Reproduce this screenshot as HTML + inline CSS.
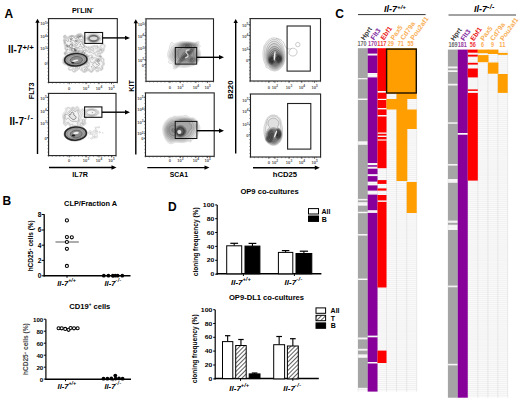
<!DOCTYPE html>
<html><head><meta charset="utf-8"><style>
html,body{margin:0;padding:0;background:#fff;}
svg{display:block;}
text{font-family:"Liberation Sans",sans-serif;}
</style></head><body>
<svg xmlns="http://www.w3.org/2000/svg" width="520" height="402" viewBox="0 0 520 402">
<defs>
<pattern id="hatch" patternUnits="userSpaceOnUse" width="3" height="3" patternTransform="rotate(45)">
<rect width="3" height="3" fill="#fff"/><line x1="0" y1="0" x2="0" y2="3" stroke="#000" stroke-width="1.25"/>
</pattern>
</defs>
<rect width="520" height="402" fill="#fff"/>
<text x="4.6" y="17.7" font-size="12" font-weight="bold" fill="#000" text-anchor="start"  >A</text>
<text x="72" y="13" font-size="7.2" font-weight="bold">PI<tspan font-size="4.5" dy="-2.8">-</tspan><tspan dy="2.8">LIN</tspan><tspan font-size="4.5" dy="-2.8">-</tspan></text>
<text x="8" y="53" font-size="10" font-weight="bold">Il-7<tspan font-size="7.8" dy="-3">+/+</tspan></text>
<text x="9.5" y="124.7" font-size="10" font-weight="bold">Il-7<tspan font-size="7.8" dy="-4.3" letter-spacing="0.9">-/-</tspan></text>
<text x="0" y="0" font-size="6.9" font-weight="bold" fill="#000" text-anchor="middle"  transform="translate(34.4,90.9) rotate(-90)" textLength="16.8" lengthAdjust="spacingAndGlyphs">FLT3</text>
<text x="0" y="0" font-size="6.6" font-weight="bold" fill="#000" text-anchor="middle"  transform="translate(133.7,86) rotate(-90)" textLength="11.7" lengthAdjust="spacingAndGlyphs">KIT</text>
<text x="0" y="0" font-size="7.2" font-weight="bold" fill="#000" text-anchor="middle"  transform="translate(233.1,89.8) rotate(-90)" textLength="18.5" lengthAdjust="spacingAndGlyphs">B220</text>
<line x1="37.5" y1="154" x2="37.5" y2="21.7" stroke="#000" stroke-width="1.4" />
<path d="M35.3,22.7 L37.5,18.7 L39.7,22.7 Z" fill="#000"/>
<line x1="135.8" y1="154.5" x2="135.8" y2="22.2" stroke="#000" stroke-width="1.4" />
<path d="M133.60000000000002,23.2 L135.8,19.2 L138.0,23.2 Z" fill="#000"/>
<line x1="235.7" y1="153.6" x2="235.7" y2="22" stroke="#000" stroke-width="1.4" />
<path d="M233.5,23 L235.7,19 L237.89999999999998,23 Z" fill="#000"/>
<line x1="49" y1="167.5" x2="113.5" y2="167.5" stroke="#000" stroke-width="1.4" />
<path d="M111.5,165.3 L116.5,167.5 L111.5,169.7 Z" fill="#000"/>
<line x1="147.3" y1="167.6" x2="206.5" y2="167.6" stroke="#000" stroke-width="1.4" />
<path d="M204.5,165.4 L209.5,167.6 L204.5,169.79999999999998 Z" fill="#000"/>
<line x1="253" y1="167.7" x2="316.8" y2="167.7" stroke="#000" stroke-width="1.4" />
<path d="M314.8,165.5 L319.8,167.7 L314.8,169.89999999999998 Z" fill="#000"/>
<text x="80.1" y="176.8" font-size="8.1" font-weight="bold" fill="#000" text-anchor="middle"  textLength="15.6" lengthAdjust="spacingAndGlyphs">IL7R</text>
<text x="178.9" y="176.8" font-size="8.1" font-weight="bold" fill="#000" text-anchor="middle"  textLength="18.2" lengthAdjust="spacingAndGlyphs">SCA1</text>
<text x="285" y="176.8" font-size="8.1" font-weight="bold" fill="#000" text-anchor="middle"  textLength="24.3" lengthAdjust="spacingAndGlyphs">hCD25</text>
<rect x="48.6" y="18.6" width="68.69999999999999" height="63.800000000000004" fill="#fff" stroke="#222" stroke-width="1.1" />
<line x1="47.4" y1="18.6" x2="48.6" y2="18.6" stroke="#333" stroke-width="0.5" />
<line x1="48.6" y1="82.4" x2="48.6" y2="83.60000000000001" stroke="#333" stroke-width="0.5" />
<line x1="47.4" y1="22.144444444444446" x2="48.6" y2="22.144444444444446" stroke="#333" stroke-width="0.5" />
<line x1="52.416666666666664" y1="82.4" x2="52.416666666666664" y2="83.60000000000001" stroke="#333" stroke-width="0.5" />
<line x1="47.4" y1="25.68888888888889" x2="48.6" y2="25.68888888888889" stroke="#333" stroke-width="0.5" />
<line x1="56.233333333333334" y1="82.4" x2="56.233333333333334" y2="83.60000000000001" stroke="#333" stroke-width="0.5" />
<line x1="47.4" y1="29.233333333333334" x2="48.6" y2="29.233333333333334" stroke="#333" stroke-width="0.5" />
<line x1="60.05" y1="82.4" x2="60.05" y2="83.60000000000001" stroke="#333" stroke-width="0.5" />
<line x1="47.4" y1="32.77777777777778" x2="48.6" y2="32.77777777777778" stroke="#333" stroke-width="0.5" />
<line x1="63.86666666666667" y1="82.4" x2="63.86666666666667" y2="83.60000000000001" stroke="#333" stroke-width="0.5" />
<line x1="47.4" y1="36.32222222222222" x2="48.6" y2="36.32222222222222" stroke="#333" stroke-width="0.5" />
<line x1="67.68333333333334" y1="82.4" x2="67.68333333333334" y2="83.60000000000001" stroke="#333" stroke-width="0.5" />
<line x1="47.4" y1="39.86666666666667" x2="48.6" y2="39.86666666666667" stroke="#333" stroke-width="0.5" />
<line x1="71.5" y1="82.4" x2="71.5" y2="83.60000000000001" stroke="#333" stroke-width="0.5" />
<line x1="47.4" y1="43.41111111111111" x2="48.6" y2="43.41111111111111" stroke="#333" stroke-width="0.5" />
<line x1="75.31666666666666" y1="82.4" x2="75.31666666666666" y2="83.60000000000001" stroke="#333" stroke-width="0.5" />
<line x1="47.4" y1="46.95555555555556" x2="48.6" y2="46.95555555555556" stroke="#333" stroke-width="0.5" />
<line x1="79.13333333333333" y1="82.4" x2="79.13333333333333" y2="83.60000000000001" stroke="#333" stroke-width="0.5" />
<line x1="47.4" y1="50.5" x2="48.6" y2="50.5" stroke="#333" stroke-width="0.5" />
<line x1="82.94999999999999" y1="82.4" x2="82.94999999999999" y2="83.60000000000001" stroke="#333" stroke-width="0.5" />
<line x1="47.4" y1="54.044444444444444" x2="48.6" y2="54.044444444444444" stroke="#333" stroke-width="0.5" />
<line x1="86.76666666666665" y1="82.4" x2="86.76666666666665" y2="83.60000000000001" stroke="#333" stroke-width="0.5" />
<line x1="47.4" y1="57.588888888888896" x2="48.6" y2="57.588888888888896" stroke="#333" stroke-width="0.5" />
<line x1="90.58333333333331" y1="82.4" x2="90.58333333333331" y2="83.60000000000001" stroke="#333" stroke-width="0.5" />
<line x1="47.4" y1="61.13333333333333" x2="48.6" y2="61.13333333333333" stroke="#333" stroke-width="0.5" />
<line x1="94.39999999999999" y1="82.4" x2="94.39999999999999" y2="83.60000000000001" stroke="#333" stroke-width="0.5" />
<line x1="47.4" y1="64.67777777777778" x2="48.6" y2="64.67777777777778" stroke="#333" stroke-width="0.5" />
<line x1="98.21666666666667" y1="82.4" x2="98.21666666666667" y2="83.60000000000001" stroke="#333" stroke-width="0.5" />
<line x1="47.4" y1="68.22222222222223" x2="48.6" y2="68.22222222222223" stroke="#333" stroke-width="0.5" />
<line x1="102.03333333333333" y1="82.4" x2="102.03333333333333" y2="83.60000000000001" stroke="#333" stroke-width="0.5" />
<line x1="47.4" y1="71.76666666666668" x2="48.6" y2="71.76666666666668" stroke="#333" stroke-width="0.5" />
<line x1="105.85" y1="82.4" x2="105.85" y2="83.60000000000001" stroke="#333" stroke-width="0.5" />
<line x1="47.4" y1="75.31111111111112" x2="48.6" y2="75.31111111111112" stroke="#333" stroke-width="0.5" />
<line x1="109.66666666666666" y1="82.4" x2="109.66666666666666" y2="83.60000000000001" stroke="#333" stroke-width="0.5" />
<line x1="47.4" y1="78.85555555555555" x2="48.6" y2="78.85555555555555" stroke="#333" stroke-width="0.5" />
<line x1="113.48333333333332" y1="82.4" x2="113.48333333333332" y2="83.60000000000001" stroke="#333" stroke-width="0.5" />
<line x1="47.4" y1="82.4" x2="48.6" y2="82.4" stroke="#333" stroke-width="0.5" />
<line x1="117.29999999999998" y1="82.4" x2="117.29999999999998" y2="83.60000000000001" stroke="#333" stroke-width="0.5" />
<line x1="46.800000000000004" y1="23" x2="48.6" y2="23" stroke="#222" stroke-width="0.7" />
<text x="46.7" y="25.1" font-size="4.1" font-weight="bold" text-anchor="end" fill="#555">10<tspan font-size="3.2" dy="-1.6">5</tspan></text>
<line x1="46.800000000000004" y1="36" x2="48.6" y2="36" stroke="#222" stroke-width="0.7" />
<text x="46.7" y="38.1" font-size="4.1" font-weight="bold" text-anchor="end" fill="#555">10<tspan font-size="3.2" dy="-1.6">4</tspan></text>
<line x1="46.800000000000004" y1="48.3" x2="48.6" y2="48.3" stroke="#222" stroke-width="0.7" />
<text x="46.7" y="50.4" font-size="4.1" font-weight="bold" text-anchor="end" fill="#555">10<tspan font-size="3.2" dy="-1.6">3</tspan></text>
<line x1="46.800000000000004" y1="63" x2="48.6" y2="63" stroke="#222" stroke-width="0.7" />
<text x="46.7" y="65.1" font-size="4.1" font-weight="bold" text-anchor="end" fill="#555">0</text>
<line x1="69.2" y1="82.4" x2="69.2" y2="84.2" stroke="#222" stroke-width="0.7" />
<text x="69.2" y="89.5" font-size="4.1" font-weight="bold" text-anchor="middle" fill="#555">0</text>
<line x1="86" y1="82.4" x2="86" y2="84.2" stroke="#222" stroke-width="0.7" />
<text x="86" y="89.5" font-size="4.1" font-weight="bold" text-anchor="middle" fill="#555">10<tspan font-size="3.2" dy="-1.6">3</tspan></text>
<line x1="99" y1="82.4" x2="99" y2="84.2" stroke="#222" stroke-width="0.7" />
<text x="99" y="89.5" font-size="4.1" font-weight="bold" text-anchor="middle" fill="#555">10<tspan font-size="3.2" dy="-1.6">4</tspan></text>
<line x1="111.5" y1="82.4" x2="111.5" y2="84.2" stroke="#222" stroke-width="0.7" />
<text x="111.5" y="89.5" font-size="4.1" font-weight="bold" text-anchor="middle" fill="#555">10<tspan font-size="3.2" dy="-1.6">5</tspan></text>
<rect x="48.6" y="93.4" width="67.4" height="62.19999999999999" fill="#fff" stroke="#222" stroke-width="1.1" />
<line x1="47.4" y1="93.4" x2="48.6" y2="93.4" stroke="#333" stroke-width="0.5" />
<line x1="48.6" y1="155.6" x2="48.6" y2="156.79999999999998" stroke="#333" stroke-width="0.5" />
<line x1="47.4" y1="96.85555555555555" x2="48.6" y2="96.85555555555555" stroke="#333" stroke-width="0.5" />
<line x1="52.34444444444445" y1="155.6" x2="52.34444444444445" y2="156.79999999999998" stroke="#333" stroke-width="0.5" />
<line x1="47.4" y1="100.31111111111112" x2="48.6" y2="100.31111111111112" stroke="#333" stroke-width="0.5" />
<line x1="56.08888888888889" y1="155.6" x2="56.08888888888889" y2="156.79999999999998" stroke="#333" stroke-width="0.5" />
<line x1="47.4" y1="103.76666666666667" x2="48.6" y2="103.76666666666667" stroke="#333" stroke-width="0.5" />
<line x1="59.833333333333336" y1="155.6" x2="59.833333333333336" y2="156.79999999999998" stroke="#333" stroke-width="0.5" />
<line x1="47.4" y1="107.22222222222223" x2="48.6" y2="107.22222222222223" stroke="#333" stroke-width="0.5" />
<line x1="63.57777777777778" y1="155.6" x2="63.57777777777778" y2="156.79999999999998" stroke="#333" stroke-width="0.5" />
<line x1="47.4" y1="110.67777777777778" x2="48.6" y2="110.67777777777778" stroke="#333" stroke-width="0.5" />
<line x1="67.32222222222222" y1="155.6" x2="67.32222222222222" y2="156.79999999999998" stroke="#333" stroke-width="0.5" />
<line x1="47.4" y1="114.13333333333334" x2="48.6" y2="114.13333333333334" stroke="#333" stroke-width="0.5" />
<line x1="71.06666666666666" y1="155.6" x2="71.06666666666666" y2="156.79999999999998" stroke="#333" stroke-width="0.5" />
<line x1="47.4" y1="117.58888888888889" x2="48.6" y2="117.58888888888889" stroke="#333" stroke-width="0.5" />
<line x1="74.81111111111112" y1="155.6" x2="74.81111111111112" y2="156.79999999999998" stroke="#333" stroke-width="0.5" />
<line x1="47.4" y1="121.04444444444445" x2="48.6" y2="121.04444444444445" stroke="#333" stroke-width="0.5" />
<line x1="78.55555555555556" y1="155.6" x2="78.55555555555556" y2="156.79999999999998" stroke="#333" stroke-width="0.5" />
<line x1="47.4" y1="124.5" x2="48.6" y2="124.5" stroke="#333" stroke-width="0.5" />
<line x1="82.30000000000001" y1="155.6" x2="82.30000000000001" y2="156.79999999999998" stroke="#333" stroke-width="0.5" />
<line x1="47.4" y1="127.95555555555555" x2="48.6" y2="127.95555555555555" stroke="#333" stroke-width="0.5" />
<line x1="86.04444444444445" y1="155.6" x2="86.04444444444445" y2="156.79999999999998" stroke="#333" stroke-width="0.5" />
<line x1="47.4" y1="131.4111111111111" x2="48.6" y2="131.4111111111111" stroke="#333" stroke-width="0.5" />
<line x1="89.78888888888889" y1="155.6" x2="89.78888888888889" y2="156.79999999999998" stroke="#333" stroke-width="0.5" />
<line x1="47.4" y1="134.86666666666667" x2="48.6" y2="134.86666666666667" stroke="#333" stroke-width="0.5" />
<line x1="93.53333333333333" y1="155.6" x2="93.53333333333333" y2="156.79999999999998" stroke="#333" stroke-width="0.5" />
<line x1="47.4" y1="138.32222222222222" x2="48.6" y2="138.32222222222222" stroke="#333" stroke-width="0.5" />
<line x1="97.27777777777777" y1="155.6" x2="97.27777777777777" y2="156.79999999999998" stroke="#333" stroke-width="0.5" />
<line x1="47.4" y1="141.77777777777777" x2="48.6" y2="141.77777777777777" stroke="#333" stroke-width="0.5" />
<line x1="101.02222222222224" y1="155.6" x2="101.02222222222224" y2="156.79999999999998" stroke="#333" stroke-width="0.5" />
<line x1="47.4" y1="145.23333333333332" x2="48.6" y2="145.23333333333332" stroke="#333" stroke-width="0.5" />
<line x1="104.76666666666668" y1="155.6" x2="104.76666666666668" y2="156.79999999999998" stroke="#333" stroke-width="0.5" />
<line x1="47.4" y1="148.68888888888887" x2="48.6" y2="148.68888888888887" stroke="#333" stroke-width="0.5" />
<line x1="108.51111111111112" y1="155.6" x2="108.51111111111112" y2="156.79999999999998" stroke="#333" stroke-width="0.5" />
<line x1="47.4" y1="152.14444444444445" x2="48.6" y2="152.14444444444445" stroke="#333" stroke-width="0.5" />
<line x1="112.25555555555556" y1="155.6" x2="112.25555555555556" y2="156.79999999999998" stroke="#333" stroke-width="0.5" />
<line x1="47.4" y1="155.6" x2="48.6" y2="155.6" stroke="#333" stroke-width="0.5" />
<line x1="116.0" y1="155.6" x2="116.0" y2="156.79999999999998" stroke="#333" stroke-width="0.5" />
<line x1="46.800000000000004" y1="97.5" x2="48.6" y2="97.5" stroke="#222" stroke-width="0.7" />
<text x="46.7" y="99.6" font-size="4.1" font-weight="bold" text-anchor="end" fill="#555">10<tspan font-size="3.2" dy="-1.6">5</tspan></text>
<line x1="46.800000000000004" y1="110.5" x2="48.6" y2="110.5" stroke="#222" stroke-width="0.7" />
<text x="46.7" y="112.6" font-size="4.1" font-weight="bold" text-anchor="end" fill="#555">10<tspan font-size="3.2" dy="-1.6">4</tspan></text>
<line x1="46.800000000000004" y1="122.8" x2="48.6" y2="122.8" stroke="#222" stroke-width="0.7" />
<text x="46.7" y="124.89999999999999" font-size="4.1" font-weight="bold" text-anchor="end" fill="#555">10<tspan font-size="3.2" dy="-1.6">3</tspan></text>
<line x1="46.800000000000004" y1="137.5" x2="48.6" y2="137.5" stroke="#222" stroke-width="0.7" />
<text x="46.7" y="139.6" font-size="4.1" font-weight="bold" text-anchor="end" fill="#555">0</text>
<line x1="69.2" y1="155.6" x2="69.2" y2="157.4" stroke="#222" stroke-width="0.7" />
<text x="69.2" y="162" font-size="4.1" font-weight="bold" text-anchor="middle" fill="#555">0</text>
<line x1="86" y1="155.6" x2="86" y2="157.4" stroke="#222" stroke-width="0.7" />
<text x="86" y="162" font-size="4.1" font-weight="bold" text-anchor="middle" fill="#555">10<tspan font-size="3.2" dy="-1.6">3</tspan></text>
<line x1="99" y1="155.6" x2="99" y2="157.4" stroke="#222" stroke-width="0.7" />
<text x="99" y="162" font-size="4.1" font-weight="bold" text-anchor="middle" fill="#555">10<tspan font-size="3.2" dy="-1.6">4</tspan></text>
<line x1="111.5" y1="155.6" x2="111.5" y2="157.4" stroke="#222" stroke-width="0.7" />
<text x="111.5" y="162" font-size="4.1" font-weight="bold" text-anchor="middle" fill="#555">10<tspan font-size="3.2" dy="-1.6">5</tspan></text>
<rect x="146" y="18.8" width="67.5" height="62.5" fill="#fff" stroke="#222" stroke-width="1.1" />
<line x1="144.8" y1="18.8" x2="146" y2="18.8" stroke="#333" stroke-width="0.5" />
<line x1="146.0" y1="81.3" x2="146.0" y2="82.5" stroke="#333" stroke-width="0.5" />
<line x1="144.8" y1="22.272222222222222" x2="146" y2="22.272222222222222" stroke="#333" stroke-width="0.5" />
<line x1="149.75" y1="81.3" x2="149.75" y2="82.5" stroke="#333" stroke-width="0.5" />
<line x1="144.8" y1="25.744444444444447" x2="146" y2="25.744444444444447" stroke="#333" stroke-width="0.5" />
<line x1="153.5" y1="81.3" x2="153.5" y2="82.5" stroke="#333" stroke-width="0.5" />
<line x1="144.8" y1="29.21666666666667" x2="146" y2="29.21666666666667" stroke="#333" stroke-width="0.5" />
<line x1="157.25" y1="81.3" x2="157.25" y2="82.5" stroke="#333" stroke-width="0.5" />
<line x1="144.8" y1="32.68888888888889" x2="146" y2="32.68888888888889" stroke="#333" stroke-width="0.5" />
<line x1="161.0" y1="81.3" x2="161.0" y2="82.5" stroke="#333" stroke-width="0.5" />
<line x1="144.8" y1="36.16111111111111" x2="146" y2="36.16111111111111" stroke="#333" stroke-width="0.5" />
<line x1="164.75" y1="81.3" x2="164.75" y2="82.5" stroke="#333" stroke-width="0.5" />
<line x1="144.8" y1="39.63333333333333" x2="146" y2="39.63333333333333" stroke="#333" stroke-width="0.5" />
<line x1="168.5" y1="81.3" x2="168.5" y2="82.5" stroke="#333" stroke-width="0.5" />
<line x1="144.8" y1="43.105555555555554" x2="146" y2="43.105555555555554" stroke="#333" stroke-width="0.5" />
<line x1="172.25" y1="81.3" x2="172.25" y2="82.5" stroke="#333" stroke-width="0.5" />
<line x1="144.8" y1="46.57777777777778" x2="146" y2="46.57777777777778" stroke="#333" stroke-width="0.5" />
<line x1="176.0" y1="81.3" x2="176.0" y2="82.5" stroke="#333" stroke-width="0.5" />
<line x1="144.8" y1="50.05" x2="146" y2="50.05" stroke="#333" stroke-width="0.5" />
<line x1="179.75" y1="81.3" x2="179.75" y2="82.5" stroke="#333" stroke-width="0.5" />
<line x1="144.8" y1="53.522222222222226" x2="146" y2="53.522222222222226" stroke="#333" stroke-width="0.5" />
<line x1="183.5" y1="81.3" x2="183.5" y2="82.5" stroke="#333" stroke-width="0.5" />
<line x1="144.8" y1="56.99444444444444" x2="146" y2="56.99444444444444" stroke="#333" stroke-width="0.5" />
<line x1="187.25" y1="81.3" x2="187.25" y2="82.5" stroke="#333" stroke-width="0.5" />
<line x1="144.8" y1="60.46666666666667" x2="146" y2="60.46666666666667" stroke="#333" stroke-width="0.5" />
<line x1="191.0" y1="81.3" x2="191.0" y2="82.5" stroke="#333" stroke-width="0.5" />
<line x1="144.8" y1="63.93888888888888" x2="146" y2="63.93888888888888" stroke="#333" stroke-width="0.5" />
<line x1="194.75" y1="81.3" x2="194.75" y2="82.5" stroke="#333" stroke-width="0.5" />
<line x1="144.8" y1="67.41111111111111" x2="146" y2="67.41111111111111" stroke="#333" stroke-width="0.5" />
<line x1="198.5" y1="81.3" x2="198.5" y2="82.5" stroke="#333" stroke-width="0.5" />
<line x1="144.8" y1="70.88333333333334" x2="146" y2="70.88333333333334" stroke="#333" stroke-width="0.5" />
<line x1="202.25" y1="81.3" x2="202.25" y2="82.5" stroke="#333" stroke-width="0.5" />
<line x1="144.8" y1="74.35555555555555" x2="146" y2="74.35555555555555" stroke="#333" stroke-width="0.5" />
<line x1="206.0" y1="81.3" x2="206.0" y2="82.5" stroke="#333" stroke-width="0.5" />
<line x1="144.8" y1="77.82777777777778" x2="146" y2="77.82777777777778" stroke="#333" stroke-width="0.5" />
<line x1="209.75" y1="81.3" x2="209.75" y2="82.5" stroke="#333" stroke-width="0.5" />
<line x1="144.8" y1="81.3" x2="146" y2="81.3" stroke="#333" stroke-width="0.5" />
<line x1="213.5" y1="81.3" x2="213.5" y2="82.5" stroke="#333" stroke-width="0.5" />
<line x1="144.2" y1="24" x2="146" y2="24" stroke="#222" stroke-width="0.7" />
<text x="144.1" y="26.1" font-size="4.1" font-weight="bold" text-anchor="end" fill="#555">10<tspan font-size="3.2" dy="-1.6">5</tspan></text>
<line x1="144.2" y1="35.4" x2="146" y2="35.4" stroke="#222" stroke-width="0.7" />
<text x="144.1" y="37.5" font-size="4.1" font-weight="bold" text-anchor="end" fill="#555">10<tspan font-size="3.2" dy="-1.6">4</tspan></text>
<line x1="144.2" y1="48" x2="146" y2="48" stroke="#222" stroke-width="0.7" />
<text x="144.1" y="50.1" font-size="4.1" font-weight="bold" text-anchor="end" fill="#555">10<tspan font-size="3.2" dy="-1.6">3</tspan></text>
<line x1="144.2" y1="59.7" x2="146" y2="59.7" stroke="#222" stroke-width="0.7" />
<text x="144.1" y="61.800000000000004" font-size="4.1" font-weight="bold" text-anchor="end" fill="#555">10<tspan font-size="3.2" dy="-1.6">2</tspan></text>
<line x1="144.2" y1="64.6" x2="146" y2="64.6" stroke="#222" stroke-width="0.7" />
<text x="144.1" y="66.69999999999999" font-size="4.1" font-weight="bold" text-anchor="end" fill="#555">0</text>
<line x1="169.9" y1="81.3" x2="169.9" y2="83.1" stroke="#222" stroke-width="0.7" />
<text x="169.9" y="89" font-size="4.1" font-weight="bold" text-anchor="middle" fill="#555">0</text>
<line x1="180.3" y1="81.3" x2="180.3" y2="83.1" stroke="#222" stroke-width="0.7" />
<text x="180.3" y="89" font-size="4.1" font-weight="bold" text-anchor="middle" fill="#555">10<tspan font-size="3.2" dy="-1.6">3</tspan></text>
<line x1="195.9" y1="81.3" x2="195.9" y2="83.1" stroke="#222" stroke-width="0.7" />
<text x="195.9" y="89" font-size="4.1" font-weight="bold" text-anchor="middle" fill="#555">10<tspan font-size="3.2" dy="-1.6">4</tspan></text>
<line x1="207.6" y1="81.3" x2="207.6" y2="83.1" stroke="#222" stroke-width="0.7" />
<text x="207.6" y="89" font-size="4.1" font-weight="bold" text-anchor="middle" fill="#555">10<tspan font-size="3.2" dy="-1.6">5</tspan></text>
<rect x="145.5" y="92.9" width="68.69999999999999" height="63.400000000000006" fill="#fff" stroke="#222" stroke-width="1.1" />
<line x1="144.3" y1="92.9" x2="145.5" y2="92.9" stroke="#333" stroke-width="0.5" />
<line x1="145.5" y1="156.3" x2="145.5" y2="157.5" stroke="#333" stroke-width="0.5" />
<line x1="144.3" y1="96.42222222222223" x2="145.5" y2="96.42222222222223" stroke="#333" stroke-width="0.5" />
<line x1="149.31666666666666" y1="156.3" x2="149.31666666666666" y2="157.5" stroke="#333" stroke-width="0.5" />
<line x1="144.3" y1="99.94444444444446" x2="145.5" y2="99.94444444444446" stroke="#333" stroke-width="0.5" />
<line x1="153.13333333333333" y1="156.3" x2="153.13333333333333" y2="157.5" stroke="#333" stroke-width="0.5" />
<line x1="144.3" y1="103.46666666666667" x2="145.5" y2="103.46666666666667" stroke="#333" stroke-width="0.5" />
<line x1="156.95" y1="156.3" x2="156.95" y2="157.5" stroke="#333" stroke-width="0.5" />
<line x1="144.3" y1="106.9888888888889" x2="145.5" y2="106.9888888888889" stroke="#333" stroke-width="0.5" />
<line x1="160.76666666666665" y1="156.3" x2="160.76666666666665" y2="157.5" stroke="#333" stroke-width="0.5" />
<line x1="144.3" y1="110.51111111111112" x2="145.5" y2="110.51111111111112" stroke="#333" stroke-width="0.5" />
<line x1="164.58333333333331" y1="156.3" x2="164.58333333333331" y2="157.5" stroke="#333" stroke-width="0.5" />
<line x1="144.3" y1="114.03333333333335" x2="145.5" y2="114.03333333333335" stroke="#333" stroke-width="0.5" />
<line x1="168.4" y1="156.3" x2="168.4" y2="157.5" stroke="#333" stroke-width="0.5" />
<line x1="144.3" y1="117.55555555555557" x2="145.5" y2="117.55555555555557" stroke="#333" stroke-width="0.5" />
<line x1="172.21666666666667" y1="156.3" x2="172.21666666666667" y2="157.5" stroke="#333" stroke-width="0.5" />
<line x1="144.3" y1="121.07777777777778" x2="145.5" y2="121.07777777777778" stroke="#333" stroke-width="0.5" />
<line x1="176.03333333333333" y1="156.3" x2="176.03333333333333" y2="157.5" stroke="#333" stroke-width="0.5" />
<line x1="144.3" y1="124.60000000000001" x2="145.5" y2="124.60000000000001" stroke="#333" stroke-width="0.5" />
<line x1="179.85" y1="156.3" x2="179.85" y2="157.5" stroke="#333" stroke-width="0.5" />
<line x1="144.3" y1="128.12222222222223" x2="145.5" y2="128.12222222222223" stroke="#333" stroke-width="0.5" />
<line x1="183.66666666666666" y1="156.3" x2="183.66666666666666" y2="157.5" stroke="#333" stroke-width="0.5" />
<line x1="144.3" y1="131.64444444444445" x2="145.5" y2="131.64444444444445" stroke="#333" stroke-width="0.5" />
<line x1="187.48333333333332" y1="156.3" x2="187.48333333333332" y2="157.5" stroke="#333" stroke-width="0.5" />
<line x1="144.3" y1="135.16666666666669" x2="145.5" y2="135.16666666666669" stroke="#333" stroke-width="0.5" />
<line x1="191.29999999999998" y1="156.3" x2="191.29999999999998" y2="157.5" stroke="#333" stroke-width="0.5" />
<line x1="144.3" y1="138.6888888888889" x2="145.5" y2="138.6888888888889" stroke="#333" stroke-width="0.5" />
<line x1="195.11666666666667" y1="156.3" x2="195.11666666666667" y2="157.5" stroke="#333" stroke-width="0.5" />
<line x1="144.3" y1="142.2111111111111" x2="145.5" y2="142.2111111111111" stroke="#333" stroke-width="0.5" />
<line x1="198.93333333333334" y1="156.3" x2="198.93333333333334" y2="157.5" stroke="#333" stroke-width="0.5" />
<line x1="144.3" y1="145.73333333333335" x2="145.5" y2="145.73333333333335" stroke="#333" stroke-width="0.5" />
<line x1="202.75" y1="156.3" x2="202.75" y2="157.5" stroke="#333" stroke-width="0.5" />
<line x1="144.3" y1="149.25555555555556" x2="145.5" y2="149.25555555555556" stroke="#333" stroke-width="0.5" />
<line x1="206.56666666666666" y1="156.3" x2="206.56666666666666" y2="157.5" stroke="#333" stroke-width="0.5" />
<line x1="144.3" y1="152.7777777777778" x2="145.5" y2="152.7777777777778" stroke="#333" stroke-width="0.5" />
<line x1="210.38333333333333" y1="156.3" x2="210.38333333333333" y2="157.5" stroke="#333" stroke-width="0.5" />
<line x1="144.3" y1="156.3" x2="145.5" y2="156.3" stroke="#333" stroke-width="0.5" />
<line x1="214.2" y1="156.3" x2="214.2" y2="157.5" stroke="#333" stroke-width="0.5" />
<line x1="143.7" y1="97.6" x2="145.5" y2="97.6" stroke="#222" stroke-width="0.7" />
<text x="143.6" y="99.69999999999999" font-size="4.1" font-weight="bold" text-anchor="end" fill="#555">10<tspan font-size="3.2" dy="-1.6">5</tspan></text>
<line x1="143.7" y1="109.0" x2="145.5" y2="109.0" stroke="#222" stroke-width="0.7" />
<text x="143.6" y="111.1" font-size="4.1" font-weight="bold" text-anchor="end" fill="#555">10<tspan font-size="3.2" dy="-1.6">4</tspan></text>
<line x1="143.7" y1="121.6" x2="145.5" y2="121.6" stroke="#222" stroke-width="0.7" />
<text x="143.6" y="123.69999999999999" font-size="4.1" font-weight="bold" text-anchor="end" fill="#555">10<tspan font-size="3.2" dy="-1.6">3</tspan></text>
<line x1="143.7" y1="133.3" x2="145.5" y2="133.3" stroke="#222" stroke-width="0.7" />
<text x="143.6" y="135.4" font-size="4.1" font-weight="bold" text-anchor="end" fill="#555">10<tspan font-size="3.2" dy="-1.6">2</tspan></text>
<line x1="143.7" y1="138.2" x2="145.5" y2="138.2" stroke="#222" stroke-width="0.7" />
<text x="143.6" y="140.29999999999998" font-size="4.1" font-weight="bold" text-anchor="end" fill="#555">0</text>
<line x1="169.9" y1="156.3" x2="169.9" y2="158.10000000000002" stroke="#222" stroke-width="0.7" />
<text x="169.9" y="162" font-size="4.1" font-weight="bold" text-anchor="middle" fill="#555">0</text>
<line x1="180.3" y1="156.3" x2="180.3" y2="158.10000000000002" stroke="#222" stroke-width="0.7" />
<text x="180.3" y="162" font-size="4.1" font-weight="bold" text-anchor="middle" fill="#555">10<tspan font-size="3.2" dy="-1.6">3</tspan></text>
<line x1="195.9" y1="156.3" x2="195.9" y2="158.10000000000002" stroke="#222" stroke-width="0.7" />
<text x="195.9" y="162" font-size="4.1" font-weight="bold" text-anchor="middle" fill="#555">10<tspan font-size="3.2" dy="-1.6">4</tspan></text>
<line x1="207.6" y1="156.3" x2="207.6" y2="158.10000000000002" stroke="#222" stroke-width="0.7" />
<text x="207.6" y="162" font-size="4.1" font-weight="bold" text-anchor="middle" fill="#555">10<tspan font-size="3.2" dy="-1.6">5</tspan></text>
<rect x="250.2" y="18.6" width="70.30000000000001" height="62.4" fill="#fff" stroke="#222" stroke-width="1.1" />
<line x1="249.0" y1="18.6" x2="250.2" y2="18.6" stroke="#333" stroke-width="0.5" />
<line x1="250.2" y1="81" x2="250.2" y2="82.2" stroke="#333" stroke-width="0.5" />
<line x1="249.0" y1="22.06666666666667" x2="250.2" y2="22.06666666666667" stroke="#333" stroke-width="0.5" />
<line x1="254.10555555555555" y1="81" x2="254.10555555555555" y2="82.2" stroke="#333" stroke-width="0.5" />
<line x1="249.0" y1="25.533333333333335" x2="250.2" y2="25.533333333333335" stroke="#333" stroke-width="0.5" />
<line x1="258.0111111111111" y1="81" x2="258.0111111111111" y2="82.2" stroke="#333" stroke-width="0.5" />
<line x1="249.0" y1="29.0" x2="250.2" y2="29.0" stroke="#333" stroke-width="0.5" />
<line x1="261.91666666666663" y1="81" x2="261.91666666666663" y2="82.2" stroke="#333" stroke-width="0.5" />
<line x1="249.0" y1="32.46666666666667" x2="250.2" y2="32.46666666666667" stroke="#333" stroke-width="0.5" />
<line x1="265.8222222222222" y1="81" x2="265.8222222222222" y2="82.2" stroke="#333" stroke-width="0.5" />
<line x1="249.0" y1="35.93333333333334" x2="250.2" y2="35.93333333333334" stroke="#333" stroke-width="0.5" />
<line x1="269.72777777777776" y1="81" x2="269.72777777777776" y2="82.2" stroke="#333" stroke-width="0.5" />
<line x1="249.0" y1="39.4" x2="250.2" y2="39.4" stroke="#333" stroke-width="0.5" />
<line x1="273.6333333333333" y1="81" x2="273.6333333333333" y2="82.2" stroke="#333" stroke-width="0.5" />
<line x1="249.0" y1="42.86666666666667" x2="250.2" y2="42.86666666666667" stroke="#333" stroke-width="0.5" />
<line x1="277.5388888888889" y1="81" x2="277.5388888888889" y2="82.2" stroke="#333" stroke-width="0.5" />
<line x1="249.0" y1="46.333333333333336" x2="250.2" y2="46.333333333333336" stroke="#333" stroke-width="0.5" />
<line x1="281.44444444444446" y1="81" x2="281.44444444444446" y2="82.2" stroke="#333" stroke-width="0.5" />
<line x1="249.0" y1="49.800000000000004" x2="250.2" y2="49.800000000000004" stroke="#333" stroke-width="0.5" />
<line x1="285.35" y1="81" x2="285.35" y2="82.2" stroke="#333" stroke-width="0.5" />
<line x1="249.0" y1="53.266666666666666" x2="250.2" y2="53.266666666666666" stroke="#333" stroke-width="0.5" />
<line x1="289.25555555555553" y1="81" x2="289.25555555555553" y2="82.2" stroke="#333" stroke-width="0.5" />
<line x1="249.0" y1="56.733333333333334" x2="250.2" y2="56.733333333333334" stroke="#333" stroke-width="0.5" />
<line x1="293.1611111111111" y1="81" x2="293.1611111111111" y2="82.2" stroke="#333" stroke-width="0.5" />
<line x1="249.0" y1="60.199999999999996" x2="250.2" y2="60.199999999999996" stroke="#333" stroke-width="0.5" />
<line x1="297.06666666666666" y1="81" x2="297.06666666666666" y2="82.2" stroke="#333" stroke-width="0.5" />
<line x1="249.0" y1="63.666666666666664" x2="250.2" y2="63.666666666666664" stroke="#333" stroke-width="0.5" />
<line x1="300.97222222222223" y1="81" x2="300.97222222222223" y2="82.2" stroke="#333" stroke-width="0.5" />
<line x1="249.0" y1="67.13333333333333" x2="250.2" y2="67.13333333333333" stroke="#333" stroke-width="0.5" />
<line x1="304.8777777777778" y1="81" x2="304.8777777777778" y2="82.2" stroke="#333" stroke-width="0.5" />
<line x1="249.0" y1="70.6" x2="250.2" y2="70.6" stroke="#333" stroke-width="0.5" />
<line x1="308.7833333333333" y1="81" x2="308.7833333333333" y2="82.2" stroke="#333" stroke-width="0.5" />
<line x1="249.0" y1="74.06666666666666" x2="250.2" y2="74.06666666666666" stroke="#333" stroke-width="0.5" />
<line x1="312.68888888888887" y1="81" x2="312.68888888888887" y2="82.2" stroke="#333" stroke-width="0.5" />
<line x1="249.0" y1="77.53333333333333" x2="250.2" y2="77.53333333333333" stroke="#333" stroke-width="0.5" />
<line x1="316.59444444444443" y1="81" x2="316.59444444444443" y2="82.2" stroke="#333" stroke-width="0.5" />
<line x1="249.0" y1="81.0" x2="250.2" y2="81.0" stroke="#333" stroke-width="0.5" />
<line x1="320.5" y1="81" x2="320.5" y2="82.2" stroke="#333" stroke-width="0.5" />
<line x1="248.39999999999998" y1="24.6" x2="250.2" y2="24.6" stroke="#222" stroke-width="0.7" />
<text x="248.29999999999998" y="26.700000000000003" font-size="4.1" font-weight="bold" text-anchor="end" fill="#555">10<tspan font-size="3.2" dy="-1.6">5</tspan></text>
<line x1="248.39999999999998" y1="35.4" x2="250.2" y2="35.4" stroke="#222" stroke-width="0.7" />
<text x="248.29999999999998" y="37.5" font-size="4.1" font-weight="bold" text-anchor="end" fill="#555">10<tspan font-size="3.2" dy="-1.6">4</tspan></text>
<line x1="248.39999999999998" y1="49.3" x2="250.2" y2="49.3" stroke="#222" stroke-width="0.7" />
<text x="248.29999999999998" y="51.4" font-size="4.1" font-weight="bold" text-anchor="end" fill="#555">10<tspan font-size="3.2" dy="-1.6">3</tspan></text>
<line x1="248.39999999999998" y1="59.7" x2="250.2" y2="59.7" stroke="#222" stroke-width="0.7" />
<text x="248.29999999999998" y="61.800000000000004" font-size="4.1" font-weight="bold" text-anchor="end" fill="#555">0</text>
<line x1="268.8" y1="81" x2="268.8" y2="82.8" stroke="#222" stroke-width="0.7" />
<text x="268.8" y="88.7" font-size="4.1" font-weight="bold" text-anchor="middle" fill="#555">0</text>
<line x1="274.9" y1="81" x2="274.9" y2="82.8" stroke="#222" stroke-width="0.7" />
<text x="274.9" y="88.7" font-size="4.1" font-weight="bold" text-anchor="middle" fill="#555">10<tspan font-size="3.2" dy="-1.6">2</tspan></text>
<line x1="289" y1="81" x2="289" y2="82.8" stroke="#222" stroke-width="0.7" />
<text x="289" y="88.7" font-size="4.1" font-weight="bold" text-anchor="middle" fill="#555">10<tspan font-size="3.2" dy="-1.6">3</tspan></text>
<line x1="301.8" y1="81" x2="301.8" y2="82.8" stroke="#222" stroke-width="0.7" />
<text x="301.8" y="88.7" font-size="4.1" font-weight="bold" text-anchor="middle" fill="#555">10<tspan font-size="3.2" dy="-1.6">4</tspan></text>
<line x1="314.6" y1="81" x2="314.6" y2="82.8" stroke="#222" stroke-width="0.7" />
<text x="314.6" y="88.7" font-size="4.1" font-weight="bold" text-anchor="middle" fill="#555">10<tspan font-size="3.2" dy="-1.6">5</tspan></text>
<rect x="250.5" y="94" width="70.10000000000002" height="63" fill="#fff" stroke="#222" stroke-width="1.1" />
<line x1="249.3" y1="94.0" x2="250.5" y2="94.0" stroke="#333" stroke-width="0.5" />
<line x1="250.5" y1="157" x2="250.5" y2="158.2" stroke="#333" stroke-width="0.5" />
<line x1="249.3" y1="97.5" x2="250.5" y2="97.5" stroke="#333" stroke-width="0.5" />
<line x1="254.39444444444445" y1="157" x2="254.39444444444445" y2="158.2" stroke="#333" stroke-width="0.5" />
<line x1="249.3" y1="101.0" x2="250.5" y2="101.0" stroke="#333" stroke-width="0.5" />
<line x1="258.2888888888889" y1="157" x2="258.2888888888889" y2="158.2" stroke="#333" stroke-width="0.5" />
<line x1="249.3" y1="104.5" x2="250.5" y2="104.5" stroke="#333" stroke-width="0.5" />
<line x1="262.18333333333334" y1="157" x2="262.18333333333334" y2="158.2" stroke="#333" stroke-width="0.5" />
<line x1="249.3" y1="108.0" x2="250.5" y2="108.0" stroke="#333" stroke-width="0.5" />
<line x1="266.0777777777778" y1="157" x2="266.0777777777778" y2="158.2" stroke="#333" stroke-width="0.5" />
<line x1="249.3" y1="111.5" x2="250.5" y2="111.5" stroke="#333" stroke-width="0.5" />
<line x1="269.97222222222223" y1="157" x2="269.97222222222223" y2="158.2" stroke="#333" stroke-width="0.5" />
<line x1="249.3" y1="115.0" x2="250.5" y2="115.0" stroke="#333" stroke-width="0.5" />
<line x1="273.8666666666667" y1="157" x2="273.8666666666667" y2="158.2" stroke="#333" stroke-width="0.5" />
<line x1="249.3" y1="118.5" x2="250.5" y2="118.5" stroke="#333" stroke-width="0.5" />
<line x1="277.7611111111111" y1="157" x2="277.7611111111111" y2="158.2" stroke="#333" stroke-width="0.5" />
<line x1="249.3" y1="122.0" x2="250.5" y2="122.0" stroke="#333" stroke-width="0.5" />
<line x1="281.65555555555557" y1="157" x2="281.65555555555557" y2="158.2" stroke="#333" stroke-width="0.5" />
<line x1="249.3" y1="125.5" x2="250.5" y2="125.5" stroke="#333" stroke-width="0.5" />
<line x1="285.55" y1="157" x2="285.55" y2="158.2" stroke="#333" stroke-width="0.5" />
<line x1="249.3" y1="129.0" x2="250.5" y2="129.0" stroke="#333" stroke-width="0.5" />
<line x1="289.44444444444446" y1="157" x2="289.44444444444446" y2="158.2" stroke="#333" stroke-width="0.5" />
<line x1="249.3" y1="132.5" x2="250.5" y2="132.5" stroke="#333" stroke-width="0.5" />
<line x1="293.3388888888889" y1="157" x2="293.3388888888889" y2="158.2" stroke="#333" stroke-width="0.5" />
<line x1="249.3" y1="136.0" x2="250.5" y2="136.0" stroke="#333" stroke-width="0.5" />
<line x1="297.23333333333335" y1="157" x2="297.23333333333335" y2="158.2" stroke="#333" stroke-width="0.5" />
<line x1="249.3" y1="139.5" x2="250.5" y2="139.5" stroke="#333" stroke-width="0.5" />
<line x1="301.1277777777778" y1="157" x2="301.1277777777778" y2="158.2" stroke="#333" stroke-width="0.5" />
<line x1="249.3" y1="143.0" x2="250.5" y2="143.0" stroke="#333" stroke-width="0.5" />
<line x1="305.02222222222224" y1="157" x2="305.02222222222224" y2="158.2" stroke="#333" stroke-width="0.5" />
<line x1="249.3" y1="146.5" x2="250.5" y2="146.5" stroke="#333" stroke-width="0.5" />
<line x1="308.9166666666667" y1="157" x2="308.9166666666667" y2="158.2" stroke="#333" stroke-width="0.5" />
<line x1="249.3" y1="150.0" x2="250.5" y2="150.0" stroke="#333" stroke-width="0.5" />
<line x1="312.81111111111113" y1="157" x2="312.81111111111113" y2="158.2" stroke="#333" stroke-width="0.5" />
<line x1="249.3" y1="153.5" x2="250.5" y2="153.5" stroke="#333" stroke-width="0.5" />
<line x1="316.7055555555556" y1="157" x2="316.7055555555556" y2="158.2" stroke="#333" stroke-width="0.5" />
<line x1="249.3" y1="157.0" x2="250.5" y2="157.0" stroke="#333" stroke-width="0.5" />
<line x1="320.6" y1="157" x2="320.6" y2="158.2" stroke="#333" stroke-width="0.5" />
<line x1="248.7" y1="99.6" x2="250.5" y2="99.6" stroke="#222" stroke-width="0.7" />
<text x="248.6" y="101.69999999999999" font-size="4.1" font-weight="bold" text-anchor="end" fill="#555">10<tspan font-size="3.2" dy="-1.6">5</tspan></text>
<line x1="248.7" y1="110.4" x2="250.5" y2="110.4" stroke="#222" stroke-width="0.7" />
<text x="248.6" y="112.5" font-size="4.1" font-weight="bold" text-anchor="end" fill="#555">10<tspan font-size="3.2" dy="-1.6">4</tspan></text>
<line x1="248.7" y1="124.3" x2="250.5" y2="124.3" stroke="#222" stroke-width="0.7" />
<text x="248.6" y="126.39999999999999" font-size="4.1" font-weight="bold" text-anchor="end" fill="#555">10<tspan font-size="3.2" dy="-1.6">3</tspan></text>
<line x1="248.7" y1="134.7" x2="250.5" y2="134.7" stroke="#222" stroke-width="0.7" />
<text x="248.6" y="136.79999999999998" font-size="4.1" font-weight="bold" text-anchor="end" fill="#555">0</text>
<line x1="268.8" y1="157" x2="268.8" y2="158.8" stroke="#222" stroke-width="0.7" />
<text x="268.8" y="164" font-size="4.1" font-weight="bold" text-anchor="middle" fill="#555">0</text>
<line x1="274.9" y1="157" x2="274.9" y2="158.8" stroke="#222" stroke-width="0.7" />
<text x="274.9" y="164" font-size="4.1" font-weight="bold" text-anchor="middle" fill="#555">10<tspan font-size="3.2" dy="-1.6">2</tspan></text>
<line x1="289" y1="157" x2="289" y2="158.8" stroke="#222" stroke-width="0.7" />
<text x="289" y="164" font-size="4.1" font-weight="bold" text-anchor="middle" fill="#555">10<tspan font-size="3.2" dy="-1.6">3</tspan></text>
<line x1="301.8" y1="157" x2="301.8" y2="158.8" stroke="#222" stroke-width="0.7" />
<text x="301.8" y="164" font-size="4.1" font-weight="bold" text-anchor="middle" fill="#555">10<tspan font-size="3.2" dy="-1.6">4</tspan></text>
<line x1="314.6" y1="157" x2="314.6" y2="158.8" stroke="#222" stroke-width="0.7" />
<text x="314.6" y="164" font-size="4.1" font-weight="bold" text-anchor="middle" fill="#555">10<tspan font-size="3.2" dy="-1.6">5</tspan></text>
<path d="M91.6,72.4L91.1,72.4L90.8,72.3L90.3,72.2L90.1,72.1L89.8,71.8L89.5,71.6L89.2,71.3L89.0,71.1L88.6,70.8L88.3,70.8L87.9,70.8L87.6,71.0L87.3,71.1L87.0,71.3L86.6,71.6L86.3,71.8L86.1,71.9L85.8,72.1L85.3,72.3L85.1,72.4L84.6,72.5L84.1,72.5L83.6,72.4L83.3,72.3L83.0,72.1L82.6,71.9L82.3,71.7L82.1,71.6L81.7,71.3L81.3,71.1L81.1,70.9L80.8,70.6L80.7,70.3L80.5,70.1L80.4,69.6L80.3,69.3L80.1,68.8L80.1,68.8L79.6,69.0L79.3,69.1L78.8,69.3L78.6,69.5L78.3,69.8L78.1,70.1L77.8,70.2L77.6,70.4L77.1,70.6L76.8,70.8L76.6,71.0L76.3,71.3L76.1,71.5L75.8,71.7L75.5,71.8L75.1,72.0L74.8,72.1L74.3,72.2L73.8,72.2L73.4,72.1L73.1,72.0L72.8,71.8L72.5,71.6L72.3,71.3L72.1,71.1L71.8,70.8L71.6,70.5L71.3,70.3L70.8,70.3L70.3,70.3L70.1,70.4L69.7,70.3L69.3,70.3L68.9,70.1L68.6,69.8L68.4,69.6L68.3,69.3L68.2,68.8L68.3,68.3L68.4,68.1L68.6,67.8L68.8,67.3L68.9,67.1L68.7,66.8L68.4,66.6L68.1,66.4L67.8,66.3L67.5,66.1L67.1,65.8L66.8,65.7L66.6,65.5L66.3,65.3L65.9,65.1L65.6,65.0L65.3,64.8L64.8,64.7L64.4,64.6L64.1,64.5L63.9,64.3L63.6,64.1L63.3,63.9L63.1,63.5L62.9,63.1L62.8,62.9L62.7,62.4L62.7,61.9L62.7,61.4L62.7,60.9L62.7,60.4L62.7,59.9L62.8,59.4L62.9,59.0L63.0,58.6L63.1,58.3L63.3,57.9L63.4,57.6L63.6,57.4L63.9,57.0L64.1,56.7L64.3,56.4L64.6,56.1L64.8,55.9L64.9,55.6L64.8,55.4L64.6,54.9L64.4,54.6L64.3,54.4L64.1,53.9L64.1,53.6L64.0,53.1L64.1,52.6L64.2,52.4L64.4,52.1L64.8,51.9L65.1,51.7L65.5,51.6L65.8,51.4L65.9,51.1L65.8,50.9L65.6,50.4L65.5,50.1L65.3,49.9L65.1,49.5L64.9,49.1L64.8,48.9L64.7,48.4L64.7,47.9L64.7,47.4L64.6,46.9L64.5,46.6L64.4,46.1L64.4,45.6L64.3,45.4L64.3,44.9L64.1,44.4L64.1,44.1L63.9,43.6L63.9,43.1L63.8,42.9L63.8,42.4L63.7,41.9L63.6,41.4L63.5,41.1L63.4,40.6L63.4,40.1L63.4,39.6L63.6,39.2L63.8,38.9L63.9,38.6L63.9,38.1L63.7,37.9L63.6,37.5L63.5,37.1L63.5,36.6L63.6,36.1L63.7,35.9L63.9,35.5L64.1,35.3L64.3,35.1L64.8,34.9L65.3,35.0L65.7,35.1L66.0,35.4L66.2,35.6L66.4,35.9L66.6,36.3L66.7,36.6L66.8,37.0L67.1,37.2L67.4,37.1L67.7,36.9L68.0,36.6L68.3,36.4L68.6,36.1L68.8,36.0L69.3,35.9L69.6,35.8L70.1,35.7L70.4,35.6L70.8,35.5L71.2,35.4L71.6,35.2L72.1,35.3L72.6,35.3L73.1,35.3L73.3,35.4L73.8,35.5L74.1,35.6L74.6,35.7L75.1,35.7L75.3,35.6L75.7,35.4L76.0,35.1L76.2,34.9L76.6,34.6L76.8,34.4L77.1,34.2L77.4,34.1L77.8,33.9L78.1,33.8L78.6,33.7L79.1,33.6L79.3,33.5L79.8,33.4L80.3,33.4L80.8,33.4L81.3,33.5L81.6,33.6L81.9,33.9L82.2,34.1L82.4,34.4L82.6,34.7L82.8,35.1L82.9,35.4L83.1,35.7L83.3,36.0L83.6,36.2L83.9,36.4L84.3,36.5L84.8,36.5L85.3,36.4L85.6,36.1L85.8,35.9L86.1,35.7L86.3,35.5L86.6,35.3L86.8,35.1L87.2,34.9L87.6,34.6L87.8,34.5L88.1,34.3L88.6,34.1L88.8,34.0L89.3,33.9L89.6,33.8L90.1,33.7L90.3,33.6L90.8,33.5L91.3,33.4L91.8,33.4L92.1,33.3L92.6,33.3L93.1,33.3L93.6,33.2L94.1,33.3L94.6,33.3L95.1,33.3L95.3,33.4L95.8,33.4L96.3,33.5L96.7,33.6L97.1,33.7L97.6,33.8L97.8,33.9L98.3,34.1L98.6,34.2L98.9,34.4L99.3,34.6L99.6,34.7L99.8,34.9L100.2,35.1L100.5,35.4L100.8,35.6L101.0,35.9L101.2,36.1L101.4,36.4L101.6,36.7L101.8,37.1L101.9,37.4L101.9,37.9L101.9,38.4L101.8,38.7L101.7,39.1L101.6,39.4L101.3,39.8L101.1,40.1L100.9,40.4L100.6,40.6L100.3,40.8L100.1,41.0L99.8,41.2L99.5,41.4L99.1,41.6L98.8,41.7L98.5,41.9L98.1,42.0L97.8,42.1L97.3,42.3L97.0,42.4L96.6,42.5L96.1,42.6L95.8,42.6L95.3,42.7L94.8,42.7L94.3,42.8L93.8,42.8L93.3,42.8L92.8,42.8L92.3,42.7L91.8,42.7L91.3,42.6L91.1,42.6L90.6,42.5L90.1,42.4L89.8,42.3L89.3,42.2L89.1,42.1L88.6,41.9L88.3,41.8L88.0,41.6L87.6,41.4L87.3,41.3L87.1,41.1L86.7,40.9L86.4,40.6L86.1,40.4L85.8,40.3L85.3,40.2L84.8,40.3L84.6,40.4L84.3,40.6L84.1,40.9L83.8,41.3L83.8,41.6L83.8,42.1L83.7,42.6L83.8,43.1L83.8,43.5L84.0,43.9L84.2,44.1L84.3,44.4L84.6,44.7L84.8,45.1L85.1,45.4L85.3,45.6L85.5,45.9L85.7,46.1L86.1,46.4L86.3,46.4L86.8,46.5L87.2,46.6L87.6,46.8L88.1,46.8L88.6,46.7L89.1,46.7L89.6,46.7L90.0,46.6L90.3,46.4L90.6,46.2L91.0,46.1L91.3,46.0L91.8,46.1L92.3,46.0L92.6,45.8L92.9,45.6L93.3,45.6L93.6,45.6L93.9,45.6L94.3,45.5L94.8,45.4L95.3,45.6L95.6,45.7L96.1,45.7L96.3,45.6L96.8,45.4L97.3,45.5L97.7,45.6L98.1,45.9L98.3,46.1L98.5,46.4L98.7,46.6L98.8,47.1L98.9,47.4L98.8,47.6L98.7,48.1L98.6,48.4L98.3,48.6L98.0,48.9L97.6,49.1L97.4,49.4L97.6,49.7L97.8,49.9L98.3,50.0L98.6,49.9L98.9,49.6L99.1,49.2L99.3,48.9L99.4,48.6L99.6,48.4L99.8,47.9L99.9,47.6L99.9,47.1L99.9,46.6L99.9,46.1L100.1,45.6L100.2,45.4L100.4,45.1L100.6,44.9L100.9,44.6L101.3,44.4L101.6,44.2L101.9,44.1L102.3,44.0L102.8,43.9L103.3,43.9L103.8,44.0L104.2,44.1L104.6,44.3L104.8,44.5L105.1,44.8L105.2,45.1L105.3,45.4L105.4,45.9L105.3,46.2L105.3,46.6L105.1,47.0L105.0,47.4L104.8,47.6L104.6,48.1L104.6,48.4L104.5,48.9L104.4,49.4L104.4,49.9L104.3,50.1L104.2,50.6L104.1,50.9L103.9,51.4L103.8,51.6L103.6,51.9L103.3,52.1L103.1,52.4L102.8,52.6L102.4,52.9L102.1,53.1L101.8,53.3L101.6,53.6L101.3,53.8L101.1,54.0L100.8,54.1L100.5,54.4L100.6,54.9L100.8,55.1L101.1,55.4L101.3,55.6L101.4,55.9L101.6,56.3L101.7,56.6L101.7,57.1L101.8,57.6L102.1,57.7L102.5,57.9L102.8,57.9L103.3,58.1L103.6,58.3L103.8,58.5L104.1,58.9L104.2,59.1L104.2,59.6L104.2,60.1L104.1,60.5L104.0,60.9L104.0,61.4L104.0,61.9L104.1,62.1L104.3,62.6L104.4,62.9L104.5,63.4L104.5,63.9L104.4,64.3L104.3,64.6L104.2,65.1L104.0,65.3L103.8,65.6L103.6,65.9L103.3,66.2L103.1,66.5L102.9,66.8L102.9,67.3L103.0,67.8L103.1,68.3L103.0,68.8L102.9,69.3L102.7,69.6L102.5,69.8L102.2,70.1L101.8,70.3L101.6,70.4L101.1,70.5L100.6,70.5L100.1,70.4L99.6,70.5L99.3,70.8L99.1,71.1L98.8,71.3L98.6,71.4L98.1,71.6L97.8,71.7L97.6,71.9L97.1,72.0L96.6,71.9L96.3,71.8L96.1,71.6L95.8,71.1L95.8,70.8L95.8,70.3L95.8,69.8L95.6,69.6L95.3,69.6L94.8,69.8L94.6,69.9L94.1,70.1L93.8,70.1L93.5,70.3L93.3,70.6L93.2,71.1L93.1,71.4L92.8,71.7L92.6,72.0L92.3,72.2L91.8,72.3L91.6,72.4Z" fill="rgba(0,0,0,0.04)" fill-rule="evenodd" stroke="#bbb" stroke-width="0.45"/>
<path d="M91.8,71.9L91.3,72.0L90.8,71.9L90.6,71.8L90.3,71.6L90.0,71.3L89.7,71.1L89.6,70.8L89.3,70.5L89.1,70.2L88.8,70.0L88.3,70.0L88.0,70.1L87.6,70.3L87.3,70.5L87.1,70.6L86.8,70.8L86.5,71.1L86.1,71.3L85.8,71.5L85.6,71.7L85.1,71.8L84.8,71.9L84.3,72.0L83.8,71.9L83.6,71.8L83.3,71.6L82.9,71.3L82.6,71.2L82.3,71.0L82.1,70.8L81.8,70.6L81.5,70.3L81.3,70.1L81.2,69.6L81.2,69.1L81.3,68.6L81.5,68.3L81.6,68.1L81.8,67.6L81.6,67.1L81.4,66.8L81.2,66.6L80.8,66.4L80.6,66.3L80.3,66.4L80.1,66.7L80.0,67.1L79.9,67.6L79.8,67.8L79.6,68.3L79.3,68.5L79.1,68.7L78.6,68.8L78.3,69.1L78.2,69.3L78.0,69.6L77.7,69.8L77.3,70.0L76.9,70.1L76.6,70.3L76.3,70.5L76.1,70.8L75.8,71.1L75.6,71.2L75.3,71.4L74.8,71.5L74.6,71.6L74.1,71.6L73.8,71.6L73.3,71.4L73.1,71.3L72.8,71.1L72.6,70.7L72.4,70.3L72.3,70.1L72.2,69.6L71.8,69.4L71.3,69.5L70.9,69.6L70.6,69.7L70.1,69.8L69.6,69.8L69.1,69.6L68.9,69.3L68.8,69.1L68.8,68.6L68.9,68.3L69.1,68.1L69.3,67.8L69.8,67.6L70.1,67.5L70.5,67.3L70.8,67.1L70.6,66.7L70.3,66.6L69.8,66.5L69.5,66.3L69.1,66.2L68.8,66.1L68.3,65.9L68.1,65.7L67.8,65.6L67.5,65.3L67.1,65.1L66.8,64.9L66.6,64.7L66.3,64.5L66.1,64.3L65.6,64.2L65.1,64.2L64.7,64.1L64.3,64.0L64.1,63.9L63.8,63.6L63.6,63.4L63.4,62.9L63.3,62.6L63.3,62.1L63.4,61.8L63.4,61.4L63.6,60.9L63.7,60.6L63.8,60.1L63.9,59.8L63.9,59.4L64.1,58.9L64.2,58.6L64.3,58.2L64.5,57.9L64.7,57.6L64.9,57.4L65.1,57.0L65.3,56.7L65.6,56.5L65.8,56.1L66.0,55.9L65.8,55.5L65.6,55.3L65.3,55.1L65.1,54.9L64.8,54.6L64.6,54.2L64.4,53.9L64.4,53.4L64.4,52.9L64.6,52.5L64.8,52.3L65.3,52.1L65.6,52.1L66.1,51.9L66.3,51.6L66.4,51.4L66.3,50.9L66.3,50.6L66.1,50.3L65.9,49.9L65.7,49.6L65.6,49.4L65.4,48.9L65.3,48.6L65.3,48.1L65.3,47.6L65.4,47.4L65.5,46.9L65.4,46.4L65.3,46.1L65.2,45.6L65.1,45.1L65.0,44.9L64.8,44.5L64.6,44.1L64.5,43.9L64.4,43.4L64.3,43.1L64.3,42.6L64.2,42.1L64.1,41.6L64.0,41.4L63.9,40.9L63.9,40.5L63.8,40.1L63.9,39.9L64.1,39.4L64.3,39.1L64.5,38.9L64.6,38.6L64.6,38.3L64.3,38.0L64.1,37.7L63.9,37.4L63.9,36.9L63.9,36.4L64.1,36.0L64.3,35.7L64.6,35.6L65.1,35.5L65.5,35.6L65.8,35.9L66.0,36.1L66.1,36.4L66.3,36.9L66.3,37.4L66.3,37.8L66.6,38.0L67.1,38.0L67.5,37.9L67.8,37.6L68.1,37.4L68.3,37.1L68.5,36.9L68.8,36.6L69.1,36.4L69.3,36.3L69.8,36.2L70.3,36.1L70.6,36.0L70.9,35.9L71.3,35.6L71.6,35.6L72.0,35.6L72.3,35.7L72.8,35.7L73.3,35.8L73.6,35.9L74.0,36.1L74.3,36.3L74.8,36.3L75.3,36.2L75.6,36.0L75.9,35.9L76.1,35.6L76.4,35.4L76.7,35.1L77.0,34.9L77.3,34.7L77.6,34.5L78.1,34.4L78.3,34.3L78.8,34.2L79.3,34.2L79.8,34.1L80.3,34.1L80.8,34.2L81.2,34.4L81.6,34.5L81.8,34.7L82.1,35.0L82.3,35.3L82.5,35.6L82.7,35.9L82.8,36.2L83.1,36.5L83.3,36.7L83.7,36.9L84.1,37.1L84.3,37.3L84.6,37.4L84.8,37.7L85.1,38.1L85.2,38.4L85.1,38.8L84.9,39.1L84.8,39.4L84.5,39.6L84.2,39.9L83.9,40.1L83.6,40.4L83.4,40.6L83.3,40.9L83.2,41.4L83.2,41.9L83.2,42.4L83.2,42.9L83.3,43.4L83.4,43.6L83.6,44.0L83.8,44.4L84.0,44.6L84.2,44.9L84.4,45.1L84.6,45.4L84.8,45.7L85.1,46.1L85.2,46.4L85.3,46.8L85.6,47.0L86.1,46.9L86.3,46.8L86.7,46.9L87.1,47.0L87.3,47.3L87.6,47.5L88.1,47.4L88.3,47.3L88.8,47.2L89.3,47.3L89.6,47.4L90.1,47.5L90.3,47.3L90.6,47.1L91.1,46.9L91.3,46.8L91.7,46.9L92.1,47.0L92.4,47.1L92.8,47.4L93.1,47.6L93.3,47.9L93.4,48.1L93.6,48.6L93.6,48.9L93.8,49.4L93.9,49.6L94.0,50.1L93.9,50.6L93.8,50.9L93.6,51.1L93.3,51.5L93.3,51.9L93.4,52.1L93.7,52.4L94.1,52.5L94.5,52.6L94.8,52.6L95.3,52.7L95.7,52.6L96.0,52.4L96.1,52.1L96.3,51.6L96.4,51.4L96.6,51.0L96.8,50.8L97.3,50.6L97.8,50.7L98.3,50.8L98.8,50.8L99.1,50.6L99.3,50.1L99.4,49.9L99.6,49.4L99.7,49.1L99.9,48.9L100.1,48.5L100.3,48.2L100.6,47.9L100.8,47.6L100.8,47.1L100.8,47.1L100.8,46.6L100.8,46.2L100.9,45.9L101.1,45.6L101.3,45.3L101.6,45.1L102.0,44.9L102.3,44.7L102.8,44.7L103.3,44.7L103.8,44.9L104.1,45.1L104.3,45.4L104.4,45.6L104.5,46.1L104.3,46.6L104.2,46.9L104.1,47.1L103.8,47.6L103.7,47.9L103.6,48.2L103.6,48.6L103.6,49.1L103.6,49.4L103.6,49.9L103.6,50.2L103.5,50.6L103.3,51.1L103.2,51.4L103.0,51.6L102.7,51.9L102.4,52.1L102.1,52.3L101.8,52.5L101.6,52.7L101.3,53.0L101.1,53.2L100.8,53.4L100.3,53.6L100.1,53.7L99.6,53.8L99.2,53.9L98.8,54.0L98.4,54.1L98.1,54.2L97.6,54.3L97.3,54.4L97.1,54.6L97.1,54.9L97.3,55.3L97.6,55.5L97.8,55.6L98.3,55.6L98.6,55.6L99.1,55.4L99.3,55.3L99.8,55.3L100.1,55.4L100.6,55.5L100.8,55.7L101.1,56.0L101.2,56.4L101.3,56.9L101.2,57.4L101.1,57.9L101.3,58.2L101.6,58.4L102.1,58.6L102.3,58.6L102.8,58.7L103.1,58.9L103.4,59.1L103.5,59.6L103.5,60.1L103.4,60.6L103.3,60.9L103.2,61.4L103.3,61.9L103.4,62.1L103.6,62.6L103.7,62.9L103.8,63.4L103.8,63.9L103.7,64.3L103.6,64.7L103.4,65.1L103.2,65.3L103.0,65.6L102.7,65.8L102.5,66.1L102.3,66.3L102.3,66.8L102.3,67.3L102.4,67.6L102.5,68.1L102.5,68.6L102.4,69.1L102.2,69.3L102.0,69.6L101.6,69.8L101.3,69.9L100.8,69.9L100.6,69.8L100.2,69.6L99.9,69.3L99.7,69.1L99.3,68.9L99.0,68.8L98.6,68.8L98.2,68.6L97.8,68.5L97.3,68.4L96.8,68.4L96.3,68.6L96.1,68.6L95.6,68.7L95.1,68.8L94.8,69.0L94.6,69.2L94.3,69.4L93.8,69.6L93.3,69.6L93.1,69.6L92.9,70.1L92.8,70.3L92.8,70.8L92.6,71.3L92.3,71.6L92.1,71.8L91.8,71.9ZM95.3,42.1L94.8,42.2L94.3,42.2L93.8,42.3L93.3,42.3L92.8,42.2L92.3,42.2L91.8,42.1L91.6,42.1L91.1,42.0L90.6,41.9L90.3,41.8L89.8,41.6L89.6,41.5L89.2,41.4L88.8,41.2L88.6,41.1L88.3,40.9L87.9,40.6L87.6,40.4L87.4,40.1L87.2,39.9L87.0,39.6L86.8,39.3L86.6,38.9L86.6,38.6L86.6,38.1L86.6,37.9L86.8,37.4L86.9,37.1L87.1,36.9L87.3,36.6L87.6,36.3L87.8,36.1L88.2,35.9L88.6,35.6L88.8,35.4L89.1,35.3L89.6,35.1L89.8,35.0L90.3,34.9L90.6,34.7L91.1,34.6L91.3,34.6L91.8,34.5L92.3,34.4L92.8,34.4L93.3,34.4L93.8,34.4L94.3,34.4L94.8,34.4L95.3,34.5L95.8,34.6L96.1,34.6L96.6,34.8L96.8,34.9L97.3,35.0L97.6,35.1L98.1,35.3L98.3,35.4L98.6,35.6L99.0,35.9L99.3,36.1L99.6,36.4L99.8,36.6L100.0,36.9L100.2,37.1L100.3,37.4L100.5,37.9L100.5,38.4L100.5,38.9L100.3,39.2L100.1,39.6L100.0,39.9L99.8,40.1L99.5,40.4L99.2,40.6L98.9,40.9L98.6,41.0L98.3,41.2L98.0,41.4L97.6,41.5L97.3,41.6L96.8,41.8L96.6,41.9L96.1,42.0L95.6,42.1L95.3,42.1ZM94.6,46.9L94.1,46.9L93.6,46.9L93.3,46.7L93.2,46.4L93.4,46.1L93.8,46.0L94.3,45.9L94.6,45.8L94.9,45.9L95.3,46.1L95.3,46.6L94.8,46.8L94.6,46.9ZM96.1,48.9L95.6,48.9L95.5,48.6L95.6,48.1L95.7,47.9L95.8,47.4L95.9,47.1L96.1,46.6L96.3,46.4L96.5,46.1L96.8,45.9L97.3,45.9L97.7,46.1L98.0,46.4L98.1,46.6L98.3,47.1L98.3,47.6L98.1,47.9L97.8,48.1L97.3,48.3L97.1,48.4L96.6,48.5L96.3,48.7L96.1,48.9ZM77.9,49.9L77.9,49.4L77.8,49.4L77.5,49.6L77.6,49.9L77.9,49.9ZM90.4,51.4L90.8,51.2L91.0,50.9L90.9,50.4L90.8,50.0L90.7,49.6L90.5,49.4L90.1,49.2L89.8,49.4L89.6,49.7L89.3,50.0L89.1,50.2L88.8,50.5L88.8,50.9L89.0,51.1L89.3,51.3L89.6,51.4L90.1,51.4L90.4,51.4ZM90.4,60.4L90.3,60.0L90.2,59.6L90.1,59.2L90.0,58.9L89.9,58.4L89.9,57.9L89.8,57.6L89.6,57.7L89.4,58.1L89.3,58.4L89.3,58.9L89.4,59.1L89.4,59.6L89.5,60.1L89.6,60.4L90.1,60.5L90.4,60.4ZM84.9,66.6L85.3,66.5L85.8,66.4L86.1,66.3L86.6,66.2L87.1,66.1L87.3,66.1L87.8,66.0L88.1,65.8L88.3,65.5L88.3,65.2L88.1,64.9L87.8,64.8L87.6,64.9L87.1,64.9L86.8,64.8L86.3,64.8L85.8,64.7L85.3,64.8L85.0,64.8L84.6,65.0L84.3,65.2L84.1,65.5L84.0,65.8L84.0,66.3L84.3,66.6L84.6,66.6L84.9,66.6ZM73.9,69.1L74.1,68.8L74.1,68.3L73.8,68.2L73.3,68.3L73.0,68.3L72.6,68.5L72.4,68.8L72.6,69.2L73.1,69.3L73.6,69.2L73.9,69.1ZM97.6,71.1L97.1,71.3L96.6,71.1L96.5,70.8L96.6,70.5L96.8,70.2L97.3,70.1L97.6,70.1L98.1,69.9L98.3,69.8L98.6,69.9L98.8,70.1L98.8,70.4L98.6,70.8L98.3,70.9L97.8,71.0L97.6,71.1Z" fill="none" fill-rule="evenodd" stroke="#aaa" stroke-width="0.45"/>
<path d="M91.6,71.4L91.1,71.4L90.8,71.3L90.5,71.1L90.3,70.8L90.1,70.6L89.9,70.1L89.8,69.8L89.6,69.3L89.3,69.1L89.1,69.0L88.6,69.1L88.3,69.2L88.0,69.3L87.7,69.6L87.3,69.8L87.1,70.0L86.8,70.2L86.6,70.4L86.3,70.6L85.9,70.8L85.6,71.1L85.3,71.2L84.9,71.3L84.6,71.4L84.2,71.3L83.8,71.2L83.6,71.1L83.3,70.8L83.0,70.6L82.6,70.3L82.3,70.1L82.1,69.8L82.0,69.6L82.0,69.1L82.1,68.8L82.3,68.4L82.6,68.1L82.8,67.9L83.1,67.8L83.6,67.7L84.1,67.6L84.3,67.6L84.8,67.4L85.1,67.3L85.6,67.1L85.8,67.0L86.3,66.9L86.6,66.8L87.1,66.8L87.6,66.8L88.1,66.8L88.6,66.7L88.8,66.5L89.0,66.1L89.1,65.6L89.2,65.3L89.3,64.8L89.3,64.3L89.2,63.9L89.3,63.4L89.6,63.1L89.8,62.9L89.9,62.6L89.9,62.1L90.1,61.6L90.3,61.5L90.8,61.5L91.1,61.7L91.3,62.0L91.6,62.4L91.7,62.6L91.8,62.9L92.2,62.9L92.5,62.6L92.8,62.4L93.1,62.1L93.3,62.0L93.6,61.9L94.1,61.8L94.6,61.7L95.1,61.6L95.2,61.4L95.1,60.9L95.0,60.6L95.1,60.1L95.2,59.9L95.3,59.6L95.6,59.4L96.1,59.1L96.3,58.9L96.6,58.6L96.6,58.4L96.6,58.0L96.3,57.8L95.8,57.8L95.6,57.9L95.1,57.9L94.8,57.9L94.5,57.9L94.1,58.0L93.8,58.2L93.6,58.5L93.3,58.8L93.1,59.1L92.8,59.3L92.6,59.4L92.1,59.4L91.8,59.3L91.6,59.1L91.3,58.8L91.1,58.4L91.1,58.1L91.0,57.6L91.1,57.3L91.2,56.9L91.4,56.6L91.6,56.4L91.9,56.1L92.1,55.7L92.2,55.4L92.0,55.1L91.6,55.0L91.1,55.1L90.8,55.2L90.5,55.4L90.1,55.5L89.6,55.6L89.3,55.7L89.1,56.1L89.0,56.4L88.8,56.8L88.7,57.1L88.6,57.4L88.3,57.7L88.1,58.0L87.9,58.4L87.8,58.6L87.8,59.1L87.9,59.4L88.1,59.9L88.1,60.1L88.2,60.6L88.2,61.1L88.2,61.6L88.3,62.1L88.4,62.4L88.5,62.9L88.5,63.4L88.3,63.6L88.0,63.9L87.6,64.1L87.3,64.1L86.8,64.2L86.3,64.1L86.1,64.1L85.6,64.1L85.3,64.1L84.8,64.2L84.4,64.3L84.1,64.5L83.7,64.6L83.4,64.8L83.2,65.1L83.0,65.3L82.8,65.7L82.6,66.1L82.3,66.1L82.1,66.0L81.8,65.8L81.6,65.6L81.3,65.3L80.8,65.1L80.6,65.0L80.1,65.0L79.8,65.1L79.4,65.3L79.3,65.6L79.3,66.1L79.3,66.4L79.5,66.8L79.5,67.3L79.3,67.7L79.1,68.0L78.8,68.2L78.3,68.3L78.0,68.3L77.6,68.5L77.3,68.6L77.1,68.6L76.6,68.4L76.3,68.3L76.0,68.1L75.8,67.8L75.7,67.3L75.6,67.1L75.4,66.6L75.2,66.3L75.1,66.1L74.8,65.8L74.3,65.7L73.8,65.6L73.3,65.6L73.1,65.6L72.6,65.5L72.1,65.4L71.7,65.3L71.3,65.3L70.8,65.3L70.3,65.3L69.8,65.3L69.3,65.3L68.8,65.2L68.6,65.1L68.1,64.9L67.8,64.8L67.5,64.6L67.2,64.3L67.0,64.1L66.8,63.9L66.6,63.6L66.3,63.3L65.8,63.2L65.5,63.4L65.1,63.5L64.6,63.4L64.3,63.3L64.1,63.0L63.9,62.6L64.0,62.1L64.1,61.8L64.3,61.5L64.6,61.3L64.8,61.1L65.2,60.9L65.4,60.6L65.5,60.1L65.6,59.7L65.7,59.4L65.8,58.9L65.9,58.6L66.1,58.2L66.3,57.9L66.5,57.6L66.7,57.4L66.9,57.1L67.2,56.9L67.4,56.6L67.6,56.3L67.8,55.9L68.1,55.6L68.3,55.5L68.6,55.3L69.0,55.1L69.2,54.9L69.4,54.6L69.6,54.1L69.7,53.9L69.8,53.4L69.8,52.9L69.6,52.4L69.3,52.2L69.0,52.4L68.6,52.6L68.3,52.7L67.9,52.9L67.6,52.9L67.3,53.1L67.3,53.5L67.5,53.9L67.6,54.4L67.6,54.6L67.6,55.0L67.3,55.2L66.9,55.1L66.6,55.0L66.1,54.9L65.8,54.8L65.5,54.6L65.1,54.4L64.9,54.1L64.8,53.9L64.7,53.4L64.8,52.9L65.1,52.6L65.3,52.5L65.8,52.5L66.3,52.6L66.6,52.6L66.8,52.6L66.9,52.1L67.0,51.6L67.0,51.1L66.8,50.8L66.6,50.4L66.5,50.1L66.3,49.8L66.1,49.4L66.0,49.1L65.9,48.6L66.0,48.1L66.1,47.9L66.3,47.5L66.4,47.1L66.3,46.9L66.1,46.4L66.0,46.1L65.9,45.6L65.8,45.4L65.8,44.9L65.6,44.5L65.3,44.2L65.1,43.9L64.9,43.6L64.8,43.4L64.7,42.9L64.7,42.4L64.6,41.9L64.6,41.6L64.4,41.1L64.3,40.6L64.3,40.4L64.4,40.1L64.6,39.6L64.8,39.4L65.1,39.2L65.3,39.0L65.8,38.9L66.1,38.8L66.6,38.8L67.1,38.8L67.6,38.7L67.8,38.6L68.1,38.3L68.3,38.0L68.6,37.6L68.8,37.4L69.1,37.1L69.3,36.9L69.6,36.8L70.1,36.7L70.3,36.6L70.7,36.4L71.1,36.1L71.3,36.0L71.8,35.9L72.3,36.0L72.8,36.1L73.1,36.1L73.6,36.4L73.8,36.6L74.1,36.8L74.4,36.9L74.8,36.9L75.3,36.9L75.6,36.7L75.8,36.5L76.1,36.3L76.3,36.0L76.6,35.8L76.8,35.5L77.1,35.4L77.5,35.1L77.8,34.9L78.1,34.9L78.6,34.8L79.1,34.8L79.6,34.8L80.1,34.8L80.6,34.8L80.8,34.9L81.3,35.0L81.6,35.2L81.8,35.4L82.1,35.7L82.3,36.1L82.4,36.4L82.6,36.6L82.8,36.9L83.2,37.1L83.5,37.4L83.8,37.6L84.0,37.9L84.1,38.1L84.2,38.6L84.1,38.9L83.8,39.2L83.6,39.5L83.3,39.7L83.1,39.9L82.8,40.1L82.6,40.4L82.5,40.9L82.6,41.3L82.6,41.6L82.7,42.1L82.7,42.6L82.8,43.1L82.9,43.4L83.1,43.9L83.2,44.1L83.3,44.5L83.6,44.8L83.8,45.0L84.1,45.3L84.3,45.6L84.5,45.9L84.6,46.1L84.8,46.6L84.7,47.1L84.6,47.6L84.7,48.1L84.8,48.5L85.1,48.9L85.3,49.1L85.6,49.3L85.8,49.4L86.3,49.5L86.6,49.6L86.9,49.9L87.1,50.2L87.2,50.6L87.3,51.1L87.4,51.4L87.7,51.6L88.0,51.9L88.3,52.1L88.6,52.2L88.9,52.4L89.3,52.4L89.7,52.4L90.1,52.3L90.6,52.3L91.0,52.4L91.3,52.4L91.8,52.6L92.1,52.8L92.3,53.0L92.6,53.2L92.8,53.4L93.3,53.6L93.6,53.7L94.1,53.7L94.6,53.7L95.0,53.9L95.3,54.1L95.4,54.4L95.4,54.9L95.6,55.3L95.8,55.5L96.1,55.6L96.5,55.9L96.8,56.1L97.1,56.3L97.3,56.5L97.8,56.5L98.3,56.4L98.6,56.2L98.8,56.1L99.3,55.9L99.6,55.8L100.1,55.7L100.4,55.9L100.7,56.1L100.9,56.4L100.9,56.9L100.8,57.1L100.6,57.5L100.3,57.8L100.3,58.1L100.6,58.4L100.8,58.6L100.9,58.9L101.1,59.3L101.3,59.6L101.3,59.9L101.4,60.4L101.3,60.6L101.2,61.1L101.3,61.6L101.6,61.7L101.9,61.9L102.3,62.1L102.5,62.4L102.7,62.6L102.9,62.9L103.0,63.4L103.1,63.9L102.9,64.3L102.8,64.6L102.6,64.9L102.3,65.2L102.1,65.4L101.8,65.7L101.6,66.1L101.5,66.3L101.6,66.6L101.8,67.1L101.9,67.3L102.0,67.8L102.0,68.3L101.8,68.8L101.6,69.1L101.3,69.2L100.9,69.1L100.6,68.8L100.5,68.6L100.3,68.3L100.1,67.8L99.8,67.7L99.4,67.8L99.1,67.9L98.7,67.8L98.3,67.7L98.1,67.6L97.6,67.5L97.1,67.6L96.8,67.7L96.5,67.8L96.1,68.0L95.7,68.1L95.3,68.2L94.8,68.2L94.4,68.1L94.1,68.0L93.7,67.8L93.4,67.8L93.5,68.3L93.3,68.3L92.8,68.2L92.3,68.3L92.2,68.6L92.1,68.8L92.1,69.3L92.2,69.6L92.2,70.1L92.3,70.6L92.1,71.0L91.8,71.3L91.6,71.4ZM94.8,41.9L94.3,41.9L93.8,42.0L93.3,42.0L92.8,41.9L92.3,41.9L92.1,41.8L91.6,41.8L91.1,41.7L90.8,41.6L90.3,41.4L90.1,41.3L89.6,41.1L89.3,41.0L89.0,40.9L88.6,40.6L88.3,40.4L88.1,40.1L87.8,39.9L87.7,39.6L87.5,39.4L87.3,38.9L87.3,38.6L87.3,38.1L87.3,37.8L87.5,37.4L87.7,37.1L87.9,36.9L88.1,36.6L88.4,36.4L88.7,36.1L89.1,35.9L89.3,35.7L89.6,35.6L90.1,35.4L90.3,35.3L90.8,35.2L91.1,35.1L91.6,35.0L92.1,34.9L92.6,34.9L92.8,34.8L93.3,34.8L93.8,34.8L94.3,34.8L94.6,34.9L95.1,34.9L95.6,35.0L96.1,35.1L96.3,35.2L96.8,35.3L97.1,35.4L97.6,35.6L97.8,35.7L98.1,35.9L98.5,36.1L98.8,36.4L99.1,36.6L99.3,36.9L99.5,37.1L99.7,37.4L99.8,37.9L99.9,38.1L99.9,38.6L99.8,38.9L99.7,39.4L99.5,39.6L99.3,39.9L99.1,40.1L98.8,40.4L98.5,40.6L98.1,40.9L97.8,41.0L97.6,41.1L97.1,41.3L96.8,41.4L96.3,41.6L96.1,41.7L95.6,41.8L95.1,41.8L94.8,41.9ZM65.3,37.8L64.8,37.8L64.6,37.6L64.3,37.2L64.3,36.9L64.3,36.6L64.6,36.2L65.0,36.1L65.1,36.1L65.5,36.4L65.7,36.6L65.8,37.1L65.6,37.6L65.3,37.8ZM79.1,41.4L79.4,41.1L79.6,40.6L79.2,40.4L79.0,40.4L78.8,40.6L78.7,41.1L78.8,41.4L79.1,41.4ZM75.5,45.1L75.8,45.0L76.0,44.6L75.6,44.4L75.3,44.2L74.8,44.1L74.3,44.3L74.3,44.6L74.4,44.9L74.8,45.1L75.1,45.1L75.5,45.1ZM97.6,47.4L97.1,47.5L96.8,47.2L96.8,46.9L97.1,46.6L97.6,46.9L97.6,47.1L97.6,47.4ZM86.6,47.7L86.2,47.6L86.6,47.5L86.6,47.7ZM92.8,50.7L92.3,50.8L92.0,50.6L91.8,50.4L91.6,50.0L91.5,49.6L91.3,49.3L91.1,49.0L90.8,48.8L90.6,48.4L90.8,47.9L91.1,47.6L91.3,47.5L91.8,47.6L92.1,47.6L92.5,47.9L92.7,48.1L92.8,48.5L92.9,48.9L93.0,49.4L93.1,49.6L93.2,50.1L93.1,50.4L92.8,50.7ZM88.8,49.4L88.3,49.4L88.1,49.3L87.9,48.9L88.0,48.4L88.2,48.1L88.5,47.9L88.8,47.7L89.2,47.9L89.4,48.1L89.5,48.6L89.3,49.0L89.1,49.3L88.8,49.4ZM81.6,50.6L81.9,50.4L82.1,50.1L82.3,49.8L82.6,49.4L82.5,48.9L82.3,48.4L82.1,48.2L81.8,48.0L81.3,47.9L81.1,48.3L80.9,48.6L80.6,48.9L80.3,49.0L80.0,48.9L79.7,48.6L79.6,48.4L79.1,48.2L78.6,48.3L78.1,48.3L77.8,48.4L77.3,48.4L77.1,48.3L76.7,48.4L76.4,48.6L76.4,49.1L76.6,49.6L76.7,49.9L76.8,50.2L77.0,50.6L77.3,50.8L77.8,50.7L78.2,50.6L78.6,50.4L78.8,50.3L79.3,50.1L79.6,50.1L79.8,50.1L80.3,50.4L80.6,50.6L80.8,50.7L81.3,50.8L81.6,50.6ZM98.1,53.4L97.7,53.4L97.3,53.2L97.1,53.0L96.9,52.6L96.9,52.1L97.1,51.6L97.3,51.4L97.8,51.4L98.3,51.5L98.6,51.6L99.1,51.7L99.5,51.6L99.8,51.4L99.8,50.9L99.8,50.4L99.8,49.9L99.9,49.6L100.1,49.3L100.3,48.9L100.6,48.7L100.8,48.5L101.1,48.3L101.6,48.1L101.8,48.1L102.1,48.2L102.3,48.5L102.5,48.9L102.6,49.1L102.8,49.6L102.8,50.1L102.8,50.2L102.8,50.6L102.6,51.0L102.3,51.3L102.1,51.5L101.8,51.6L101.4,51.9L101.1,52.1L100.9,52.4L100.8,52.6L100.5,52.9L100.1,53.0L99.6,53.0L99.1,53.1L98.8,53.1L98.3,53.3L98.1,53.4ZM69.6,50.4L69.7,50.1L69.7,49.6L69.5,49.4L69.2,49.4L69.1,49.6L69.0,50.1L69.1,50.4L69.6,50.4ZM73.1,67.2L72.8,67.1L73.1,67.0L73.1,67.2ZM75.1,70.6L74.6,70.6L74.4,70.3L74.6,70.0L74.8,69.6L74.9,69.3L75.1,68.9L75.3,68.6L75.6,68.5L75.9,68.6L76.0,69.1L76.0,69.6L75.8,70.0L75.6,70.3L75.3,70.5L75.1,70.6Z" fill="none" fill-rule="evenodd" stroke="#999" stroke-width="0.45"/>
<path d="M94.6,41.6L94.1,41.7L93.6,41.7L93.1,41.7L92.6,41.6L92.3,41.6L91.8,41.5L91.3,41.4L91.1,41.3L90.6,41.2L90.3,41.1L89.8,40.9L89.6,40.8L89.3,40.6L89.0,40.4L88.7,40.1L88.4,39.9L88.2,39.6L88.1,39.4L87.9,38.9L87.8,38.6L87.8,38.1L87.9,37.9L88.1,37.4L88.3,37.1L88.5,36.9L88.8,36.6L89.1,36.4L89.3,36.2L89.6,36.0L90.0,35.9L90.3,35.7L90.6,35.6L91.1,35.4L91.5,35.4L91.8,35.3L92.3,35.2L92.8,35.1L93.3,35.1L93.8,35.1L94.3,35.1L94.8,35.2L95.3,35.3L95.7,35.4L96.1,35.4L96.6,35.6L96.8,35.7L97.2,35.9L97.6,36.0L97.8,36.2L98.1,36.4L98.4,36.6L98.7,36.9L98.9,37.1L99.1,37.4L99.3,37.9L99.4,38.1L99.4,38.6L99.3,38.9L99.1,39.4L99.0,39.6L98.8,39.9L98.5,40.1L98.2,40.4L97.9,40.6L97.6,40.8L97.3,40.9L96.8,41.1L96.6,41.2L96.1,41.3L95.8,41.4L95.3,41.5L94.8,41.6L94.6,41.6ZM73.8,56.4L73.3,56.4L72.8,56.4L72.3,56.4L72.0,56.4L71.6,56.2L71.3,56.1L71.1,55.9L70.8,55.6L70.6,55.1L70.6,54.9L70.5,54.4L70.6,53.9L70.7,53.6L70.8,53.1L70.9,52.9L71.0,52.4L71.1,52.0L71.2,51.6L71.2,51.1L71.1,50.7L71.0,50.4L70.9,49.9L70.8,49.6L70.6,49.1L70.5,48.9L70.3,48.6L70.1,48.3L69.8,48.1L69.5,47.9L69.1,47.7L68.8,47.5L68.4,47.4L68.1,47.3L67.6,47.2L67.3,47.1L67.0,46.9L66.8,46.6L66.6,46.4L66.4,45.9L66.3,45.6L66.3,45.3L66.6,44.9L66.7,44.6L66.6,44.2L66.3,44.1L66.0,43.9L65.7,43.6L65.5,43.4L65.3,43.0L65.3,42.6L65.2,42.1L65.2,41.6L65.2,41.1L65.1,40.6L65.3,40.1L65.6,39.9L66.1,39.9L66.4,40.1L66.6,40.4L66.8,40.9L67.0,41.1L67.3,41.4L67.6,41.5L68.1,41.4L68.3,41.3L68.6,41.1L68.6,40.6L68.4,40.4L68.3,40.1L68.3,39.6L68.5,39.4L68.7,39.1L68.9,38.9L69.1,38.5L69.3,38.1L69.5,37.9L69.8,37.6L70.1,37.4L70.3,37.3L70.6,37.1L70.8,36.8L71.1,36.5L71.4,36.4L71.8,36.4L72.1,36.5L72.6,36.6L72.8,36.6L73.2,36.9L73.4,37.1L73.7,37.4L74.1,37.5L74.3,37.7L74.6,37.9L74.9,38.1L75.1,38.4L75.6,38.6L76.1,38.5L76.5,38.4L76.5,37.9L76.4,37.4L76.5,36.9L76.6,36.6L76.8,36.3L77.1,36.0L77.3,35.8L77.8,35.6L78.1,35.5L78.6,35.4L79.1,35.4L79.6,35.4L80.1,35.4L80.6,35.4L81.1,35.5L81.3,35.6L81.6,35.9L81.8,36.4L81.9,36.6L82.1,37.1L82.3,37.3L82.6,37.5L82.8,37.7L83.1,38.0L83.2,38.4L83.1,38.7L82.8,39.0L82.6,39.1L82.2,39.4L81.8,39.5L81.6,39.6L81.1,39.8L80.8,39.9L80.3,39.9L80.1,39.8L79.7,39.6L79.5,39.4L79.3,38.9L79.1,38.6L78.8,38.5L78.3,38.6L78.1,38.6L77.7,38.9L77.8,39.4L77.9,39.6L77.9,40.1L77.9,40.6L77.8,40.9L77.8,41.4L77.8,41.9L77.9,42.1L77.9,42.6L78.1,43.1L78.3,43.2L78.8,43.1L79.1,43.0L79.3,42.8L79.6,42.4L79.7,42.1L79.9,41.9L80.1,41.6L80.5,41.4L80.8,41.2L81.3,41.3L81.6,41.5L81.7,41.9L81.8,42.4L81.8,42.7L82.0,43.1L82.1,43.4L82.3,43.7L82.6,44.1L82.7,44.4L82.8,44.7L83.1,45.1L83.3,45.3L83.6,45.5L83.8,45.7L84.1,46.1L84.1,46.4L84.1,46.9L84.0,47.1L83.8,47.4L83.4,47.6L83.1,47.6L82.8,47.5L82.6,47.3L82.3,47.1L82.1,46.7L81.8,46.5L81.6,46.3L81.1,46.2L80.6,46.1L80.3,46.1L80.0,46.1L79.6,46.2L79.3,46.4L79.1,46.7L78.8,47.1L78.6,47.3L78.3,47.5L78.1,47.6L77.6,47.7L77.2,47.6L76.8,47.5L76.4,47.4L76.1,47.3L75.6,47.3L75.3,47.5L75.3,47.9L75.3,48.1L75.5,48.6L75.7,48.9L75.8,49.1L76.1,49.6L76.3,49.9L76.4,50.1L76.5,50.6L76.6,50.9L76.7,51.4L76.8,51.6L77.3,51.6L77.6,51.5L77.8,51.3L78.3,51.1L78.6,51.0L79.1,50.9L79.6,50.9L79.9,51.1L80.2,51.4L80.3,51.9L80.2,52.4L80.0,52.6L79.8,52.9L79.6,53.3L79.6,53.4L79.7,53.9L79.8,54.4L79.7,54.9L79.5,55.1L79.1,55.4L78.8,55.5L78.6,55.6L78.1,55.8L77.8,55.9L77.3,55.9L76.8,56.0L76.3,56.0L75.8,56.0L75.4,56.1L75.1,56.2L74.6,56.3L74.1,56.3L73.8,56.4ZM75.2,46.1L75.6,46.0L76.1,45.9L76.3,45.8L76.8,45.6L77.1,45.5L77.3,45.3L77.5,44.9L77.5,44.4L77.4,43.9L77.1,43.6L76.8,43.5L76.3,43.4L76.1,43.2L75.8,43.1L75.5,42.9L75.1,42.6L74.9,42.4L74.7,42.1L74.6,41.9L74.4,41.4L74.3,41.1L74.1,40.8L73.8,40.5L73.6,40.3L73.1,40.2L72.6,40.2L72.1,40.3L71.8,40.5L71.6,40.6L71.1,40.8L70.8,40.9L70.3,41.0L70.0,41.1L70.1,41.6L70.3,41.9L70.6,42.0L71.1,42.0L71.6,42.0L71.9,42.1L72.3,42.4L72.6,42.6L72.7,42.9L72.8,43.4L72.8,43.9L72.7,44.4L72.7,44.9L72.8,45.4L72.8,45.6L73.1,45.9L73.6,46.0L74.1,46.1L74.3,46.1L74.8,46.2L75.2,46.1ZM67.3,50.1L67.1,49.9L67.0,49.6L67.0,49.1L67.3,48.9L67.7,49.1L67.8,49.6L67.6,50.0L67.3,50.1ZM101.3,50.6L101.1,50.6L100.7,50.4L100.6,50.1L100.6,49.8L100.8,49.4L101.1,49.3L101.4,49.4L101.7,49.6L101.8,50.1L101.6,50.5L101.3,50.6ZM82.3,63.9L81.8,64.0L81.4,63.9L81.2,63.6L81.0,63.4L80.9,62.9L81.0,62.4L81.2,62.1L81.3,61.8L81.6,61.4L81.7,61.1L81.8,60.6L81.9,60.4L82.0,59.9L82.1,59.4L82.1,58.9L82.1,58.4L82.1,58.1L82.3,57.6L82.5,57.4L82.6,57.1L82.8,56.6L82.8,56.3L82.8,56.0L82.6,55.7L82.3,55.6L82.1,55.4L81.8,55.1L81.6,54.7L81.5,54.4L81.5,53.9L81.5,53.4L81.5,52.9L81.5,52.4L81.6,52.0L81.8,51.6L82.0,51.4L82.2,51.1L82.5,50.9L82.8,50.6L83.1,50.5L83.6,50.4L83.8,50.3L84.3,50.3L84.8,50.2L85.3,50.1L85.8,50.3L86.0,50.6L86.0,51.1L85.9,51.6L85.8,51.9L85.6,52.1L85.3,52.4L85.1,52.6L85.0,53.1L85.0,53.6L85.2,53.9L85.4,54.1L85.8,54.4L86.1,54.4L86.6,54.5L87.1,54.5L87.3,54.6L87.7,54.9L87.9,55.1L88.1,55.4L88.2,55.9L88.3,56.4L88.1,56.9L88.0,57.1L87.7,57.4L87.3,57.6L87.1,57.7L86.8,57.9L86.6,58.1L86.3,58.5L86.2,58.9L86.3,59.3L86.6,59.6L86.8,59.9L87.0,60.1L87.1,60.4L87.3,60.9L87.4,61.1L87.5,61.6L87.6,62.1L87.5,62.6L87.3,63.1L87.1,63.3L86.8,63.4L86.3,63.5L85.8,63.5L85.3,63.5L85.0,63.6L84.6,63.7L84.1,63.7L83.7,63.6L83.3,63.5L82.8,63.5L82.6,63.7L82.3,63.9ZM66.1,54.0L65.6,53.9L65.3,53.6L65.3,53.5L65.6,53.2L66.1,53.4L66.3,53.6L66.1,54.0ZM100.3,56.9L99.8,57.1L99.5,56.9L99.5,56.4L99.8,56.2L100.3,56.3L100.5,56.6L100.3,56.9ZM92.6,57.9L92.1,58.0L91.8,57.7L91.8,57.4L91.8,57.1L92.1,56.9L92.6,56.8L92.8,56.9L93.0,57.4L92.8,57.7L92.6,57.9ZM98.6,62.4L98.3,62.3L97.8,62.3L97.3,62.1L97.1,62.0L96.8,61.8L96.6,61.6L96.3,61.3L96.1,61.0L95.9,60.6L96.0,60.1L96.2,59.9L96.6,59.6L96.8,59.4L97.1,59.1L97.3,58.9L97.5,58.6L97.7,58.4L98.1,58.1L98.2,58.1L98.6,58.2L98.8,58.4L99.2,58.6L99.6,58.8L99.8,59.0L100.1,59.4L100.0,59.9L100.0,60.4L99.8,60.8L99.7,61.1L99.6,61.4L99.3,61.7L99.1,62.1L98.8,62.3L98.6,62.4ZM73.8,63.4L73.6,63.4L73.1,63.1L72.9,62.9L72.8,62.6L72.7,62.1L72.8,61.7L73.1,61.4L73.3,61.2L73.8,61.2L74.2,61.4L74.5,61.6L74.7,61.9L74.8,62.4L74.7,62.9L74.5,63.1L74.1,63.3L73.8,63.4ZM79.3,62.9L79.3,62.6L79.4,62.6L79.3,62.9ZM95.8,67.4L95.3,67.5L94.9,67.3L94.7,67.1L94.5,66.8L94.3,66.4L94.1,66.1L93.8,66.0L93.6,65.8L93.3,65.6L93.0,65.3L92.8,65.0L92.7,64.6L92.8,64.1L92.9,63.9L93.1,63.6L93.3,63.3L93.6,63.1L94.1,62.9L94.3,62.8L94.8,62.6L95.1,62.6L95.4,62.6L95.8,62.8L96.0,63.1L96.1,63.6L96.1,63.9L96.3,64.3L96.6,64.6L96.8,64.7L97.3,64.6L97.6,64.5L97.8,64.3L98.1,64.1L98.4,63.9L98.6,63.5L98.8,63.1L99.1,63.0L99.3,63.3L99.4,63.6L99.5,64.1L99.4,64.6L99.3,64.8L99.1,65.2L98.8,65.5L98.6,65.6L98.1,65.8L97.8,66.0L97.6,66.2L97.3,66.4L97.1,66.6L96.8,66.8L96.4,67.1L96.1,67.3L95.8,67.4ZM68.3,63.7L67.8,63.6L67.7,63.4L67.8,62.9L68.1,62.8L68.3,62.9L68.5,63.4L68.3,63.7ZM77.8,67.2L77.3,67.3L76.8,67.3L76.6,67.1L76.3,66.8L76.1,66.3L76.1,66.1L76.1,65.8L76.3,65.3L76.5,65.1L76.8,64.9L77.3,65.0L77.6,65.1L77.8,65.4L78.0,65.8L78.1,66.1L78.2,66.6L78.1,66.9L77.8,67.2ZM91.8,67.1L91.3,67.1L91.3,66.8L91.4,66.6L91.8,66.4L92.0,66.8L91.8,67.1ZM85.1,70.2L84.6,70.2L84.3,70.1L84.2,69.6L84.5,69.3L84.8,69.2L85.1,69.1L85.4,68.8L85.6,68.5L85.8,68.2L86.1,68.0L86.3,67.8L86.8,67.7L87.3,67.8L87.5,68.1L87.4,68.6L87.2,68.8L86.9,69.1L86.6,69.3L86.3,69.5L86.1,69.6L85.7,69.8L85.3,70.0L85.1,70.2Z" fill="none" fill-rule="evenodd" stroke="#777" stroke-width="0.5"/>
<path d="M95.3,41.2L94.8,41.2L94.3,41.3L93.8,41.3L93.3,41.3L92.8,41.3L92.3,41.2L91.8,41.2L91.6,41.1L91.1,41.0L90.8,40.9L90.3,40.7L90.1,40.6L89.7,40.4L89.4,40.1L89.1,39.9L88.9,39.6L88.7,39.4L88.6,39.1L88.4,38.6L88.4,38.1L88.6,37.6L88.8,37.4L89.0,37.1L89.2,36.9L89.5,36.6L89.8,36.4L90.1,36.2L90.4,36.1L90.8,35.9L91.1,35.8L91.6,35.7L92.1,35.6L92.3,35.6L92.8,35.5L93.3,35.5L93.8,35.5L94.3,35.5L94.8,35.6L95.1,35.6L95.6,35.7L96.1,35.8L96.3,35.9L96.8,36.1L97.1,36.2L97.3,36.4L97.7,36.6L98.0,36.9L98.2,37.1L98.4,37.4L98.6,37.6L98.8,38.1L98.8,38.6L98.6,39.1L98.5,39.4L98.3,39.6L98.1,39.9L97.8,40.1L97.5,40.4L97.1,40.6L96.8,40.7L96.4,40.9L96.1,41.0L95.6,41.1L95.3,41.2ZM78.1,37.6L77.8,37.6L77.5,37.4L77.5,36.9L77.6,36.6L78.1,36.4L78.3,36.3L78.6,36.4L79.1,36.5L79.6,36.4L79.8,36.2L80.3,36.1L80.5,36.1L80.8,36.3L81.0,36.6L80.8,36.9L80.3,37.1L80.1,37.1L79.6,37.1L79.1,37.2L78.8,37.4L78.3,37.6L78.1,37.6ZM71.3,39.6L70.8,39.7L70.5,39.6L70.4,39.1L70.6,38.7L70.8,38.4L71.1,38.1L71.3,37.9L71.6,37.8L71.8,37.9L72.1,38.2L72.2,38.6L72.1,39.0L71.8,39.3L71.6,39.5L71.3,39.6ZM76.6,41.6L76.1,41.7L75.8,41.6L75.6,41.3L75.4,40.9L75.4,40.4L75.6,40.1L76.1,39.9L76.6,40.0L76.8,40.4L76.9,40.6L76.9,41.1L76.8,41.4L76.6,41.6ZM71.6,48.3L71.1,48.1L70.8,48.0L70.6,47.8L70.3,47.6L70.0,47.4L69.8,47.1L69.6,46.8L69.3,46.4L69.3,46.1L69.3,45.8L69.6,45.4L69.7,45.1L69.9,44.9L70.1,44.6L70.4,44.4L70.6,44.1L71.0,43.9L71.3,43.8L71.6,43.9L71.8,44.2L72.0,44.6L72.1,45.1L72.1,45.6L72.1,46.1L72.1,46.6L72.1,47.1L72.0,47.6L71.8,48.0L71.6,48.3ZM80.3,44.4L80.0,44.4L80.1,44.1L80.4,44.1L80.3,44.4ZM68.1,46.4L67.6,46.5L67.2,46.4L67.0,46.1L66.8,45.9L66.8,45.6L67.1,45.3L67.6,45.2L68.0,45.4L68.3,45.6L68.5,45.9L68.3,46.3L68.1,46.4ZM75.6,51.9L75.1,51.9L74.8,51.8L74.3,51.6L74.1,51.5L73.6,51.4L73.3,51.3L72.8,51.3L72.4,51.1L72.2,50.9L72.0,50.6L71.9,50.1L71.8,49.9L71.7,49.4L71.8,48.9L72.1,48.6L72.6,48.7L73.1,48.8L73.5,48.6L73.8,48.4L74.1,48.3L74.4,48.4L74.8,48.6L75.1,48.9L75.3,49.1L75.5,49.4L75.7,49.6L75.8,49.9L76.0,50.4L76.1,50.6L76.1,51.1L76.1,51.4L75.8,51.8L75.6,51.9ZM72.8,54.9L72.3,54.9L72.1,54.8L71.8,54.6L71.6,54.1L71.7,53.6L71.9,53.4L72.1,53.1L72.5,52.9L72.8,52.8L73.3,52.8L73.7,52.9L74.1,53.0L74.6,53.1L74.8,53.1L75.3,53.1L75.6,53.1L75.8,53.1L76.3,53.2L76.8,53.2L77.1,53.0L77.3,52.8L77.7,52.6L78.0,52.4L78.2,52.1L78.4,51.9L78.8,51.7L79.2,51.9L79.1,52.2L78.8,52.4L78.4,52.6L78.3,52.9L78.2,53.4L78.1,53.8L77.8,54.1L77.6,54.2L77.1,54.3L76.8,54.4L76.3,54.6L76.1,54.7L75.6,54.8L75.1,54.8L74.6,54.8L74.1,54.7L73.6,54.7L73.1,54.8L72.8,54.9ZM83.8,54.7L83.3,54.8L82.8,54.7L82.6,54.5L82.3,54.2L82.3,53.9L82.2,53.4L82.2,52.9L82.3,52.4L82.4,52.1L82.7,51.9L83.1,51.6L83.6,51.7L83.8,51.9L84.1,52.3L84.2,52.6L84.2,53.1L84.2,53.6L84.3,54.1L84.1,54.6L83.8,54.7ZM87.1,56.7L86.6,56.7L86.3,56.6L86.1,56.1L86.3,55.7L86.6,55.6L86.9,55.6L87.3,55.9L87.4,56.1L87.3,56.6L87.1,56.7ZM98.3,61.4L97.8,61.4L97.6,61.3L97.3,61.1L97.1,60.6L97.3,60.1L97.4,59.9L97.7,59.6L98.1,59.4L98.3,59.3L98.6,59.4L98.8,59.7L99.0,60.1L99.0,60.6L98.8,60.9L98.6,61.2L98.3,61.4ZM86.1,62.6L85.6,62.6L85.1,62.6L84.6,62.6L84.3,62.5L84.1,62.3L83.8,62.1L83.6,61.9L83.3,61.6L83.2,61.1L83.3,60.7L83.6,60.4L83.8,60.2L84.3,60.1L84.8,60.2L85.3,60.4L85.6,60.5L85.8,60.6L86.2,60.9L86.5,61.1L86.7,61.4L86.8,61.9L86.7,62.4L86.3,62.6L86.1,62.6Z" fill="rgba(0,0,0,0.06)" fill-rule="evenodd" stroke="#444" stroke-width="0.6"/>
<path d="M95.3,40.6L94.8,40.7L94.3,40.8L93.8,40.8L93.3,40.8L92.8,40.8L92.3,40.7L91.8,40.6L91.6,40.5L91.1,40.4L90.8,40.3L90.5,40.1L90.2,39.9L89.9,39.6L89.7,39.4L89.5,39.1L89.3,38.7L89.3,38.4L89.3,38.1L89.5,37.6L89.7,37.4L90.0,37.1L90.3,36.9L90.6,36.7L90.8,36.5L91.3,36.4L91.6,36.3L92.1,36.1L92.3,36.1L92.8,36.0L93.3,36.0L93.8,36.0L94.3,36.0L94.8,36.1L95.1,36.1L95.6,36.3L95.9,36.4L96.3,36.5L96.6,36.7L96.9,36.9L97.2,37.1L97.5,37.4L97.7,37.6L97.8,38.1L97.9,38.4L97.8,38.7L97.7,39.1L97.5,39.4L97.3,39.6L97.0,39.9L96.7,40.1L96.3,40.3L96.1,40.4L95.6,40.5L95.3,40.6ZM75.3,50.9L74.9,50.9L74.6,50.6L74.4,50.4L74.3,50.1L74.3,49.6L74.6,49.4L75.0,49.6L75.3,49.9L75.4,50.1L75.5,50.6L75.3,50.9Z" fill="rgba(0,0,0,0.06)" fill-rule="evenodd" stroke="#222" stroke-width="0.7"/>
<ellipse cx="75.8" cy="59.7" rx="12.1" ry="7.1000000000000005" fill="#d8d8d8" stroke="#999" stroke-width="0.5" transform="rotate(-3 75.8 59.7)"/>
<ellipse cx="75.8" cy="59.7" rx="11.2" ry="6.2" fill="#a6a6a6" stroke="#262626" stroke-width="1.5" transform="rotate(-3 75.8 59.7)"/>
<ellipse cx="75.8" cy="59.7" rx="9.2" ry="4.7" fill="none" stroke="#777" stroke-width="0.6" transform="rotate(-3 75.8 59.7)"/>
<ellipse cx="76.39999999999999" cy="60.1" rx="6.16" ry="3.5959999999999996" fill="#8a8a8a" stroke="#555" stroke-width="0.7" transform="rotate(-3 75.8 59.7)"/>
<ellipse cx="75.4" cy="60.6" rx="3.2" ry="0.9" fill="#f2f2f2" transform="rotate(-12 75.4 60.6)"/>
<ellipse cx="72.8" cy="62.8" rx="1.6" ry="0.8" fill="#1a1a1a"/>
<ellipse cx="93.9" cy="38.6" rx="2.4" ry="0.8" fill="#ddd"/>
<rect x="84.8" y="32.5" width="17.8" height="10.9" fill="none" stroke="#111" stroke-width="1.1" />
<line x1="102.6" y1="37.9" x2="127" y2="37.9" stroke="#000" stroke-width="1.4" />
<path d="M125,35.699999999999996 L130,37.9 L125,40.1 Z" fill="#000"/>
<path d="M75.6,140.7L75.1,140.7L74.6,140.7L74.1,140.7L73.6,140.7L73.3,140.7L72.8,140.6L72.3,140.6L71.8,140.5L71.4,140.4L71.1,140.3L70.6,140.2L70.3,140.2L69.8,140.0L69.5,139.9L69.1,139.8L68.8,139.7L68.3,139.4L68.1,139.3L67.8,139.2L67.3,138.9L67.1,138.8L66.8,138.6L66.6,138.4L66.3,138.2L66.0,137.9L65.7,137.7L65.5,137.4L65.3,137.2L65.1,136.9L64.8,136.4L64.7,136.2L64.6,135.9L64.4,135.4L64.3,135.1L64.3,134.7L64.2,134.2L64.3,133.7L64.3,133.2L64.4,132.9L64.6,132.4L64.7,132.2L64.8,131.9L65.1,131.4L65.3,131.2L65.5,130.9L65.7,130.7L65.9,130.4L66.1,130.2L66.4,129.9L66.7,129.7L67.0,129.4L67.3,129.2L67.6,129.0L67.8,128.8L68.1,128.6L68.5,128.4L68.8,128.2L69.1,128.0L69.3,127.8L69.6,127.6L69.8,127.2L69.8,126.7L69.6,126.2L69.5,125.9L69.3,125.6L69.1,125.3L68.8,125.0L68.6,124.7L68.3,124.5L68.1,124.3L67.6,124.3L67.3,124.6L67.1,124.9L66.9,125.2L66.7,125.4L66.3,125.6L66.1,125.7L65.6,125.8L65.1,125.7L64.8,125.5L64.6,125.3L64.3,125.1L64.1,124.8L63.9,124.5L63.7,124.2L63.5,123.9L63.4,123.4L63.3,123.2L63.3,122.7L63.4,122.3L63.4,121.9L63.5,121.4L63.4,120.9L63.4,120.5L63.3,120.2L63.2,119.7L63.1,119.3L63.0,118.9L62.9,118.4L62.8,118.2L62.7,117.7L62.7,117.2L62.6,116.7L62.6,116.4L62.6,115.9L62.6,115.4L62.6,115.2L62.7,114.7L62.8,114.2L62.9,113.9L63.1,113.6L63.3,113.2L63.5,112.9L63.7,112.7L63.9,112.4L64.1,112.1L64.3,111.9L64.6,111.6L64.8,111.4L65.1,111.1L65.3,110.7L65.5,110.4L65.6,109.9L65.4,109.4L65.3,109.2L65.1,108.7L65.3,108.2L65.5,107.9L65.8,107.8L66.3,107.9L66.8,107.8L67.2,107.7L67.6,107.4L67.8,107.4L68.3,107.3L68.8,107.3L69.3,107.4L69.6,107.5L69.8,107.7L70.3,107.9L70.8,107.8L71.2,107.7L71.6,107.4L71.8,107.3L72.1,107.2L72.6,107.0L73.1,107.0L73.6,107.1L73.9,107.2L74.3,107.4L74.6,107.4L75.1,107.5L75.3,107.3L75.6,107.1L75.9,106.9L76.3,106.7L76.6,106.5L76.8,106.4L77.3,106.3L77.6,106.4L78.1,106.6L78.3,106.9L78.6,107.2L78.7,107.4L78.8,107.7L79.0,108.2L79.1,108.4L79.3,108.9L79.4,109.2L79.6,109.4L79.8,109.7L80.3,109.9L80.8,109.7L81.1,109.5L81.3,109.3L81.6,109.1L81.9,108.9L82.3,108.8L82.8,108.8L83.2,108.9L83.6,109.1L83.8,109.4L84.1,109.7L84.3,109.9L84.6,110.1L85.1,110.1L85.6,109.9L85.8,109.8L86.2,109.7L86.6,109.5L86.9,109.4L87.3,109.2L87.6,109.2L88.1,109.0L88.6,108.9L88.8,108.9L89.3,108.8L89.8,108.7L90.3,108.7L90.8,108.7L91.1,108.6L91.6,108.6L92.1,108.6L92.3,108.7L92.8,108.7L93.3,108.7L93.8,108.8L94.3,108.9L94.6,109.0L95.1,109.1L95.4,109.2L95.8,109.3L96.1,109.4L96.6,109.6L96.8,109.7L97.2,109.9L97.6,110.1L97.8,110.3L98.1,110.5L98.3,110.7L98.6,111.0L98.8,111.3L99.0,111.7L99.1,111.9L99.2,112.4L99.2,112.9L99.1,113.2L98.9,113.7L98.7,113.9L98.5,114.2L98.2,114.4L97.9,114.7L97.6,114.9L97.3,115.0L97.1,115.2L96.6,115.4L96.3,115.5L96.0,115.7L95.6,115.8L95.2,115.9L94.8,116.0L94.3,116.1L94.1,116.2L93.6,116.2L93.1,116.3L92.6,116.3L92.1,116.4L91.6,116.4L91.1,116.4L90.6,116.4L90.1,116.3L89.6,116.3L89.1,116.2L88.8,116.2L88.3,116.1L87.8,116.0L87.3,115.9L87.1,115.9L86.6,115.9L86.3,115.9L86.1,116.2L86.1,116.4L86.3,116.9L86.4,117.2L86.5,117.7L86.5,118.2L86.3,118.6L86.3,118.9L86.1,119.2L85.8,119.6L85.7,119.9L85.6,120.2L85.4,120.7L85.4,121.2L85.6,121.7L85.7,121.9L85.8,122.3L86.0,122.7L86.1,123.2L86.0,123.7L85.8,124.1L85.7,124.4L85.4,124.7L85.1,124.9L84.8,125.1L84.6,125.2L84.1,125.3L83.8,125.4L83.3,125.5L83.0,125.7L82.7,125.9L82.7,126.4L82.8,126.9L82.9,127.2L83.1,127.6L83.3,127.9L83.5,128.2L83.8,128.4L84.1,128.7L84.3,128.9L84.6,129.1L84.8,129.3L85.1,129.6L85.3,129.9L85.6,130.2L85.7,130.4L85.9,130.7L86.1,131.0L86.3,131.4L86.4,131.7L86.5,132.2L86.6,132.7L86.6,133.2L86.5,133.7L86.4,134.2L86.3,134.4L86.2,134.9L86.0,135.2L85.8,135.5L85.6,135.9L85.4,136.2L85.3,136.4L85.0,136.7L84.8,136.9L84.6,137.2L84.3,137.4L84.0,137.7L83.7,137.9L83.3,138.1L83.1,138.3L82.8,138.5L82.5,138.7L82.1,138.9L81.8,139.0L81.6,139.2L81.1,139.4L80.8,139.5L80.4,139.7L80.1,139.8L79.7,139.9L79.3,140.0L78.8,140.1L78.6,140.2L78.1,140.3L77.7,140.4L77.3,140.5L76.8,140.5L76.3,140.6L75.8,140.6L75.6,140.7ZM80.2,123.7L80.5,123.4L80.6,122.9L80.6,122.4L80.2,122.4L80.0,122.7L79.8,123.0L79.8,123.4L80.1,123.7L80.2,123.7ZM95.8,128.5L95.3,128.4L95.1,128.2L94.9,127.9L94.8,127.7L94.9,127.4L95.1,127.2L95.6,127.0L96.1,127.0L96.6,127.2L96.8,127.3L97.3,127.2L97.6,127.0L97.8,126.9L98.3,126.7L98.8,126.7L99.3,126.7L99.8,126.9L99.9,127.2L99.7,127.4L99.3,127.6L99.1,127.7L98.6,127.8L98.1,127.8L97.6,127.7L97.1,127.7L96.7,127.9L96.3,128.1L96.1,128.3L95.8,128.5ZM91.8,139.0L91.3,139.1L90.9,138.9L90.6,138.7L90.5,138.4L90.6,138.0L90.8,137.8L91.2,137.7L91.6,137.6L92.1,137.5L92.6,137.4L92.7,137.2L92.7,136.7L92.6,136.2L92.6,135.9L92.5,135.4L92.4,134.9L92.3,134.5L91.8,134.5L91.3,134.5L90.8,134.4L90.6,134.4L90.1,134.2L89.8,134.2L89.3,134.1L88.9,133.9L88.6,133.7L88.4,133.4L88.3,133.2L88.2,132.7L88.3,132.2L88.5,131.9L88.7,131.7L88.9,131.4L89.1,131.2L89.5,130.9L89.8,130.7L90.1,130.6L90.6,130.5L90.9,130.7L91.1,130.9L91.3,131.3L91.5,131.7L91.7,131.9L91.9,132.2L92.1,132.5L92.2,132.9L92.3,133.4L92.4,133.7L92.6,134.1L93.1,134.0L93.6,133.9L94.1,133.9L94.6,134.0L95.1,134.1L95.6,134.0L95.8,133.9L96.1,133.7L96.2,133.2L95.9,132.9L95.6,132.7L95.3,132.6L94.8,132.5L94.6,132.4L94.1,132.2L93.6,132.2L93.2,132.2L92.8,132.0L92.7,131.7L92.8,131.3L93.1,131.1L93.4,130.9L93.8,130.7L94.0,130.4L94.2,130.2L94.4,129.9L94.6,129.7L94.9,129.4L95.2,129.2L95.6,128.9L96.1,129.1L96.3,129.3L96.6,129.5L96.8,129.8L97.1,130.2L97.2,130.4L97.4,130.7L97.6,131.1L97.7,131.4L97.8,131.8L97.9,132.2L97.8,132.5L97.7,132.9L97.5,133.2L97.3,133.4L97.1,133.9L97.1,134.4L97.2,134.9L97.3,135.4L97.4,135.7L97.5,136.2L97.6,136.7L97.5,137.2L97.3,137.4L97.1,137.7L96.8,138.0L96.3,138.1L95.8,138.0L95.5,137.9L95.1,137.9L94.8,137.9L94.3,138.0L93.8,138.0L93.3,138.1L93.1,138.2L92.7,138.4L92.4,138.7L92.1,138.8L91.8,139.0ZM100.1,133.0L99.6,132.9L99.3,132.7L99.2,132.4L99.2,131.9L99.3,131.6L99.8,131.5L100.2,131.7L100.4,131.9L100.6,132.4L100.3,132.8L100.1,133.0ZM103.1,133.2L102.6,133.2L102.5,132.9L102.6,132.5L103.0,132.7L103.1,132.9L103.1,133.2ZM88.8,137.8L88.5,137.7L88.8,137.5L88.8,137.8Z" fill="rgba(0,0,0,0.04)" fill-rule="evenodd" stroke="#bbb" stroke-width="0.45"/>
<path d="M76.6,139.9L76.1,140.0L75.6,140.0L75.1,140.0L74.6,140.1L74.1,140.0L73.6,140.0L73.1,140.0L72.6,139.9L72.3,139.9L71.8,139.8L71.3,139.7L71.1,139.7L70.6,139.5L70.2,139.4L69.8,139.3L69.5,139.2L69.1,139.0L68.8,138.9L68.4,138.7L68.1,138.5L67.8,138.3L67.6,138.1L67.3,137.9L67.0,137.7L66.7,137.4L66.5,137.2L66.3,136.9L66.1,136.7L65.8,136.3L65.6,135.9L65.5,135.7L65.4,135.2L65.3,134.9L65.3,134.4L65.3,133.9L65.3,133.4L65.4,133.2L65.5,132.7L65.6,132.4L65.8,131.9L66.0,131.7L66.2,131.4L66.4,131.2L66.6,130.9L66.8,130.6L67.1,130.3L67.3,130.1L67.6,129.9L67.9,129.7L68.3,129.4L68.6,129.2L68.8,129.0L69.1,128.9L69.5,128.7L69.8,128.4L70.1,128.2L70.3,128.0L70.5,127.7L70.6,127.2L70.5,126.7L70.3,126.2L70.3,125.9L70.1,125.4L69.9,125.2L69.7,124.9L69.5,124.7L69.3,124.4L69.1,124.2L68.8,123.9L68.6,123.6L68.3,123.4L67.8,123.3L67.3,123.4L67.1,123.5L66.8,123.8L66.6,124.2L66.5,124.4L66.3,124.7L66.1,124.9L65.6,125.0L65.2,124.9L64.9,124.7L64.6,124.4L64.5,124.2L64.3,123.9L64.1,123.6L64.0,123.2L63.9,122.7L64.0,122.2L64.1,121.7L64.1,121.4L64.1,120.9L64.1,120.7L64.0,120.2L63.9,119.7L63.8,119.4L63.8,118.9L63.7,118.4L63.6,117.9L63.6,117.7L63.6,117.2L63.6,116.7L63.6,116.4L63.7,115.9L63.8,115.4L63.9,115.0L64.0,114.7L64.1,114.3L64.3,113.9L64.4,113.7L64.6,113.4L64.8,113.1L65.1,112.8L65.3,112.5L65.6,112.3L65.8,112.0L66.1,111.8L66.3,111.5L66.6,111.2L66.7,110.9L66.8,110.4L66.8,109.9L66.8,109.4L66.8,108.9L67.0,108.7L67.2,108.4L67.4,108.2L67.8,107.9L68.1,107.8L68.6,107.8L69.0,107.9L69.3,108.1L69.6,108.4L69.8,108.7L70.0,108.9L70.3,109.0L70.6,108.9L71.0,108.7L71.3,108.4L71.6,108.2L71.8,108.0L72.1,107.8L72.6,107.7L72.8,107.6L73.1,107.7L73.6,107.8L73.8,108.0L74.1,108.2L74.4,108.4L74.8,108.6L75.3,108.5L75.6,108.3L75.8,108.1L76.1,107.8L76.3,107.6L76.7,107.4L77.1,107.3L77.5,107.4L77.8,107.6L78.1,107.9L78.2,108.2L78.3,108.4L78.5,108.9L78.6,109.2L78.8,109.7L79.0,109.9L79.1,110.2L79.3,110.4L79.6,110.7L79.8,110.9L80.1,111.2L80.5,111.4L80.8,111.6L81.1,111.8L81.3,112.0L81.6,112.3L81.8,112.6L82.1,112.9L82.3,113.2L82.5,113.4L82.6,113.7L82.8,114.2L82.8,114.5L82.9,114.9L83.0,115.4L83.0,115.9L83.1,116.2L83.3,116.6L83.6,116.7L84.1,116.8L84.6,116.9L84.8,116.9L85.2,117.2L85.4,117.4L85.6,117.9L85.5,118.4L85.3,118.8L85.2,119.2L85.1,119.4L84.9,119.9L84.8,120.2L84.8,120.7L84.8,121.2L84.8,121.7L84.9,121.9L85.1,122.4L85.2,122.7L85.3,123.2L85.2,123.7L85.1,123.9L84.8,124.2L84.6,124.4L84.1,124.6L83.8,124.7L83.3,124.8L82.8,124.9L82.3,124.8L81.8,124.8L81.6,125.1L81.5,125.4L81.4,125.9L81.5,126.4L81.7,126.7L81.8,127.0L82.0,127.4L82.1,127.7L82.3,128.0L82.6,128.4L82.8,128.6L83.1,128.9L83.3,129.1L83.6,129.3L83.8,129.6L84.1,129.8L84.3,130.1L84.6,130.4L84.8,130.7L84.9,130.9L85.1,131.2L85.3,131.7L85.4,131.9L85.5,132.4L85.6,132.9L85.5,133.4L85.5,133.9L85.3,134.4L85.2,134.7L85.1,135.0L84.9,135.4L84.7,135.7L84.6,135.9L84.3,136.2L84.1,136.5L83.8,136.7L83.6,137.0L83.3,137.2L83.1,137.4L82.8,137.7L82.4,137.9L82.1,138.1L81.8,138.2L81.5,138.4L81.1,138.6L80.8,138.7L80.5,138.9L80.1,139.1L79.8,139.2L79.3,139.3L79.1,139.4L78.6,139.5L78.1,139.7L77.8,139.7L77.3,139.8L76.8,139.9L76.6,139.9ZM92.6,115.9L92.1,116.0L91.6,116.0L91.1,116.0L90.6,115.9L90.2,115.9L89.8,115.9L89.3,115.8L88.8,115.7L88.5,115.7L88.1,115.6L87.6,115.4L87.3,115.4L86.8,115.2L86.6,115.1L86.1,114.9L85.8,114.8L85.6,114.7L85.2,114.4L84.8,114.2L84.6,114.0L84.3,113.7L84.1,113.4L84.0,113.2L84.0,112.7L84.1,112.2L84.2,111.9L84.4,111.7L84.6,111.4L84.9,111.2L85.2,110.9L85.5,110.7L85.8,110.5L86.1,110.3L86.4,110.2L86.8,109.9L87.1,109.8L87.6,109.7L87.8,109.6L88.3,109.4L88.6,109.4L89.1,109.3L89.6,109.2L89.8,109.1L90.3,109.1L90.8,109.1L91.3,109.0L91.8,109.0L92.3,109.1L92.8,109.1L93.2,109.2L93.6,109.2L94.1,109.3L94.6,109.4L94.8,109.5L95.3,109.6L95.6,109.7L96.1,109.9L96.3,110.0L96.6,110.2L97.0,110.4L97.3,110.7L97.6,110.9L97.8,111.1L98.1,111.4L98.2,111.7L98.3,112.0L98.4,112.4L98.4,112.9L98.3,113.2L98.1,113.5L97.8,113.9L97.6,114.1L97.3,114.3L97.1,114.5L96.8,114.7L96.5,114.9L96.1,115.1L95.8,115.2L95.3,115.4L95.1,115.5L94.6,115.6L94.3,115.7L93.8,115.8L93.3,115.8L92.8,115.9L92.6,115.9ZM82.3,111.4L82.1,111.3L81.8,111.1L81.7,110.7L81.8,110.2L81.9,109.9L82.3,109.7L82.6,109.6L82.9,109.7L83.2,109.9L83.4,110.2L83.4,110.7L83.3,110.9L83.1,111.2L82.6,111.4L82.3,111.4ZM79.9,124.7L80.3,124.4L80.6,124.2L80.8,124.1L81.1,123.9L81.2,123.4L81.3,122.9L81.4,122.7L81.6,122.3L81.8,122.0L82.1,121.7L82.2,121.4L82.2,120.9L82.1,120.5L82.0,120.2L81.9,119.7L81.9,119.2L81.6,118.9L81.2,119.2L80.9,119.4L80.7,119.7L80.5,119.9L80.3,120.2L80.1,120.4L79.9,120.9L79.7,121.2L79.6,121.4L79.3,121.8L79.1,122.1L78.9,122.4L78.7,122.7L78.6,123.1L78.6,123.4L78.7,123.7L78.8,124.1L79.0,124.4L79.2,124.7L79.6,124.9L79.9,124.7ZM96.8,131.9L96.3,132.0L96.1,131.9L95.6,131.7L95.3,131.5L95.1,131.2L95.1,130.9L95.2,130.7L95.5,130.4L95.8,130.4L96.1,130.5L96.3,130.7L96.6,131.0L96.8,131.4L96.9,131.7L96.8,131.9ZM91.1,133.4L90.6,133.5L90.3,133.3L90.0,133.2L89.8,132.9L89.8,132.4L90.0,132.2L90.3,132.0L90.6,132.2L90.8,132.4L91.1,132.8L91.2,133.2L91.1,133.4ZM94.8,137.2L94.3,137.3L94.1,137.2L93.8,136.7L93.8,136.4L93.9,136.2L94.3,135.9L94.6,135.9L94.8,136.0L95.1,136.2L95.3,136.7L95.1,137.0L94.8,137.2ZM96.3,136.9L96.2,136.7L96.4,136.7L96.3,136.9Z" fill="none" fill-rule="evenodd" stroke="#aaa" stroke-width="0.45"/>
<path d="M76.8,138.9L76.3,139.0L75.8,139.1L75.3,139.1L74.8,139.1L74.3,139.1L73.8,139.1L73.3,139.0L72.8,139.0L72.3,138.9L72.1,138.9L71.6,138.7L71.3,138.7L70.8,138.5L70.5,138.4L70.1,138.2L69.8,138.1L69.4,137.9L69.1,137.7L68.8,137.5L68.6,137.4L68.3,137.2L68.0,136.9L67.8,136.7L67.6,136.4L67.3,136.1L67.1,135.7L67.0,135.4L66.8,135.0L66.8,134.7L66.7,134.2L66.7,133.7L66.8,133.2L66.9,132.9L67.1,132.4L67.2,132.2L67.4,131.9L67.6,131.6L67.8,131.3L68.1,131.0L68.3,130.8L68.6,130.5L68.8,130.3L69.1,130.2L69.5,129.9L69.8,129.7L70.1,129.5L70.3,129.4L70.8,129.2L71.1,129.0L71.3,128.8L71.7,128.7L72.1,128.5L72.4,128.4L72.8,128.3L73.3,128.2L73.6,128.1L74.1,128.0L74.6,127.9L74.8,127.9L75.3,127.8L75.8,127.7L76.1,127.6L76.6,127.4L76.8,127.2L76.8,126.7L76.8,126.2L76.3,126.0L75.8,126.0L75.4,125.9L75.1,125.8L74.6,125.8L74.3,125.9L73.8,126.1L73.3,126.0L73.1,125.9L72.8,125.6L72.7,125.2L72.8,124.7L72.9,124.4L72.6,124.2L72.1,124.3L71.8,124.5L71.3,124.6L70.8,124.5L70.6,124.4L70.2,124.2L69.9,123.9L69.7,123.7L69.5,123.4L69.3,123.2L69.1,122.8L68.8,122.6L68.5,122.4L68.1,122.4L67.6,122.4L67.3,122.4L66.8,122.6L66.6,122.7L66.2,122.9L65.8,123.1L65.6,123.3L65.1,123.2L64.9,122.9L64.8,122.7L64.8,122.2L64.8,121.9L65.0,121.4L65.0,120.9L64.9,120.4L64.8,120.2L64.6,119.7L64.6,119.4L64.5,118.9L64.4,118.4L64.3,118.2L64.3,117.7L64.3,117.2L64.3,116.9L64.4,116.4L64.5,115.9L64.5,115.4L64.6,115.1L64.8,114.7L64.9,114.4L65.1,114.1L65.3,113.9L65.6,113.6L65.9,113.4L66.3,113.2L66.6,112.9L66.8,112.7L67.1,112.6L67.4,112.4L67.7,112.2L68.0,111.9L68.3,111.7L68.6,111.5L68.8,111.3L69.1,111.2L69.5,110.9L69.8,110.7L70.1,110.4L70.3,110.2L70.6,109.9L70.8,109.7L71.1,109.5L71.3,109.3L71.6,109.1L71.9,108.9L72.3,108.7L72.6,108.6L73.1,108.6L73.3,108.7L73.7,108.9L74.0,109.2L74.3,109.4L74.6,109.6L74.8,109.7L75.3,109.8L75.6,109.7L76.0,109.4L76.2,109.2L76.5,108.9L76.8,108.7L77.3,108.8L77.6,109.0L77.8,109.3L78.1,109.7L78.2,109.9L78.4,110.2L78.6,110.6L78.8,110.9L79.0,111.2L79.2,111.4L79.3,111.7L79.6,112.0L79.8,112.4L80.0,112.7L80.2,112.9L80.3,113.2L80.6,113.5L80.8,113.9L80.9,114.2L81.1,114.6L81.2,114.9L81.2,115.4L81.2,115.9L81.1,116.4L81.1,116.7L80.9,117.2L80.7,117.4L80.6,117.7L80.3,118.0L80.1,118.4L80.0,118.7L79.8,118.9L79.6,119.3L79.5,119.7L79.3,119.9L79.2,120.4L79.1,120.7L78.8,121.1L78.6,121.4L78.3,121.6L78.1,121.9L77.8,122.1L77.6,122.3L77.4,122.7L77.3,122.9L77.3,123.4L77.4,123.7L77.5,124.2L77.6,124.4L77.7,124.9L77.6,125.3L77.5,125.7L77.8,125.9L78.1,125.9L78.6,126.1L78.8,126.2L79.1,126.4L79.6,126.6L79.8,126.7L80.2,126.9L80.6,127.2L80.8,127.4L80.9,127.7L81.1,128.0L81.3,128.4L81.4,128.7L81.6,129.0L81.8,129.3L82.1,129.6L82.3,129.9L82.6,130.1L82.8,130.4L83.1,130.7L83.3,130.9L83.5,131.2L83.6,131.4L83.8,131.9L83.9,132.2L84.0,132.7L84.1,133.2L84.0,133.7L83.9,134.2L83.8,134.4L83.6,134.9L83.5,135.2L83.3,135.4L83.1,135.7L82.8,136.0L82.6,136.3L82.3,136.5L82.1,136.7L81.8,136.9L81.6,137.2L81.2,137.4L80.8,137.6L80.6,137.7L80.3,137.9L79.8,138.1L79.6,138.2L79.1,138.4L78.8,138.5L78.3,138.6L78.1,138.7L77.6,138.8L77.1,138.9L76.8,138.9ZM93.1,115.4L92.6,115.5L92.1,115.5L91.6,115.5L91.1,115.5L90.6,115.5L90.1,115.4L89.7,115.4L89.3,115.3L88.8,115.2L88.5,115.2L88.1,115.0L87.7,114.9L87.3,114.8L87.1,114.6L86.6,114.4L86.3,114.2L86.1,114.0L85.8,113.8L85.6,113.5L85.4,113.2L85.3,112.9L85.3,112.4L85.3,112.1L85.6,111.7L85.8,111.4L86.0,111.2L86.3,110.9L86.6,110.7L86.8,110.5L87.1,110.4L87.6,110.2L87.8,110.1L88.3,109.9L88.6,109.8L89.1,109.7L89.5,109.7L89.8,109.6L90.3,109.5L90.8,109.5L91.3,109.5L91.8,109.5L92.3,109.5L92.8,109.5L93.3,109.6L93.6,109.7L94.1,109.8L94.6,109.9L94.8,110.0L95.3,110.2L95.6,110.3L95.9,110.4L96.3,110.7L96.6,110.9L96.8,111.1L97.1,111.4L97.3,111.7L97.4,111.9L97.5,112.4L97.5,112.9L97.3,113.3L97.1,113.6L96.9,113.9L96.6,114.1L96.3,114.3L96.1,114.5L95.8,114.7L95.3,114.8L95.1,114.9L94.6,115.1L94.3,115.2L93.8,115.3L93.3,115.4L93.1,115.4ZM83.6,124.2L83.1,124.4L82.6,124.3L82.2,124.2L81.9,123.9L81.8,123.7L81.8,123.2L81.8,122.9L82.1,122.5L82.3,122.3L82.6,122.1L82.9,121.9L82.9,121.4L82.8,121.2L82.6,120.7L82.6,120.4L82.6,120.1L82.7,119.7L82.9,119.4L83.3,119.2L83.8,119.3L84.1,119.6L84.2,119.9L84.3,120.4L84.2,120.9L84.1,121.3L84.0,121.7L84.1,122.1L84.3,122.4L84.4,122.7L84.4,123.2L84.3,123.5L84.1,123.8L83.8,124.0L83.6,124.2ZM80.8,125.4L80.3,125.5L80.3,125.2L80.5,124.9L80.8,124.8L81.0,125.2L80.8,125.4Z" fill="none" fill-rule="evenodd" stroke="#999" stroke-width="0.45"/>
<path d="M76.8,121.4L76.3,121.5L75.9,121.4L75.6,121.3L75.1,121.3L74.6,121.3L74.1,121.3L73.6,121.3L73.1,121.3L72.6,121.3L72.1,121.2L71.8,121.2L71.3,121.0L71.1,120.8L70.8,120.7L70.5,120.4L70.2,120.2L70.0,119.9L69.7,119.7L69.5,119.4L69.3,119.2L69.1,118.9L68.8,118.6L68.6,118.4L68.3,118.2L67.8,118.1L67.6,118.3L67.3,118.5L67.1,118.7L66.8,118.9L66.5,119.2L66.1,119.3L65.8,119.2L65.6,118.9L65.3,118.5L65.2,118.2L65.2,117.7L65.2,117.2L65.3,116.7L65.4,116.4L65.3,116.2L65.1,115.7L65.1,115.4L65.1,115.1L65.3,114.7L65.6,114.5L65.8,114.4L66.3,114.4L66.6,114.5L67.0,114.4L67.3,114.3L67.6,114.1L67.9,113.9L68.2,113.7L68.5,113.4L68.7,113.2L68.9,112.9L69.1,112.7L69.4,112.4L69.7,112.2L70.0,111.9L70.2,111.7L70.4,111.4L70.6,111.2L70.9,110.9L71.1,110.7L71.4,110.4L71.8,110.2L72.1,110.0L72.6,109.9L73.1,110.0L73.3,110.2L73.6,110.4L73.9,110.7L74.1,110.9L74.3,111.2L74.7,111.4L75.1,111.5L75.6,111.5L75.8,111.4L76.1,111.0L76.3,110.7L76.6,110.4L76.8,110.2L77.3,110.3L77.6,110.6L77.7,110.9L77.8,111.4L77.9,111.7L77.9,112.2L78.1,112.7L78.2,112.9L78.3,113.4L78.5,113.7L78.6,114.1L78.7,114.4L78.8,114.7L79.0,115.2L79.1,115.7L79.1,116.2L79.0,116.7L78.9,117.2L78.8,117.4L78.6,117.9L78.6,118.2L78.5,118.7L78.5,119.2L78.5,119.7L78.4,120.2L78.3,120.4L78.1,120.7L77.8,121.0L77.5,121.2L77.1,121.4L76.8,121.4ZM91.8,114.9L91.3,114.9L90.9,114.9L90.6,114.9L90.1,114.8L89.6,114.7L89.3,114.7L88.8,114.5L88.5,114.4L88.1,114.2L87.8,114.1L87.5,113.9L87.2,113.7L86.9,113.4L86.8,113.2L86.6,112.7L86.7,112.2L86.8,111.8L87.1,111.5L87.3,111.3L87.6,111.1L87.9,110.9L88.3,110.7L88.6,110.6L89.1,110.4L89.3,110.3L89.8,110.2L90.3,110.2L90.6,110.1L91.1,110.1L91.6,110.1L92.1,110.1L92.6,110.1L92.8,110.2L93.3,110.3L93.8,110.4L94.1,110.5L94.6,110.7L94.8,110.8L95.1,110.9L95.4,111.2L95.7,111.4L95.9,111.7L96.1,112.2L96.1,112.4L96.1,112.7L96.0,113.2L95.8,113.4L95.6,113.7L95.3,113.9L95.0,114.2L94.6,114.3L94.3,114.4L93.8,114.6L93.6,114.7L93.1,114.8L92.6,114.8L92.1,114.9L91.8,114.9ZM92.7,112.7L92.9,112.4L92.6,112.4L92.1,112.4L92.1,112.7L92.3,112.7L92.7,112.7ZM83.3,123.4L82.8,123.6L82.6,123.4L82.6,123.1L82.8,122.8L83.3,122.9L83.5,123.2L83.3,123.4Z" fill="none" fill-rule="evenodd" stroke="#777" stroke-width="0.5"/>
<path d="M74.1,119.4L73.6,119.5L73.1,119.5L72.8,119.4L72.3,119.2L72.1,119.0L71.8,118.8L71.6,118.6L71.3,118.4L71.1,118.2L70.7,117.9L70.4,117.7L70.1,117.4L69.8,117.2L69.7,116.9L69.6,116.7L69.4,116.2L69.2,115.9L69.0,115.7L68.8,115.2L68.8,115.0L69.0,114.7L69.3,114.5L69.8,114.6L70.1,114.7L70.5,114.7L70.7,114.4L70.8,113.9L70.9,113.7L71.0,113.2L71.2,112.9L71.3,112.6L71.6,112.3L71.8,112.1L72.3,112.0L72.7,112.2L73.1,112.4L73.3,112.7L73.5,112.9L73.6,113.2L73.8,113.7L73.8,114.2L73.8,114.7L73.8,114.9L74.1,115.2L74.3,115.4L74.8,115.6L75.1,115.8L75.3,116.0L75.6,116.2L75.8,116.6L76.0,116.9L76.1,117.4L76.0,117.9L75.8,118.3L75.6,118.7L75.3,118.9L75.1,119.0L74.8,119.2L74.3,119.4L74.1,119.4Z" fill="rgba(0,0,0,0.06)" fill-rule="evenodd" stroke="#444" stroke-width="0.6"/>
<ellipse cx="75.6" cy="133.6" rx="11.700000000000001" ry="7.5" fill="#d8d8d8" stroke="#999" stroke-width="0.5" transform="rotate(-4 75.6 133.6)"/>
<ellipse cx="75.6" cy="133.6" rx="10.8" ry="6.6" fill="#a6a6a6" stroke="#262626" stroke-width="1.5" transform="rotate(-4 75.6 133.6)"/>
<ellipse cx="75.6" cy="133.6" rx="8.8" ry="5.1" fill="none" stroke="#777" stroke-width="0.6" transform="rotate(-4 75.6 133.6)"/>
<ellipse cx="76.19999999999999" cy="134.0" rx="5.940000000000001" ry="3.8279999999999994" fill="#8a8a8a" stroke="#555" stroke-width="0.7" transform="rotate(-4 75.6 133.6)"/>
<ellipse cx="76" cy="133" rx="2.8" ry="1.1" fill="#f2f2f2" transform="rotate(-5 76 133)"/>
<ellipse cx="73.5" cy="135.5" rx="1.8" ry="1.1" fill="#1a1a1a"/>
<rect x="84.6" y="106.9" width="17.3" height="10.4" fill="none" stroke="#111" stroke-width="1.1" />
<line x1="101.9" y1="112.2" x2="127" y2="112.2" stroke="#000" stroke-width="1.4" />
<path d="M125,110.0 L130,112.2 L125,114.4 Z" fill="#000"/>
<path d="M174.5,69.1L174.0,69.1L173.8,69.0L173.5,68.7L173.4,68.3L173.3,67.8L173.3,67.3L173.3,66.8L173.3,66.3L173.2,66.0L173.2,65.5L173.1,65.0L173.0,64.8L172.8,64.4L172.5,64.1L172.2,63.9L172.0,63.7L171.6,63.5L171.2,63.5L170.8,63.5L170.2,63.5L169.8,63.4L169.5,63.3L169.2,63.0L168.9,62.8L168.7,62.5L168.5,62.0L168.5,61.8L168.5,61.5L168.7,61.0L168.9,60.8L169.1,60.5L169.1,60.0L169.0,59.6L168.9,59.3L168.7,59.0L168.5,58.5L168.4,58.3L168.2,57.9L168.1,57.5L168.0,57.3L167.9,56.8L167.8,56.4L167.7,56.0L167.6,55.5L167.6,55.0L167.6,54.5L167.7,54.0L167.7,53.5L167.8,53.3L167.8,52.8L167.9,52.3L168.0,52.0L168.1,51.5L168.2,51.2L168.4,50.8L168.5,50.5L168.7,50.0L168.8,49.8L169.0,49.3L169.1,49.0L169.2,48.7L169.4,48.3L169.4,47.8L169.5,47.3L169.5,47.0L169.5,46.5L169.6,46.0L169.8,45.7L169.9,45.3L170.1,45.0L170.2,44.7L170.4,44.3L170.5,44.0L170.6,43.5L170.8,43.2L171.0,42.8L171.2,42.6L171.5,42.4L172.0,42.4L172.3,42.5L172.7,42.8L173.0,43.0L173.2,43.3L173.5,43.5L173.8,43.7L174.2,43.8L174.8,43.6L175.0,43.5L175.5,43.3L175.8,43.2L176.2,43.0L176.5,42.9L176.8,42.8L177.2,42.6L177.5,42.5L178.0,42.4L178.3,42.3L178.8,42.2L179.2,42.0L179.5,42.0L180.0,41.9L180.5,41.8L180.8,41.7L181.2,41.7L181.8,41.6L182.2,41.6L182.5,41.5L183.0,41.5L183.5,41.5L184.0,41.4L184.5,41.4L185.0,41.4L185.5,41.4L186.0,41.4L186.5,41.5L187.0,41.5L187.5,41.5L187.8,41.6L188.2,41.6L188.8,41.7L189.2,41.7L189.8,41.8L190.0,41.8L190.5,41.9L191.0,41.9L191.5,42.0L191.8,42.1L192.2,42.2L192.8,42.3L193.0,42.3L193.5,42.4L194.0,42.5L194.2,42.6L194.8,42.6L195.1,42.5L195.5,42.5L196.0,42.3L196.2,42.2L196.5,42.0L197.0,41.8L197.2,41.7L197.7,41.5L198.0,41.5L198.5,41.5L198.8,41.6L199.0,42.0L199.0,42.5L199.0,43.0L198.9,43.5L199.0,44.0L199.0,44.3L199.2,44.8L199.5,45.0L199.8,45.3L200.0,45.5L200.2,45.7L200.4,46.0L200.3,46.5L200.2,46.8L199.9,47.0L199.5,47.3L199.2,47.5L199.0,47.8L198.9,48.0L199.0,48.5L199.1,48.8L199.2,49.2L199.4,49.5L199.5,49.8L199.8,50.2L199.9,50.5L200.0,50.9L200.2,51.3L200.2,51.6L200.4,52.0L200.5,52.5L200.5,52.8L200.6,53.3L200.7,53.8L200.7,54.3L200.7,54.8L200.7,55.3L200.6,55.8L200.5,56.3L200.5,56.5L200.4,57.0L200.2,57.4L200.1,57.8L200.0,58.2L199.9,58.5L199.7,58.8L199.5,59.3L199.4,59.5L199.2,60.0L199.1,60.3L199.0,60.5L198.8,61.0L198.6,61.3L198.4,61.5L198.2,61.8L198.0,62.1L197.8,62.4L197.5,62.6L197.2,62.8L197.0,63.0L196.7,63.3L196.3,63.5L196.1,63.8L195.8,64.0L195.6,64.3L195.4,64.5L195.2,64.8L194.9,65.0L194.5,65.3L194.2,65.4L193.9,65.5L193.5,65.7L193.0,65.8L192.8,65.8L192.2,65.9L191.8,66.0L191.5,66.1L191.0,66.2L190.8,66.3L190.2,66.5L190.0,66.5L189.5,66.7L189.1,66.8L188.8,66.9L188.2,67.0L187.9,67.0L187.5,67.1L187.0,67.2L186.5,67.3L186.2,67.3L185.8,67.3L185.2,67.4L184.8,67.4L184.2,67.4L183.8,67.4L183.2,67.4L182.8,67.4L182.2,67.3L182.0,67.3L181.5,67.2L181.0,67.2L180.5,67.1L180.1,67.0L179.8,67.0L179.2,67.0L178.9,67.0L178.5,67.1L178.1,67.3L177.8,67.5L177.5,67.6L177.1,67.8L176.8,68.0L176.5,68.2L176.2,68.3L175.8,68.5L175.5,68.7L175.2,68.8L174.8,69.0L174.5,69.1Z" fill="rgba(0,0,0,0.05)" fill-rule="evenodd" stroke="#bbb" stroke-width="0.4"/>
<path d="M176.0,67.6L175.5,67.8L175.0,67.8L174.6,67.5L174.4,67.3L174.3,66.8L174.4,66.3L174.4,65.8L174.5,65.3L174.4,64.8L174.3,64.3L174.1,64.0L173.9,63.8L173.6,63.5L173.4,63.3L173.1,63.0L172.9,62.8L172.7,62.5L172.4,62.3L172.2,62.0L172.0,61.8L171.8,61.5L171.5,61.1L171.3,60.8L171.1,60.5L171.0,60.3L170.8,59.9L170.6,59.5L170.4,59.3L170.2,59.0L170.0,58.6L169.8,58.3L169.7,58.0L169.5,57.7L169.3,57.3L169.2,57.0L169.0,56.6L168.9,56.3L168.9,55.8L168.9,55.3L169.0,54.8L169.1,54.5L169.2,54.0L169.2,53.8L169.3,53.3L169.4,52.8L169.5,52.4L169.6,52.0L169.7,51.5L169.8,51.3L170.0,50.9L170.1,50.5L170.2,50.3L170.5,49.8L170.6,49.5L170.8,49.2L170.9,48.8L171.0,48.5L171.2,48.0L171.3,47.8L171.5,47.3L171.6,47.0L171.8,46.8L172.0,46.5L172.2,46.3L172.6,46.0L173.0,45.8L173.2,45.7L173.7,45.5L174.0,45.4L174.2,45.3L174.6,45.0L175.0,44.8L175.2,44.7L175.5,44.5L175.9,44.3L176.2,44.1L176.5,44.0L176.8,43.8L177.2,43.6L177.5,43.5L178.0,43.3L178.2,43.2L178.8,43.1L179.0,43.0L179.5,42.8L179.8,42.8L180.2,42.7L180.8,42.6L181.0,42.5L181.5,42.4L182.0,42.4L182.4,42.3L182.8,42.3L183.2,42.2L183.8,42.2L184.2,42.1L184.8,42.1L185.2,42.1L185.8,42.1L186.2,42.1L186.8,42.1L187.2,42.1L187.8,42.1L188.2,42.2L188.8,42.2L189.2,42.2L189.8,42.3L190.0,42.3L190.5,42.4L191.0,42.4L191.5,42.5L191.8,42.6L192.2,42.6L192.8,42.7L193.0,42.8L193.5,42.9L194.0,43.0L194.3,43.0L194.8,43.1L195.2,43.1L195.5,43.0L196.0,42.9L196.5,42.8L196.8,42.8L197.2,42.7L197.6,42.8L197.9,43.0L198.0,43.3L198.1,43.8L198.2,44.3L198.2,44.6L198.3,45.0L198.4,45.5L198.4,46.0L198.3,46.5L198.1,46.8L198.0,47.1L197.8,47.5L197.7,47.8L197.6,48.3L197.8,48.7L197.9,49.0L198.1,49.3L198.2,49.6L198.5,50.0L198.6,50.3L198.8,50.6L198.9,51.0L199.0,51.3L199.2,51.8L199.3,52.0L199.4,52.5L199.5,53.0L199.5,53.3L199.6,53.8L199.6,54.3L199.6,54.8L199.6,55.3L199.5,55.8L199.5,56.0L199.4,56.5L199.3,57.0L199.2,57.3L199.0,57.8L198.9,58.0L198.8,58.5L198.7,58.8L198.6,59.3L198.5,59.6L198.4,60.0L198.2,60.4L198.1,60.8L198.0,61.0L197.8,61.4L197.5,61.7L197.2,62.0L197.0,62.3L196.8,62.5L196.5,62.7L196.2,62.9L196.0,63.0L195.6,63.3L195.2,63.5L195.0,63.8L194.8,64.0L194.5,64.2L194.2,64.4L194.0,64.6L193.5,64.8L193.2,64.9L192.8,64.9L192.2,64.9L191.8,65.0L191.3,65.0L191.0,65.1L190.5,65.3L190.2,65.4L189.8,65.5L189.5,65.6L189.0,65.7L188.5,65.8L188.2,65.9L187.8,66.0L187.2,66.0L187.0,66.1L186.5,66.1L186.0,66.2L185.5,66.2L185.0,66.2L184.5,66.2L184.0,66.2L183.5,66.2L183.0,66.2L182.5,66.2L182.0,66.1L181.6,66.0L181.2,66.0L180.8,66.0L180.2,65.9L179.8,66.0L179.4,66.0L179.0,66.2L178.7,66.3L178.2,66.5L178.0,66.6L177.7,66.8L177.2,67.0L177.0,67.2L176.7,67.3L176.2,67.5L176.0,67.6Z" fill="rgba(0,0,0,0.05)" fill-rule="evenodd" stroke="#aaa" stroke-width="0.4"/>
<path d="M176.8,66.6L176.2,66.7L175.8,66.6L175.5,66.4L175.4,66.0L175.4,65.5L175.4,65.0L175.4,64.5L175.3,64.0L175.2,63.8L175.0,63.4L174.8,63.1L174.5,62.9L174.2,62.6L174.0,62.3L173.8,62.1L173.5,61.8L173.3,61.5L173.1,61.3L172.9,61.0L172.7,60.8L172.5,60.5L172.2,60.1L172.1,59.8L171.9,59.5L171.8,59.2L171.5,58.8L171.3,58.5L171.2,58.3L171.0,58.0L170.8,57.7L170.5,57.3L170.4,57.0L170.2,56.8L170.2,56.3L170.2,55.8L170.3,55.5L170.5,55.1L170.6,54.8L170.7,54.3L170.8,54.0L170.9,53.5L171.0,53.0L171.1,52.8L171.2,52.3L171.3,52.0L171.4,51.5L171.5,51.3L171.7,50.8L171.8,50.5L172.0,50.2L172.2,49.8L172.4,49.5L172.5,49.3L172.8,48.9L173.0,48.6L173.2,48.3L173.5,48.0L173.7,47.8L174.0,47.5L174.2,47.3L174.5,47.1L174.8,46.8L175.0,46.6L175.2,46.4L175.5,46.1L175.8,45.8L176.0,45.6L176.2,45.3L176.5,45.1L176.8,44.9L177.0,44.7L177.3,44.5L177.7,44.3L178.0,44.1L178.2,44.0L178.8,43.8L179.0,43.7L179.5,43.5L179.8,43.4L180.2,43.3L180.5,43.2L181.0,43.1L181.3,43.0L181.8,43.0L182.2,42.9L182.7,42.8L183.0,42.8L183.5,42.7L184.0,42.6L184.5,42.6L185.0,42.6L185.5,42.6L185.8,42.5L186.2,42.5L186.8,42.5L187.2,42.5L187.5,42.5L188.0,42.6L188.5,42.6L189.0,42.6L189.5,42.7L190.0,42.7L190.5,42.8L190.8,42.8L191.2,42.9L191.8,43.0L192.1,43.0L192.5,43.1L193.0,43.2L193.3,43.3L193.8,43.4L194.2,43.5L194.8,43.5L195.2,43.5L195.8,43.5L196.2,43.5L196.7,43.5L197.0,43.7L197.2,43.9L197.4,44.3L197.5,44.5L197.6,45.0L197.6,45.5L197.5,46.0L197.5,46.3L197.2,46.8L197.1,47.0L197.0,47.3L196.8,47.8L196.7,48.0L196.7,48.5L196.8,48.9L197.0,49.3L197.1,49.5L197.3,49.8L197.5,50.2L197.7,50.5L197.8,50.8L198.0,51.2L198.1,51.5L198.2,51.9L198.4,52.3L198.5,52.8L198.5,53.0L198.6,53.5L198.6,54.0L198.7,54.5L198.6,55.0L198.6,55.5L198.5,56.0L198.5,56.3L198.3,56.8L198.2,57.1L198.1,57.5L198.0,58.0L198.0,58.3L197.9,58.8L197.9,59.3L197.8,59.8L197.8,60.1L197.6,60.5L197.5,60.8L197.2,61.2L197.0,61.5L196.8,61.8L196.5,62.0L196.2,62.3L196.0,62.5L195.8,62.7L195.5,62.8L195.1,63.0L194.8,63.2L194.5,63.4L194.2,63.5L193.8,63.8L193.5,63.9L193.0,64.0L192.8,64.1L192.2,64.1L191.8,64.1L191.2,64.2L190.8,64.3L190.5,64.3L190.0,64.4L189.6,64.5L189.2,64.6L188.8,64.7L188.5,64.8L188.0,64.9L187.5,65.0L187.0,65.0L186.8,65.1L186.2,65.1L185.8,65.1L185.2,65.1L184.8,65.1L184.2,65.1L183.8,65.1L183.4,65.0L183.0,65.0L182.5,65.0L182.0,64.9L181.5,64.8L181.0,64.8L180.5,64.9L180.0,65.0L179.8,65.2L179.4,65.3L179.0,65.5L178.8,65.6L178.4,65.8L178.0,66.0L177.8,66.1L177.4,66.3L177.0,66.5L176.8,66.6Z" fill="rgba(0,0,0,0.06)" fill-rule="evenodd" stroke="#999" stroke-width="0.4"/>
<path d="M177.5,65.6L177.0,65.7L176.5,65.5L176.3,65.3L176.2,65.0L176.2,64.5L176.2,64.0L176.2,63.5L176.1,63.0L176.0,62.7L175.8,62.3L175.6,62.0L175.3,61.8L175.1,61.5L174.8,61.3L174.6,61.0L174.4,60.8L174.2,60.5L174.0,60.3L173.8,60.0L173.5,59.6L173.3,59.3L173.2,59.0L173.0,58.8L172.8,58.3L172.6,58.0L172.5,57.8L172.2,57.3L172.2,57.0L172.1,56.5L172.1,56.0L172.1,55.5L172.1,55.0L172.1,54.5L172.2,54.0L172.3,53.8L172.5,53.3L172.5,53.0L172.7,52.5L172.8,52.3L172.9,51.8L173.0,51.5L173.2,51.0L173.3,50.8L173.5,50.3L173.6,50.0L173.8,49.8L174.0,49.4L174.2,49.0L174.5,48.8L174.7,48.5L175.0,48.3L175.2,48.1L175.5,47.9L175.8,47.7L176.0,47.5L176.2,47.3L176.5,47.0L176.8,46.8L177.0,46.5L177.2,46.2L177.5,45.8L177.7,45.5L177.9,45.3L178.1,45.0L178.5,44.8L178.8,44.6L179.0,44.5L179.3,44.3L179.8,44.1L180.0,44.0L180.5,43.8L180.8,43.7L181.2,43.6L181.5,43.5L182.0,43.4L182.5,43.3L182.8,43.3L183.2,43.2L183.8,43.1L184.2,43.1L184.5,43.0L185.0,43.0L185.5,43.0L186.0,42.9L186.5,42.9L187.0,42.9L187.5,42.9L188.0,42.9L188.5,43.0L189.0,43.0L189.5,43.0L189.8,43.1L190.2,43.1L190.8,43.2L191.2,43.3L191.5,43.3L192.0,43.4L192.5,43.5L192.8,43.6L193.2,43.7L193.5,43.8L194.0,43.9L194.5,44.0L195.0,44.0L195.4,44.0L195.8,44.1L196.2,44.2L196.5,44.4L196.8,44.7L196.9,45.0L196.9,45.5L196.9,46.0L196.8,46.3L196.5,46.8L196.4,47.0L196.2,47.3L196.0,47.8L195.9,48.0L195.8,48.5L195.8,49.0L196.0,49.5L196.2,49.8L196.3,50.0L196.5,50.3L196.8,50.8L196.9,51.0L197.0,51.3L197.2,51.8L197.3,52.0L197.4,52.5L197.5,52.8L197.6,53.3L197.7,53.8L197.7,54.3L197.7,54.8L197.7,55.3L197.6,55.8L197.5,56.3L197.4,56.5L197.3,57.0L197.2,57.4L197.2,57.8L197.2,58.3L197.2,58.8L197.3,59.0L197.2,59.4L197.2,59.8L197.1,60.3L197.0,60.6L196.8,61.0L196.6,61.3L196.4,61.5L196.1,61.8L195.8,62.0L195.5,62.3L195.2,62.5L195.0,62.6L194.6,62.8L194.2,63.0L194.0,63.1L193.5,63.2L193.2,63.3L192.8,63.4L192.2,63.5L191.8,63.5L191.2,63.5L190.8,63.5L190.5,63.5L190.0,63.6L189.5,63.7L189.0,63.7L188.7,63.8L188.2,63.9L187.8,63.9L187.2,64.0L186.8,64.0L186.5,64.1L186.0,64.1L185.5,64.1L185.0,64.1L184.7,64.0L184.2,64.0L183.8,64.0L183.2,63.9L182.8,63.8L182.5,63.8L182.0,63.8L181.5,63.8L181.2,63.8L180.8,64.0L180.5,64.1L180.1,64.3L179.8,64.5L179.5,64.6L179.2,64.8L178.8,65.0L178.5,65.2L178.2,65.3L177.8,65.5L177.5,65.6Z" fill="rgba(0,0,0,0.07)" fill-rule="evenodd" stroke="#888" stroke-width="0.4"/>
<path d="M178.2,64.6L177.8,64.7L177.3,64.5L177.1,64.3L177.0,63.8L177.1,63.3L177.1,62.8L177.2,62.3L177.2,62.0L177.3,61.5L177.2,61.1L177.1,60.8L176.9,60.5L176.6,60.3L176.3,60.0L176.0,59.8L175.8,59.5L175.6,59.3L175.4,59.0L175.2,58.8L175.0,58.5L174.8,58.1L174.6,57.8L174.5,57.5L174.3,57.0L174.2,56.8L174.1,56.3L174.0,55.8L174.0,55.5L173.9,55.0L173.9,54.5L173.9,54.0L174.0,53.8L174.2,53.3L174.2,53.0L174.4,52.5L174.5,52.0L174.5,51.7L174.5,51.3L174.6,50.8L174.7,50.3L174.8,50.0L175.0,49.7L175.2,49.4L175.5,49.1L175.8,48.9L176.0,48.7L176.2,48.5L176.5,48.3L176.9,48.0L177.2,47.8L177.5,47.7L177.8,47.5L178.0,47.3L178.3,47.0L178.5,46.7L178.7,46.3L178.8,46.0L179.0,45.7L179.2,45.3L179.5,45.1L179.8,44.9L180.0,44.7L180.3,44.5L180.8,44.4L181.0,44.3L181.5,44.1L181.8,44.0L182.2,43.9L182.5,43.8L183.0,43.7L183.5,43.6L183.8,43.5L184.2,43.5L184.8,43.4L185.2,43.4L185.8,43.3L186.2,43.3L186.8,43.3L187.2,43.3L187.8,43.3L188.2,43.3L188.8,43.4L189.2,43.4L189.8,43.5L190.2,43.5L190.5,43.6L191.0,43.6L191.5,43.8L191.8,43.8L192.2,43.9L192.7,44.0L193.0,44.2L193.5,44.3L193.8,44.4L194.2,44.5L194.7,44.5L195.0,44.6L195.5,44.7L195.8,44.8L196.0,45.0L196.2,45.5L196.2,46.0L196.0,46.5L195.9,46.8L195.8,47.1L195.5,47.5L195.4,47.8L195.2,48.1L195.1,48.5L195.0,49.0L195.0,49.5L195.2,50.0L195.3,50.3L195.5,50.6L195.7,51.0L195.9,51.3L196.0,51.6L196.2,52.0L196.3,52.3L196.4,52.8L196.5,53.2L196.6,53.5L196.6,54.0L196.6,54.5L196.6,55.0L196.6,55.5L196.5,56.0L196.5,56.3L196.4,56.8L196.4,57.3L196.4,57.8L196.5,58.3L196.5,58.5L196.6,59.0L196.7,59.5L196.6,60.0L196.5,60.4L196.3,60.8L196.2,61.0L196.0,61.3L195.7,61.5L195.4,61.8L195.1,62.0L194.8,62.2L194.5,62.4L194.0,62.5L193.8,62.7L193.2,62.8L193.0,62.9L192.5,62.9L192.0,63.0L191.5,63.0L191.0,63.0L190.5,63.0L190.0,62.9L189.5,62.9L189.0,62.9L188.5,62.9L188.0,63.0L187.5,63.0L187.0,63.0L186.5,63.0L186.2,63.1L185.8,63.1L185.5,63.0L185.0,63.0L184.5,63.0L184.0,62.9L183.5,62.9L183.0,62.8L182.8,62.8L182.4,62.8L182.0,62.9L181.5,63.0L181.2,63.1L180.8,63.3L180.5,63.4L180.2,63.6L179.8,63.8L179.5,64.0L179.2,64.1L178.9,64.3L178.5,64.5L178.2,64.6Z" fill="rgba(0,0,0,0.08)" fill-rule="evenodd" stroke="#777" stroke-width="0.4"/>
<path d="M178.8,63.6L178.2,63.6L178.0,63.3L178.0,63.0L178.0,62.5L178.0,62.3L178.2,61.8L178.2,61.5L178.4,61.0L178.4,60.5L178.5,60.0L178.3,59.5L178.2,59.3L177.9,59.0L177.7,58.8L177.4,58.5L177.2,58.3L177.0,58.0L176.8,57.7L176.5,57.3L176.4,57.0L176.2,56.6L176.2,56.3L176.1,55.8L176.0,55.5L175.9,55.0L175.9,54.5L176.0,54.0L176.0,53.7L176.1,53.3L176.1,52.8L176.1,52.3L176.0,51.8L176.0,51.5L175.9,51.0L176.0,50.5L176.0,50.3L176.2,49.9L176.5,49.6L176.8,49.4L177.0,49.2L177.2,49.0L177.7,48.8L178.0,48.6L178.2,48.5L178.6,48.3L179.0,48.0L179.2,47.9L179.5,47.7L179.8,47.4L179.9,47.0L180.0,46.7L180.0,46.3L180.2,45.8L180.4,45.5L180.6,45.3L180.9,45.0L181.2,44.8L181.5,44.7L181.8,44.5L182.2,44.4L182.5,44.3L183.0,44.2L183.5,44.0L183.8,44.0L184.2,43.9L184.8,43.8L185.1,43.8L185.5,43.8L186.0,43.7L186.5,43.7L187.0,43.7L187.5,43.7L188.0,43.7L188.5,43.7L189.0,43.8L189.3,43.8L189.8,43.9L190.2,43.9L190.8,44.0L191.0,44.1L191.5,44.2L191.8,44.3L192.2,44.4L192.6,44.5L193.0,44.7L193.2,44.8L193.8,45.0L194.1,45.0L194.5,45.2L195.0,45.3L195.2,45.5L195.4,45.8L195.4,46.3L195.3,46.8L195.2,47.0L195.0,47.4L194.8,47.8L194.7,48.0L194.5,48.5L194.4,48.8L194.3,49.3L194.3,49.8L194.3,50.3L194.4,50.8L194.5,51.1L194.7,51.5L194.8,51.8L195.0,52.2L195.1,52.5L195.2,53.0L195.3,53.3L195.4,53.8L195.5,54.3L195.5,54.5L195.5,55.0L195.5,55.5L195.5,55.8L195.4,56.3L195.4,56.8L195.4,57.3L195.5,57.5L195.7,58.0L195.8,58.3L195.9,58.8L196.0,59.0L196.1,59.5L196.0,60.0L195.9,60.3L195.8,60.7L195.5,61.0L195.2,61.3L195.0,61.5L194.8,61.7L194.5,61.8L194.1,62.0L193.8,62.2L193.4,62.3L193.0,62.4L192.5,62.5L192.0,62.5L191.5,62.5L191.0,62.5L190.5,62.4L190.0,62.4L189.5,62.3L189.2,62.3L188.8,62.2L188.2,62.1L187.9,62.0L187.5,62.0L187.0,62.0L186.5,62.0L186.0,62.0L185.5,62.0L185.0,61.9L184.5,61.9L184.0,61.9L183.5,61.9L183.0,61.9L182.5,62.0L182.2,62.0L181.8,62.2L181.5,62.3L181.0,62.5L180.8,62.7L180.5,62.8L180.1,63.0L179.8,63.2L179.5,63.3L179.0,63.5L178.8,63.6Z" fill="rgba(0,0,0,0.09)" fill-rule="evenodd" stroke="#666" stroke-width="0.4"/>
<path d="M179.5,62.6L179.2,62.5L178.9,62.3L178.9,61.8L179.0,61.3L179.0,61.0L179.2,60.5L179.2,60.3L179.4,59.8L179.5,59.3L179.5,58.8L179.5,58.8L179.4,58.3L179.2,58.0L179.0,57.7L178.8,57.4L178.5,57.0L178.4,56.8L178.2,56.5L178.0,56.0L178.0,55.8L177.9,55.3L177.8,54.8L177.8,54.3L177.9,53.8L177.9,53.3L177.9,52.8L177.8,52.3L177.7,52.0L177.7,51.5L177.7,51.0L177.8,50.8L178.0,50.5L178.2,50.3L178.5,50.0L178.9,49.8L179.2,49.5L179.5,49.3L179.8,49.2L180.0,49.0L180.5,48.8L180.8,48.7L181.1,48.5L181.5,48.4L181.8,48.1L181.8,47.8L181.7,47.5L181.5,47.0L181.4,46.8L181.3,46.3L181.5,45.8L181.6,45.5L181.9,45.3L182.2,45.1L182.5,44.9L182.8,44.8L183.2,44.6L183.5,44.5L184.0,44.4L184.5,44.3L184.8,44.3L185.2,44.2L185.8,44.2L186.2,44.1L186.8,44.1L187.2,44.1L187.8,44.1L188.2,44.1L188.8,44.2L189.2,44.2L189.8,44.3L190.0,44.3L190.5,44.4L190.9,44.5L191.2,44.7L191.6,44.8L192.0,45.0L192.2,45.1L192.6,45.3L193.0,45.5L193.2,45.6L193.7,45.8L194.0,45.9L194.2,46.1L194.5,46.5L194.5,46.6L194.4,47.0L194.3,47.5L194.2,47.8L194.0,48.3L193.9,48.5L193.8,49.0L193.7,49.3L193.6,49.8L193.5,50.3L193.5,50.5L193.4,51.0L193.4,51.5L193.4,52.0L193.5,52.5L193.6,52.8L193.8,53.3L193.8,53.5L193.9,54.0L194.0,54.4L194.0,54.8L194.0,55.3L194.0,55.6L193.9,56.0L194.0,56.5L194.1,56.8L194.2,57.1L194.5,57.5L194.7,57.8L194.9,58.0L195.0,58.3L195.2,58.8L195.3,59.0L195.4,59.5L195.3,60.0L195.2,60.3L195.0,60.7L194.8,60.9L194.5,61.2L194.2,61.4L193.9,61.5L193.5,61.7L193.2,61.8L192.8,61.9L192.2,62.0L191.8,62.0L191.2,62.0L190.8,62.0L190.2,61.9L189.9,61.8L189.5,61.7L189.1,61.5L188.8,61.4L188.5,61.3L188.0,61.1L187.8,61.0L187.2,60.8L187.0,60.8L186.5,60.7L186.0,60.7L185.5,60.7L185.0,60.7L184.5,60.8L184.2,60.8L183.8,60.9L183.2,61.0L183.0,61.1L182.5,61.3L182.2,61.4L181.9,61.5L181.5,61.7L181.2,61.9L180.9,62.0L180.5,62.2L180.2,62.4L179.8,62.5L179.5,62.6Z" fill="rgba(0,0,0,0.1)" fill-rule="evenodd" stroke="#555" stroke-width="0.4"/>
<path d="M189.0,48.1L188.5,48.2L188.0,48.2L187.5,48.2L187.0,48.2L186.5,48.2L186.0,48.1L185.5,48.0L185.2,48.0L184.8,47.9L184.5,47.8L184.0,47.6L183.8,47.4L183.5,47.3L183.2,47.0L183.0,46.8L182.8,46.3L182.9,45.8L183.1,45.5L183.4,45.3L183.8,45.2L184.0,45.0L184.5,44.9L184.8,44.8L185.2,44.7L185.8,44.6L186.2,44.6L186.8,44.6L187.2,44.6L187.8,44.6L188.2,44.6L188.8,44.6L189.2,44.7L189.6,44.8L190.0,44.9L190.5,45.0L190.8,45.2L191.0,45.3L191.3,45.5L191.6,45.8L191.7,46.3L191.6,46.8L191.3,47.0L191.0,47.3L190.8,47.4L190.5,47.6L190.0,47.8L189.8,47.9L189.2,48.0L189.0,48.1ZM180.5,61.6L180.0,61.5L179.8,61.3L179.8,60.8L179.9,60.3L180.0,59.9L180.1,59.5L180.2,59.1L180.4,58.8L180.5,58.4L180.6,58.0L180.8,57.7L180.9,57.3L181.0,57.0L181.2,56.5L181.3,56.3L181.5,55.9L181.7,55.5L181.9,55.3L182.0,55.0L182.2,54.7L182.5,54.3L182.7,54.0L182.8,53.8L183.0,53.5L183.2,53.2L183.5,52.9L183.8,52.6L184.0,52.4L184.2,52.2L184.5,52.0L184.8,51.8L185.2,51.5L185.5,51.4L185.8,51.2L186.1,51.0L186.5,50.8L186.8,50.7L187.1,50.5L187.5,50.3L187.8,50.2L188.1,50.0L188.5,49.8L188.8,49.7L189.1,49.5L189.5,49.3L189.8,49.2L190.0,49.0L190.5,48.8L190.8,48.7L191.0,48.5L191.5,48.3L191.8,48.1L192.0,48.0L192.5,47.8L192.8,47.8L193.0,47.9L193.2,48.3L193.2,48.8L193.1,49.3L193.0,49.8L193.0,50.0L192.8,50.5L192.8,50.8L192.6,51.3L192.5,51.5L192.3,52.0L192.2,52.3L192.0,52.7L191.8,53.0L191.7,53.3L191.5,53.7L191.3,54.0L191.2,54.3L191.0,54.6L190.8,55.0L190.5,55.3L190.4,55.5L190.2,55.8L190.0,56.1L189.9,56.5L190.2,56.8L190.5,56.8L191.0,56.9L191.5,56.9L191.9,57.0L192.2,57.1L192.7,57.3L193.0,57.5L193.2,57.6L193.5,57.8L193.8,58.0L194.1,58.3L194.2,58.6L194.4,59.0L194.5,59.5L194.3,60.0L194.2,60.3L194.0,60.5L193.7,60.8L193.3,61.0L193.0,61.2L192.6,61.3L192.2,61.4L191.8,61.4L191.2,61.4L190.8,61.4L190.5,61.3L190.0,61.1L189.8,61.0L189.3,60.8L189.0,60.6L188.8,60.4L188.5,60.1L188.3,59.8L188.1,59.5L188.0,59.2L187.8,58.8L187.5,58.6L187.0,58.7L186.6,58.8L186.2,59.0L186.0,59.1L185.5,59.3L185.2,59.4L184.9,59.5L184.5,59.7L184.2,59.8L183.8,60.0L183.5,60.1L183.2,60.3L182.8,60.5L182.5,60.7L182.2,60.8L181.8,61.0L181.5,61.2L181.2,61.3L180.8,61.5L180.5,61.6Z" fill="rgba(0,0,0,0.12)" fill-rule="evenodd" stroke="#444" stroke-width="0.4"/>
<path d="M188.5,47.1L188.0,47.1L187.5,47.1L187.0,47.1L186.5,47.1L186.2,47.0L185.8,46.9L185.4,46.8L185.0,46.5L184.9,46.3L185.0,46.0L185.2,45.8L185.7,45.5L186.0,45.5L186.5,45.4L187.0,45.4L187.5,45.4L188.0,45.4L188.5,45.5L188.8,45.5L189.2,45.8L189.5,46.0L189.6,46.3L189.5,46.6L189.2,46.8L188.8,47.0L188.5,47.1ZM181.8,60.3L181.2,60.5L180.8,60.3L180.7,60.0L180.8,59.8L180.9,59.3L181.0,59.0L181.2,58.5L181.3,58.3L181.5,58.0L181.7,57.5L181.9,57.3L182.1,57.0L182.3,56.8L182.5,56.5L182.8,56.2L183.0,55.9L183.2,55.6L183.5,55.4L183.8,55.1L184.0,54.8L184.2,54.6L184.5,54.4L184.8,54.2L185.0,53.9L185.2,53.7L185.5,53.5L185.8,53.3L186.1,53.0L186.4,52.8L186.7,52.5L187.0,52.3L187.2,52.2L187.5,52.0L187.8,51.8L188.0,51.5L188.4,51.3L188.7,51.0L189.0,50.8L189.2,50.6L189.5,50.4L189.8,50.3L190.1,50.0L190.5,49.8L190.8,49.6L191.0,49.5L191.5,49.3L191.8,49.3L192.0,49.3L192.2,49.6L192.3,50.0L192.2,50.3L192.1,50.8L192.0,51.0L191.8,51.5L191.6,51.8L191.5,52.0L191.2,52.4L191.0,52.8L190.8,53.0L190.6,53.3L190.4,53.5L190.2,53.8L190.0,54.1L189.8,54.4L189.5,54.6L189.2,54.9L189.0,55.2L188.8,55.4L188.5,55.6L188.2,55.9L188.0,56.1L187.8,56.3L187.5,56.6L187.2,56.8L186.9,57.0L186.6,57.3L186.2,57.5L186.0,57.7L185.8,57.9L185.5,58.0L185.1,58.3L184.8,58.5L184.5,58.7L184.2,58.9L183.9,59.0L183.6,59.3L183.2,59.5L183.0,59.7L182.8,59.8L182.3,60.0L182.0,60.2L181.8,60.3ZM191.8,60.1L191.2,60.2L190.8,60.2L190.4,60.0L190.1,59.8L190.0,59.3L190.0,59.3L190.2,58.8L190.5,58.6L190.8,58.5L191.2,58.4L191.8,58.4L192.2,58.5L192.5,58.6L192.8,59.0L192.8,59.1L192.5,59.5L192.3,59.8L192.0,60.0L191.8,60.1Z" fill="rgba(0,0,0,0.14)" fill-rule="evenodd" stroke="#333" stroke-width="0.4"/>
<path d="M182.8,58.6L182.5,58.5L182.5,58.2L182.7,57.8L182.8,57.5L183.0,57.3L183.2,57.0L183.5,56.7L183.8,56.5L184.0,56.2L184.2,56.0L184.5,55.8L184.9,55.5L185.2,55.3L185.5,55.2L185.8,55.0L186.2,54.8L186.5,54.6L186.8,54.4L187.0,54.1L187.2,53.9L187.5,53.6L187.8,53.3L188.0,53.1L188.2,52.8L188.5,52.6L188.8,52.3L189.0,52.1L189.2,51.9L189.5,51.7L189.8,51.5L190.0,51.3L190.5,51.1L190.7,51.5L190.5,52.0L190.3,52.3L190.1,52.5L189.9,52.8L189.8,53.1L189.5,53.3L189.2,53.6L189.0,53.8L188.8,54.1L188.5,54.3L188.2,54.5L187.8,54.8L187.5,55.0L187.2,55.2L187.0,55.3L186.6,55.5L186.2,55.7L186.0,55.9L185.8,56.1L185.5,56.4L185.2,56.6L185.0,56.8L184.8,57.1L184.5,57.3L184.2,57.6L184.0,57.8L183.7,58.0L183.3,58.3L183.0,58.5L182.8,58.6Z" fill="rgba(0,0,0,0.16)" fill-rule="evenodd" stroke="#333" stroke-width="0.4"/>
<path d="M189.2,49.8 C186.5,49.6 184.8,51.8 186.8,53.4 C188.8,55 188.6,57.2 185.6,57.8" fill="none" stroke="#d8d8d8" stroke-width="1.2" stroke-linecap="round"/>
<rect x="175.3" y="47.5" width="21.4" height="16.6" fill="none" stroke="#111" stroke-width="1" />
<line x1="196.7" y1="57.3" x2="221" y2="57.3" stroke="#000" stroke-width="1.4" />
<path d="M219,55.099999999999994 L224,57.3 L219,59.5 Z" fill="#000"/>
<path d="M171.8,143.7L171.2,143.7L170.8,143.7L170.2,143.7L170.0,143.6L169.5,143.4L169.2,143.3L168.9,143.2L168.5,142.9L168.2,142.8L168.0,142.6L167.8,142.4L167.5,142.2L167.2,141.9L167.0,141.6L166.8,141.3L166.5,141.0L166.2,140.7L166.1,140.4L165.9,140.2L165.8,139.9L165.5,139.4L165.3,139.2L165.2,138.9L165.0,138.4L164.9,138.2L164.8,137.9L164.5,137.4L164.4,137.2L164.2,136.7L164.1,136.4L164.0,136.0L163.9,135.7L163.8,135.3L163.6,134.9L163.5,134.5L163.4,134.2L163.2,133.7L163.2,133.4L163.1,132.9L163.0,132.6L162.9,132.2L162.8,131.7L162.8,131.2L162.7,130.9L162.7,130.4L162.6,129.9L162.6,129.4L162.6,128.9L162.7,128.4L162.7,127.9L162.8,127.7L162.8,127.2L162.9,126.7L163.0,126.4L163.1,125.9L163.2,125.6L163.4,125.2L163.5,124.9L163.7,124.4L163.8,124.2L164.0,123.7L164.2,123.4L164.3,123.2L164.5,122.8L164.7,122.4L164.9,122.2L165.1,121.9L165.2,121.6L165.5,121.3L165.8,121.0L166.0,120.7L166.2,120.4L166.4,120.2L166.7,119.9L166.9,119.7L167.2,119.4L167.5,119.2L167.8,119.0L168.0,118.8L168.2,118.6L168.6,118.4L169.0,118.2L169.2,118.0L169.6,117.9L170.0,117.7L170.2,117.6L170.8,117.5L171.1,117.4L171.5,117.3L172.0,117.2L172.2,117.0L172.6,116.9L173.0,116.7L173.2,116.6L173.7,116.4L174.0,116.3L174.5,116.2L174.8,116.1L175.2,116.1L175.8,116.1L176.2,116.2L176.5,116.2L177.0,116.2L177.5,116.3L178.0,116.2L178.5,116.2L179.0,116.2L179.2,116.1L179.8,116.1L180.2,116.1L180.8,116.0L181.2,116.0L181.8,116.0L182.2,116.0L182.8,115.9L183.1,115.9L183.5,115.8L184.0,115.7L184.2,115.6L184.8,115.5L185.0,115.4L185.5,115.3L186.0,115.4L186.2,115.4L186.8,115.6L187.0,115.7L187.4,115.9L187.8,116.1L188.0,116.3L188.2,116.4L188.6,116.7L189.0,116.9L189.2,117.1L189.5,117.2L189.9,117.4L190.2,117.6L190.5,117.7L191.0,117.8L191.5,117.8L192.0,117.8L192.5,117.8L193.0,117.8L193.5,117.8L193.8,117.9L194.2,118.1L194.5,118.3L194.8,118.6L195.0,118.8L195.2,119.0L195.5,119.3L195.8,119.5L196.0,119.7L196.4,119.9L196.7,120.2L197.0,120.4L197.2,120.7L197.3,120.9L197.5,121.3L197.6,121.7L197.8,122.1L197.9,122.4L198.0,122.7L198.2,123.1L198.4,123.4L198.6,123.7L198.8,124.0L198.9,124.4L199.1,124.7L199.2,125.1L199.4,125.4L199.5,125.8L199.6,126.2L199.8,126.6L199.8,126.9L199.9,127.4L199.9,127.9L199.9,128.4L199.9,128.9L199.8,129.4L199.8,129.9L199.7,130.2L199.6,130.7L199.5,131.1L199.4,131.4L199.3,131.9L199.2,132.2L199.0,132.6L198.9,132.9L198.8,133.2L198.5,133.7L198.4,133.9L198.2,134.2L198.0,134.7L197.9,134.9L197.8,135.3L197.6,135.7L197.5,135.9L197.2,136.4L197.1,136.7L196.9,136.9L196.7,137.2L196.4,137.4L196.2,137.7L195.9,137.9L195.6,138.2L195.3,138.4L195.0,138.6L194.8,138.7L194.2,138.9L194.0,139.0L193.5,139.1L193.2,139.2L192.8,139.4L192.5,139.5L192.2,139.7L192.0,139.9L191.8,140.4L191.7,140.7L191.5,141.1L191.3,141.4L191.1,141.7L190.8,141.9L190.5,142.0L190.0,142.0L189.7,141.9L189.2,141.7L189.0,141.5L188.7,141.4L188.2,141.4L188.0,141.4L187.5,141.5L187.1,141.7L186.8,141.8L186.3,141.9L186.0,142.0L185.5,142.1L185.2,142.2L184.8,142.3L184.3,142.4L184.0,142.5L183.5,142.5L183.0,142.6L182.5,142.6L182.0,142.6L181.5,142.6L181.0,142.5L180.5,142.5L180.0,142.5L179.5,142.5L179.0,142.4L178.7,142.4L178.2,142.4L177.8,142.3L177.2,142.3L176.8,142.3L176.2,142.3L175.8,142.3L175.3,142.4L175.0,142.5L174.5,142.7L174.2,142.8L173.9,142.9L173.5,143.1L173.2,143.2L172.8,143.4L172.5,143.5L172.0,143.6L171.8,143.7Z" fill="rgba(0,0,0,0.05)" fill-rule="evenodd" stroke="#bbb" stroke-width="0.4"/>
<path d="M172.2,142.2L171.8,142.3L171.2,142.3L170.8,142.3L170.2,142.2L170.0,142.2L169.5,142.0L169.2,141.9L168.9,141.7L168.5,141.4L168.2,141.2L168.0,141.0L167.8,140.8L167.5,140.5L167.2,140.2L167.0,139.9L166.8,139.7L166.6,139.4L166.5,139.2L166.2,138.8L166.0,138.4L165.9,138.2L165.7,137.9L165.5,137.4L165.4,137.2L165.2,136.9L165.1,136.4L165.0,136.2L164.8,135.7L164.7,135.4L164.5,134.9L164.4,134.7L164.3,134.2L164.2,133.9L164.1,133.4L164.0,132.9L163.9,132.7L163.8,132.2L163.8,131.7L163.8,131.4L163.7,130.9L163.7,130.4L163.7,129.9L163.7,129.4L163.7,128.9L163.7,128.4L163.8,128.2L163.8,127.7L163.9,127.2L164.0,126.8L164.1,126.4L164.2,125.9L164.3,125.7L164.5,125.2L164.6,124.9L164.8,124.5L164.9,124.2L165.0,123.9L165.2,123.5L165.4,123.2L165.6,122.9L165.8,122.6L166.0,122.3L166.2,121.9L166.5,121.7L166.7,121.4L166.9,121.2L167.1,120.9L167.4,120.7L167.6,120.4L167.9,120.2L168.2,119.9L168.5,119.7L168.8,119.5L169.0,119.4L169.5,119.2L169.8,119.0L170.0,118.9L170.5,118.7L170.8,118.6L171.2,118.5L171.6,118.4L172.0,118.3L172.3,118.2L172.8,118.0L173.0,117.8L173.3,117.7L173.8,117.4L174.0,117.3L174.5,117.2L174.8,117.1L175.2,117.1L175.5,117.2L176.0,117.3L176.5,117.4L176.8,117.4L177.2,117.4L177.5,117.4L178.0,117.4L178.5,117.3L179.0,117.3L179.5,117.2L180.0,117.2L180.5,117.2L181.0,117.2L181.5,117.2L182.0,117.2L182.5,117.2L183.0,117.2L183.4,117.2L183.8,117.1L184.2,117.1L184.8,117.0L185.2,117.0L185.8,117.0L186.2,117.0L186.7,117.2L187.0,117.3L187.3,117.4L187.8,117.6L188.0,117.7L188.4,117.9L188.8,118.0L189.1,118.2L189.5,118.2L190.0,118.4L190.2,118.4L190.8,118.5L191.2,118.6L191.7,118.7L192.0,118.7L192.5,118.7L193.0,118.8L193.5,118.9L193.8,119.0L194.1,119.2L194.5,119.4L194.8,119.6L195.0,119.8L195.2,120.0L195.5,120.2L195.8,120.4L196.0,120.7L196.2,121.1L196.4,121.4L196.5,121.8L196.6,122.2L196.8,122.5L197.0,122.9L197.1,123.2L197.2,123.4L197.5,123.9L197.6,124.2L197.8,124.5L197.9,124.9L198.0,125.2L198.2,125.7L198.3,125.9L198.5,126.4L198.6,126.7L198.6,127.2L198.7,127.7L198.6,128.2L198.5,128.7L198.5,128.9L198.3,129.4L198.2,129.7L198.1,130.2L198.0,130.4L197.8,130.9L197.7,131.2L197.6,131.7L197.5,131.9L197.3,132.4L197.2,132.7L197.0,133.1L196.9,133.4L196.8,133.7L196.6,134.2L196.5,134.5L196.4,134.9L196.3,135.4L196.2,135.7L196.0,135.9L195.8,136.2L195.5,136.4L195.1,136.7L194.8,136.9L194.5,137.1L194.2,137.3L194.0,137.5L193.6,137.7L193.2,137.8L193.0,137.9L192.5,138.1L192.2,138.3L192.0,138.4L191.5,138.7L191.2,138.8L191.0,139.0L190.8,139.3L190.6,139.7L190.7,140.2L190.7,140.7L190.5,140.9L190.0,141.0L189.8,140.7L189.6,140.4L189.3,140.2L189.0,140.1L188.5,140.2L188.2,140.2L187.8,140.4L187.5,140.5L187.1,140.7L186.8,140.8L186.4,140.9L186.0,141.0L185.6,141.2L185.2,141.3L184.8,141.4L184.5,141.4L184.0,141.5L183.5,141.6L183.0,141.6L182.7,141.7L182.2,141.7L181.8,141.7L181.5,141.6L181.0,141.6L180.5,141.6L180.0,141.6L179.5,141.6L179.0,141.5L178.5,141.5L178.0,141.4L177.7,141.4L177.2,141.4L176.8,141.3L176.2,141.3L175.8,141.3L175.3,141.4L175.0,141.4L174.5,141.6L174.1,141.7L173.8,141.8L173.3,141.9L173.0,142.0L172.5,142.1L172.2,142.2Z" fill="rgba(0,0,0,0.05)" fill-rule="evenodd" stroke="#aaa" stroke-width="0.4"/>
<path d="M172.8,140.9L172.2,141.0L171.8,141.1L171.2,141.1L170.8,141.0L170.2,140.9L170.0,140.8L169.5,140.7L169.2,140.5L169.0,140.4L168.7,140.2L168.4,139.9L168.1,139.7L167.9,139.4L167.6,139.2L167.4,138.9L167.2,138.7L167.0,138.3L166.8,137.9L166.6,137.7L166.4,137.4L166.2,137.1L166.0,136.7L165.9,136.4L165.8,136.0L165.6,135.7L165.5,135.4L165.3,134.9L165.2,134.6L165.1,134.2L165.0,133.7L164.9,133.4L164.8,132.9L164.8,132.6L164.7,132.2L164.6,131.7L164.6,131.2L164.5,130.7L164.5,130.2L164.5,129.7L164.5,129.2L164.6,128.7L164.6,128.2L164.7,127.7L164.8,127.4L164.9,126.9L165.0,126.4L165.1,126.2L165.2,125.7L165.3,125.4L165.5,125.0L165.7,124.7L165.8,124.4L166.0,124.0L166.2,123.7L166.3,123.4L166.5,123.1L166.8,122.8L167.0,122.4L167.2,122.2L167.5,121.9L167.7,121.7L168.0,121.4L168.2,121.2L168.5,120.9L168.8,120.7L169.0,120.6L169.3,120.4L169.8,120.2L170.0,120.0L170.3,119.9L170.8,119.7L171.0,119.7L171.5,119.5L172.0,119.4L172.2,119.3L172.8,119.2L173.0,119.1L173.5,118.9L173.8,118.9L174.2,118.7L174.8,118.7L175.2,118.7L175.8,118.7L176.1,118.7L176.5,118.6L177.0,118.6L177.5,118.5L178.0,118.4L178.2,118.4L178.8,118.3L179.2,118.3L179.8,118.2L180.2,118.2L180.8,118.2L181.2,118.2L181.8,118.2L182.2,118.2L182.8,118.2L183.2,118.2L183.8,118.2L184.2,118.2L184.8,118.2L185.2,118.2L185.8,118.2L186.2,118.3L186.8,118.3L187.2,118.4L187.5,118.4L188.0,118.5L188.5,118.6L188.8,118.7L189.2,118.8L189.8,118.9L190.0,118.9L190.5,119.0L191.0,119.1L191.4,119.2L191.8,119.2L192.2,119.3L192.7,119.4L193.0,119.5L193.5,119.7L193.8,119.8L194.0,119.9L194.3,120.2L194.6,120.4L194.9,120.7L195.0,120.9L195.2,121.3L195.4,121.7L195.5,122.2L195.6,122.4L195.8,122.8L196.0,123.2L196.1,123.4L196.3,123.7L196.5,124.1L196.6,124.4L196.8,124.8L196.9,125.2L197.0,125.6L197.1,125.9L197.2,126.4L197.2,126.9L197.3,127.2L197.2,127.4L197.1,127.9L197.0,128.3L196.8,128.7L196.7,128.9L196.5,129.3L196.3,129.7L196.2,129.9L196.1,130.4L196.0,130.8L195.9,131.2L195.8,131.6L195.6,131.9L195.5,132.2L195.3,132.7L195.2,132.9L195.0,133.3L194.8,133.7L194.7,133.9L194.5,134.2L194.2,134.5L194.0,134.9L193.8,135.2L193.6,135.4L193.3,135.7L193.1,135.9L192.9,136.2L192.6,136.4L192.3,136.7L192.0,136.9L191.8,137.1L191.5,137.2L191.2,137.4L190.9,137.7L190.5,137.9L190.2,138.0L190.0,138.2L189.6,138.4L189.2,138.6L189.0,138.7L188.7,138.9L188.2,139.1L188.0,139.2L187.6,139.4L187.2,139.6L187.0,139.7L186.5,139.9L186.2,140.0L185.8,140.2L185.5,140.2L185.0,140.4L184.8,140.5L184.2,140.6L183.9,140.7L183.5,140.7L183.0,140.7L182.5,140.8L182.0,140.8L181.5,140.8L181.0,140.7L180.5,140.7L180.0,140.7L179.5,140.7L179.2,140.6L178.8,140.6L178.2,140.6L177.8,140.5L177.2,140.5L176.8,140.4L176.2,140.4L175.8,140.4L175.2,140.5L174.8,140.5L174.2,140.6L174.0,140.7L173.5,140.8L173.0,140.9L172.8,140.9Z" fill="rgba(0,0,0,0.06)" fill-rule="evenodd" stroke="#999" stroke-width="0.4"/>
<path d="M183.5,139.7L183.0,139.7L182.5,139.7L182.0,139.7L181.5,139.7L181.0,139.7L180.5,139.7L180.0,139.7L179.5,139.7L179.2,139.7L178.8,139.6L178.2,139.6L177.8,139.5L177.2,139.5L176.8,139.5L176.2,139.4L175.8,139.5L175.2,139.5L174.8,139.6L174.2,139.6L174.0,139.7L173.5,139.7L173.0,139.8L172.5,139.8L172.0,139.9L171.5,139.9L171.0,139.8L170.5,139.7L170.2,139.6L169.8,139.4L169.5,139.2L169.2,139.1L169.0,138.9L168.7,138.7L168.4,138.4L168.2,138.2L167.9,137.9L167.7,137.7L167.5,137.3L167.2,137.0L167.1,136.7L166.9,136.4L166.7,136.2L166.5,135.7L166.4,135.4L166.2,135.1L166.1,134.7L166.0,134.3L165.9,133.9L165.8,133.4L165.7,133.2L165.6,132.7L165.5,132.2L165.5,131.9L165.4,131.4L165.4,130.9L165.4,130.4L165.4,129.9L165.4,129.4L165.4,128.9L165.5,128.4L165.5,128.2L165.6,127.7L165.7,127.2L165.8,126.9L165.9,126.4L166.0,126.1L166.2,125.7L166.3,125.4L166.5,125.0L166.7,124.7L166.8,124.4L167.0,124.1L167.2,123.7L167.5,123.4L167.7,123.2L167.9,122.9L168.1,122.7L168.4,122.4L168.6,122.2L168.9,121.9L169.2,121.7L169.5,121.5L169.8,121.4L170.2,121.2L170.5,121.0L170.8,120.9L171.2,120.7L171.6,120.7L172.0,120.5L172.5,120.4L172.8,120.4L173.2,120.3L173.8,120.2L174.2,120.2L174.5,120.1L175.0,120.0L175.5,119.9L175.8,119.9L176.2,119.7L176.6,119.7L177.0,119.5L177.5,119.4L177.8,119.4L178.2,119.3L178.8,119.2L179.0,119.1L179.5,119.1L180.0,119.0L180.5,118.9L181.0,118.9L181.3,118.9L181.8,118.9L182.2,118.9L182.8,118.9L183.2,118.8L183.8,118.8L184.2,118.8L184.8,118.8L185.2,118.8L185.8,118.8L186.2,118.9L186.8,118.9L187.0,118.9L187.5,119.0L188.0,119.0L188.5,119.1L188.8,119.2L189.2,119.2L189.8,119.3L190.1,119.4L190.5,119.5L191.0,119.6L191.2,119.7L191.8,119.8L192.2,119.9L192.5,120.0L192.8,120.2L193.2,120.4L193.5,120.6L193.8,120.8L194.0,121.2L194.1,121.4L194.2,121.9L194.2,122.2L194.4,122.7L194.5,122.9L194.8,123.3L195.0,123.7L195.1,123.9L195.3,124.2L195.5,124.7L195.5,124.9L195.6,125.4L195.7,125.9L195.6,126.4L195.6,126.9L195.5,127.2L195.3,127.7L195.2,127.9L195.1,128.4L195.0,128.7L194.8,129.2L194.7,129.4L194.6,129.9L194.5,130.2L194.2,130.6L194.1,130.9L194.0,131.2L193.8,131.7L193.7,131.9L193.5,132.2L193.3,132.7L193.2,132.9L193.0,133.3L192.8,133.7L192.7,133.9L192.5,134.2L192.2,134.6L192.1,134.9L191.9,135.2L191.7,135.4L191.4,135.7L191.2,135.9L190.9,136.2L190.6,136.4L190.2,136.6L190.0,136.8L189.8,136.9L189.4,137.2L189.0,137.4L188.8,137.5L188.5,137.7L188.1,137.9L187.8,138.1L187.5,138.2L187.1,138.4L186.8,138.6L186.5,138.7L186.1,138.9L185.8,139.0L185.5,139.2L185.0,139.3L184.7,139.4L184.2,139.5L183.8,139.6L183.5,139.7Z" fill="rgba(0,0,0,0.07)" fill-rule="evenodd" stroke="#888" stroke-width="0.4"/>
<path d="M182.5,138.4L182.0,138.4L181.5,138.5L181.0,138.5L180.5,138.5L180.0,138.5L179.5,138.5L179.0,138.4L178.8,138.4L178.2,138.4L177.8,138.3L177.2,138.3L176.8,138.3L176.2,138.3L175.8,138.3L175.2,138.4L175.0,138.4L174.5,138.5L174.0,138.5L173.5,138.6L173.0,138.6L172.5,138.6L172.0,138.6L171.5,138.6L171.0,138.4L170.8,138.4L170.2,138.2L170.0,138.0L169.8,137.9L169.4,137.7L169.1,137.4L168.8,137.2L168.6,136.9L168.4,136.7L168.2,136.4L168.0,136.2L167.8,135.8L167.5,135.5L167.3,135.2L167.2,134.9L167.0,134.4L166.9,134.2L166.8,133.7L166.7,133.4L166.6,132.9L166.5,132.5L166.4,132.2L166.4,131.7L166.3,131.2L166.3,130.7L166.3,130.2L166.3,129.7L166.3,129.2L166.4,128.7L166.4,128.2L166.5,127.8L166.6,127.4L166.7,126.9L166.8,126.7L167.0,126.2L167.1,125.9L167.3,125.7L167.5,125.2L167.7,124.9L167.9,124.7L168.0,124.4L168.2,124.1L168.5,123.8L168.8,123.6L169.0,123.3L169.2,123.1L169.5,122.9L169.9,122.7L170.2,122.4L170.5,122.3L170.9,122.2L171.2,122.0L171.6,121.9L172.0,121.8L172.5,121.7L173.0,121.7L173.2,121.6L173.8,121.6L174.2,121.5L174.8,121.4L175.0,121.4L175.5,121.2L175.8,121.2L176.2,120.9L176.5,120.8L176.9,120.7L177.2,120.5L177.5,120.4L178.0,120.2L178.2,120.1L178.8,119.9L179.0,119.9L179.5,119.8L180.0,119.7L180.2,119.6L180.8,119.6L181.2,119.5L181.8,119.5L182.2,119.4L182.8,119.4L183.2,119.4L183.6,119.4L184.0,119.4L184.5,119.4L185.0,119.4L185.5,119.4L186.0,119.4L186.2,119.4L186.8,119.4L187.2,119.5L187.8,119.6L188.2,119.6L188.5,119.7L189.0,119.8L189.5,119.9L189.8,119.9L190.2,120.1L190.5,120.2L191.0,120.3L191.3,120.4L191.8,120.6L192.0,120.8L192.2,121.0L192.5,121.3L192.6,121.7L192.6,122.2L192.6,122.7L192.8,123.1L192.9,123.4L193.1,123.7L193.3,123.9L193.5,124.2L193.7,124.7L193.8,124.9L193.9,125.4L194.0,125.9L194.0,126.4L193.9,126.9L193.8,127.4L193.7,127.7L193.7,128.2L193.6,128.7L193.5,128.9L193.3,129.4L193.1,129.7L192.9,129.9L192.6,130.2L192.4,130.4L192.1,130.7L191.9,130.9L191.8,131.2L191.5,131.7L191.5,131.9L191.3,132.4L191.2,132.7L191.1,133.2L191.0,133.4L190.8,133.9L190.7,134.2L190.5,134.5L190.2,134.8L190.0,135.1L189.8,135.3L189.5,135.4L189.2,135.7L188.8,135.9L188.5,136.0L188.2,136.2L187.8,136.4L187.5,136.6L187.2,136.7L187.0,136.9L186.5,137.2L186.2,137.3L186.0,137.4L185.5,137.7L185.2,137.8L184.9,137.9L184.5,138.1L184.1,138.2L183.8,138.2L183.2,138.3L182.8,138.4L182.5,138.4Z" fill="rgba(0,0,0,0.08)" fill-rule="evenodd" stroke="#777" stroke-width="0.4"/>
<path d="M180.8,137.4L180.2,137.4L180.0,137.4L179.5,137.4L179.0,137.3L178.5,137.2L178.2,137.1L177.8,137.0L177.3,136.9L177.0,136.9L176.5,136.8L176.0,136.8L175.7,136.9L175.2,137.0L174.8,137.1L174.5,137.2L174.0,137.2L173.5,137.3L173.0,137.3L172.5,137.3L172.0,137.2L171.7,137.2L171.2,137.0L171.0,136.9L170.5,136.7L170.2,136.5L170.0,136.3L169.8,136.1L169.5,135.9L169.2,135.7L169.0,135.4L168.8,135.1L168.5,134.7L168.3,134.4L168.2,134.2L168.0,133.8L167.9,133.4L167.8,133.0L167.7,132.7L167.5,132.2L167.5,131.9L167.4,131.4L167.4,130.9L167.3,130.4L167.3,129.9L167.3,129.4L167.4,128.9L167.4,128.4L167.5,128.1L167.6,127.7L167.7,127.2L167.8,126.9L168.0,126.6L168.2,126.2L168.4,125.9L168.6,125.7L168.8,125.4L169.0,125.1L169.2,124.8L169.5,124.6L169.8,124.4L170.0,124.2L170.4,123.9L170.8,123.7L171.0,123.6L171.4,123.4L171.8,123.3L172.2,123.2L172.5,123.1L173.0,123.1L173.5,123.1L174.0,123.1L174.5,123.1L175.0,123.1L175.5,123.1L175.9,123.2L176.0,123.2L176.5,123.1L177.0,123.1L177.5,122.9L177.8,122.7L178.0,122.4L178.1,122.2L178.2,121.8L178.5,121.4L178.7,121.2L179.0,121.0L179.2,120.8L179.7,120.7L180.0,120.5L180.4,120.4L180.8,120.3L181.2,120.2L181.8,120.2L182.2,120.2L182.7,120.2L183.0,120.1L183.5,120.1L184.0,120.1L184.5,120.1L185.0,120.1L185.5,120.1L186.0,120.2L186.2,120.2L186.8,120.3L187.2,120.4L187.5,120.4L188.0,120.6L188.3,120.7L188.8,120.8L189.2,120.9L189.5,121.0L189.8,121.2L190.1,121.4L190.3,121.7L190.2,122.1L190.0,122.4L189.8,122.6L189.5,122.8L189.2,123.1L189.2,123.4L189.5,123.6L189.8,123.7L190.2,123.9L190.5,124.0L190.9,124.2L191.2,124.4L191.4,124.7L191.5,124.9L191.6,125.4L191.6,125.9L191.7,126.4L191.7,126.9L191.8,127.2L191.8,127.7L191.8,128.0L191.6,128.4L191.5,128.7L191.2,128.9L190.9,129.2L190.5,129.4L190.2,129.6L190.0,129.7L189.8,129.9L189.5,130.2L189.3,130.7L189.2,130.9L189.0,131.3L188.8,131.7L188.7,131.9L188.5,132.4L188.3,132.7L188.2,132.9L188.0,133.2L187.8,133.5L187.5,133.8L187.2,134.1L187.0,134.3L186.8,134.5L186.5,134.8L186.2,135.0L186.0,135.2L185.7,135.4L185.4,135.7L185.0,135.9L184.8,136.1L184.5,136.3L184.2,136.4L183.8,136.7L183.5,136.8L183.2,136.9L182.8,137.1L182.4,137.2L182.0,137.3L181.5,137.3L181.0,137.4L180.8,137.4Z" fill="rgba(0,0,0,0.09)" fill-rule="evenodd" stroke="#666" stroke-width="0.4"/>
<path d="M181.5,136.7L181.0,136.8L180.5,136.8L180.0,136.8L179.5,136.7L179.1,136.7L178.8,136.6L178.2,136.4L178.0,136.3L177.6,136.2L177.2,136.0L177.0,135.9L176.5,135.7L176.2,135.5L176.0,135.4L175.5,135.2L175.0,135.2L174.5,135.3L174.2,135.4L173.8,135.5L173.2,135.6L172.8,135.6L172.2,135.5L172.0,135.4L171.5,135.2L171.2,135.0L171.0,134.9L170.7,134.7L170.5,134.4L170.2,134.2L170.0,133.9L169.8,133.5L169.6,133.2L169.4,132.9L169.2,132.5L169.1,132.2L169.0,131.7L168.9,131.4L168.9,130.9L168.8,130.4L168.8,129.9L168.8,129.4L168.8,128.9L168.9,128.4L169.0,128.0L169.1,127.7L169.2,127.4L169.5,126.9L169.7,126.7L170.0,126.4L170.2,126.2L170.5,125.9L170.8,125.7L171.0,125.5L171.2,125.4L171.8,125.2L172.0,125.1L172.5,125.0L173.0,124.9L173.5,124.9L174.0,125.0L174.3,125.2L174.8,125.3L175.0,125.5L175.3,125.7L175.6,125.9L175.9,126.2L176.2,126.3L176.8,126.3L177.2,126.2L177.5,126.1L178.0,125.9L178.2,125.8L178.8,125.7L179.0,125.6L179.5,125.5L180.0,125.4L180.5,125.4L181.0,125.5L181.5,125.6L181.8,125.7L182.2,125.8L182.5,125.9L183.0,126.1L183.2,126.2L183.5,126.4L183.9,126.7L184.2,126.9L184.5,127.1L184.8,127.4L185.0,127.6L185.2,127.9L185.4,128.2L185.5,128.4L185.8,128.8L185.9,129.2L186.0,129.4L186.2,129.9L186.2,130.4L186.2,130.9L186.2,131.4L186.2,131.9L186.1,132.4L186.0,132.7L185.8,133.2L185.7,133.4L185.5,133.8L185.3,134.2L185.2,134.4L185.0,134.7L184.7,134.9L184.5,135.2L184.2,135.4L183.9,135.7L183.5,135.9L183.2,136.1L183.0,136.2L182.5,136.4L182.2,136.5L181.8,136.6L181.5,136.7Z" fill="rgba(0,0,0,0.1)" fill-rule="evenodd" stroke="#555" stroke-width="0.4"/>
<path d="M181.5,136.2L181.0,136.3L180.5,136.3L180.0,136.3L179.5,136.2L179.2,136.2L178.8,136.0L178.4,135.9L178.0,135.7L177.8,135.6L177.4,135.4L177.0,135.2L176.8,135.0L176.5,134.8L176.2,134.6L176.0,134.3L175.8,134.1L175.5,133.8L175.2,133.5L175.0,133.2L174.8,132.9L174.6,132.7L174.5,132.4L174.2,132.1L173.8,131.9L173.2,132.0L172.8,131.9L172.5,131.8L172.2,131.5L172.1,131.2L172.0,130.9L171.9,130.4L171.9,129.9L172.0,129.4L172.1,129.2L172.3,128.9L172.6,128.7L173.0,128.6L173.3,128.7L173.7,128.9L173.9,129.2L174.2,129.4L174.8,129.3L175.0,129.1L175.2,128.8L175.5,128.6L175.8,128.4L176.0,128.1L176.3,127.9L176.6,127.7L176.9,127.4L177.2,127.2L177.5,127.0L177.8,126.9L178.2,126.7L178.5,126.5L178.9,126.4L179.2,126.3L179.8,126.2L180.2,126.2L180.8,126.2L181.2,126.3L181.7,126.4L182.0,126.5L182.4,126.7L182.8,126.8L183.0,127.0L183.3,127.2L183.6,127.4L183.9,127.7L184.1,127.9L184.4,128.2L184.6,128.4L184.8,128.7L185.0,129.1L185.1,129.4L185.2,129.8L185.4,130.2L185.5,130.7L185.5,131.2L185.5,131.7L185.4,132.2L185.3,132.7L185.2,132.9L185.0,133.4L184.9,133.7L184.8,133.9L184.5,134.3L184.2,134.6L184.0,134.8L183.8,135.1L183.5,135.3L183.2,135.4L182.9,135.7L182.5,135.8L182.2,135.9L181.8,136.1L181.5,136.2Z" fill="rgba(0,0,0,0.12)" fill-rule="evenodd" stroke="#444" stroke-width="0.4"/>
<path d="M181.0,135.7L180.5,135.7L180.0,135.7L179.7,135.7L179.2,135.6L178.8,135.4L178.5,135.3L178.1,135.2L177.8,134.9L177.5,134.8L177.2,134.6L177.0,134.4L176.8,134.1L176.5,133.8L176.2,133.5L176.0,133.2L175.9,132.9L175.8,132.5L175.6,132.2L175.5,131.7L175.5,131.2L175.6,130.7L175.7,130.2L175.8,129.9L176.0,129.5L176.2,129.2L176.4,128.9L176.6,128.7L176.9,128.4L177.1,128.2L177.5,127.9L177.8,127.7L178.0,127.5L178.2,127.4L178.8,127.2L179.0,127.1L179.5,126.9L179.8,126.9L180.2,126.8L180.8,126.9L181.0,126.9L181.5,127.0L181.9,127.2L182.2,127.3L182.5,127.4L182.8,127.7L183.2,127.9L183.5,128.2L183.7,128.4L183.9,128.7L184.1,128.9L184.3,129.2L184.5,129.6L184.6,129.9L184.7,130.4L184.8,130.7L184.8,131.2L184.8,131.7L184.8,132.2L184.7,132.4L184.6,132.9L184.5,133.2L184.2,133.6L184.0,133.9L183.8,134.2L183.6,134.4L183.3,134.7L183.0,134.9L182.8,135.1L182.5,135.2L182.0,135.4L181.8,135.5L181.2,135.6L181.0,135.7Z" fill="rgba(0,0,0,0.14)" fill-rule="evenodd" stroke="#333" stroke-width="0.4"/>
<path d="M180.8,134.7L180.2,134.7L179.9,134.7L179.5,134.6L179.0,134.4L178.8,134.3L178.5,134.2L178.1,133.9L177.8,133.7L177.5,133.4L177.3,133.2L177.1,132.9L177.0,132.7L176.8,132.2L176.7,131.9L176.7,131.4L176.7,130.9L176.8,130.7L176.9,130.2L177.1,129.9L177.2,129.6L177.5,129.3L177.8,129.0L178.0,128.8L178.2,128.6L178.6,128.4L179.0,128.2L179.2,128.0L179.7,127.9L180.0,127.9L180.5,127.9L180.8,127.9L181.2,128.0L181.6,128.2L182.0,128.4L182.2,128.5L182.5,128.7L182.8,128.9L183.0,129.2L183.2,129.5L183.5,129.9L183.6,130.2L183.7,130.7L183.8,130.9L183.8,131.4L183.8,131.9L183.8,132.3L183.6,132.7L183.5,132.9L183.2,133.3L183.0,133.6L182.8,133.8L182.5,134.0L182.2,134.2L181.8,134.4L181.5,134.5L181.0,134.6L180.8,134.7Z" fill="rgba(0,0,0,0.16)" fill-rule="evenodd" stroke="#333" stroke-width="0.4"/>
<ellipse cx="179.3" cy="132" rx="2.1" ry="1.9" fill="#ddd"/>
<circle cx="180.3" cy="131.4" r="3.9" fill="none" stroke="#333" stroke-width="0.8"/>
<rect x="175.2" y="121.4" width="21.7" height="17.1" fill="none" stroke="#111" stroke-width="1" />
<line x1="196.9" y1="130.7" x2="221" y2="130.7" stroke="#000" stroke-width="1.4" />
<path d="M219,128.5 L224,130.7 L219,132.89999999999998 Z" fill="#000"/>
<path d="M275.4,70.9L274.9,70.9L274.4,70.9L273.9,70.9L273.5,70.8L273.2,70.8L272.7,70.7L272.3,70.6L271.9,70.5L271.5,70.3L271.2,70.2L270.9,70.1L270.4,69.9L270.2,69.7L269.9,69.6L269.6,69.3L269.2,69.1L268.9,68.9L268.7,68.7L268.4,68.5L268.2,68.3L267.9,68.1L267.5,67.8L267.2,67.7L266.7,67.6L266.4,67.5L266.2,67.3L266.0,66.8L265.9,66.6L265.9,66.1L265.8,65.6L265.7,65.3L265.5,64.8L265.4,64.6L265.2,64.1L265.1,63.9L264.9,63.6L264.7,63.1L264.6,62.9L264.4,62.4L264.3,62.1L264.2,61.7L264.1,61.4L263.9,61.0L263.8,60.6L263.7,60.1L263.6,59.9L263.5,59.4L263.4,59.0L263.4,58.6L263.3,58.1L263.2,57.6L263.2,57.4L263.1,56.9L263.1,56.4L263.0,55.9L263.0,55.4L263.0,54.9L263.0,54.4L263.0,53.9L263.0,53.4L263.0,52.9L263.0,52.4L263.1,51.9L263.1,51.4L263.2,50.9L263.2,50.6L263.3,50.1L263.4,49.6L263.5,49.4L263.6,48.9L263.7,48.4L263.7,48.1L263.8,47.6L263.8,47.1L263.9,46.6L264.0,46.4L264.2,45.9L264.3,45.6L264.4,45.3L264.7,45.0L264.9,44.7L265.2,44.4L265.3,44.1L265.5,43.9L265.7,43.5L265.9,43.1L266.1,42.9L266.2,42.6L266.4,42.3L266.7,42.0L266.9,41.6L267.2,41.4L267.4,41.1L267.6,40.9L267.9,40.6L268.2,40.4L268.4,40.1L268.7,39.9L268.9,39.7L269.2,39.5L269.4,39.3L269.8,39.1L270.2,38.9L270.4,38.7L270.7,38.6L271.2,38.4L271.4,38.3L271.9,38.1L272.2,38.1L272.7,38.0L273.2,37.9L273.7,37.9L274.2,37.9L274.7,37.9L275.2,38.0L275.7,38.1L275.9,38.2L276.4,38.3L276.7,38.4L277.1,38.6L277.4,38.8L277.7,38.9L278.0,39.1L278.4,39.4L278.7,39.6L278.9,39.8L279.2,40.0L279.4,40.2L279.7,40.4L279.9,40.7L280.2,41.0L280.4,41.3L280.7,41.6L280.9,41.9L281.1,42.1L281.3,42.4L281.4,42.6L281.7,43.0L281.9,43.4L282.1,43.6L282.2,43.9L282.4,44.4L282.6,44.6L282.7,44.9L282.9,45.4L283.0,45.6L283.2,46.1L283.3,46.4L283.4,46.9L283.5,47.1L283.7,47.6L283.8,47.9L283.9,48.4L284.0,48.6L284.1,49.1L284.2,49.6L284.2,49.9L284.3,50.4L284.4,50.9L284.5,51.1L284.6,51.6L284.6,52.1L284.7,52.6L284.7,52.9L284.8,53.4L284.8,53.9L284.9,54.4L284.9,54.9L284.9,55.4L285.0,55.6L285.0,56.1L285.0,56.6L285.0,57.1L285.0,57.6L284.9,58.0L284.9,58.4L284.9,58.9L284.9,59.4L284.8,59.9L284.7,60.4L284.7,60.6L284.6,61.1L284.5,61.6L284.4,61.9L284.3,62.4L284.2,62.6L284.0,63.1L283.9,63.4L283.7,63.9L283.6,64.1L283.4,64.5L283.3,64.8L283.1,65.1L282.9,65.4L282.7,65.8L282.6,66.1L282.4,66.3L282.2,66.6L281.9,67.0L281.7,67.3L281.4,67.6L281.2,67.8L280.9,68.1L280.7,68.3L280.4,68.6L280.2,68.8L279.9,69.0L279.7,69.2L279.4,69.3L279.0,69.6L278.7,69.8L278.4,69.9L278.1,70.1L277.7,70.3L277.4,70.4L276.9,70.6L276.7,70.6L276.2,70.7L275.7,70.8L275.4,70.9Z" fill="rgba(0,0,0,0.03)" fill-rule="evenodd" stroke="#999" stroke-width="0.45"/>
<path d="M275.4,69.9L274.9,69.9L274.4,69.9L274.0,69.8L273.7,69.8L273.2,69.7L272.7,69.6L272.4,69.5L271.9,69.4L271.7,69.3L271.3,69.1L270.9,68.9L270.7,68.8L270.3,68.6L270.0,68.3L269.7,68.1L269.4,67.9L269.2,67.7L268.9,67.4L268.7,67.2L268.4,66.9L268.2,66.7L267.9,66.5L267.7,66.3L267.4,66.1L267.2,65.8L266.9,65.5L266.7,65.1L266.6,64.8L266.5,64.3L266.4,64.1L266.2,63.6L266.1,63.4L265.9,62.9L265.8,62.6L265.7,62.3L265.5,61.9L265.4,61.6L265.3,61.1L265.2,60.8L265.1,60.4L265.0,59.9L264.9,59.6L264.8,59.1L264.7,58.6L264.7,58.4L264.6,57.9L264.5,57.4L264.5,56.9L264.4,56.5L264.4,56.1L264.4,55.6L264.4,55.1L264.4,54.6L264.4,54.1L264.4,53.6L264.4,53.1L264.4,52.6L264.5,52.4L264.5,51.9L264.6,51.4L264.6,50.9L264.7,50.4L264.8,50.1L264.8,49.6L264.9,49.1L265.0,48.9L265.1,48.4L265.1,47.9L265.1,47.4L265.2,46.9L265.2,46.6L265.4,46.1L265.7,45.9L265.9,45.6L266.1,45.4L266.3,45.1L266.5,44.9L266.7,44.5L266.9,44.1L267.1,43.9L267.3,43.6L267.4,43.3L267.7,43.0L267.9,42.7L268.2,42.4L268.4,42.1L268.7,41.9L268.9,41.6L269.2,41.4L269.4,41.1L269.7,40.9L269.9,40.7L270.2,40.6L270.6,40.4L270.9,40.1L271.2,40.0L271.6,39.9L271.9,39.7L272.4,39.6L272.7,39.5L273.2,39.4L273.7,39.4L274.2,39.4L274.7,39.4L275.2,39.5L275.6,39.6L275.9,39.7L276.3,39.9L276.7,40.0L276.9,40.1L277.4,40.4L277.7,40.6L277.9,40.7L278.2,40.9L278.4,41.1L278.7,41.4L279.0,41.6L279.2,41.9L279.5,42.1L279.7,42.4L279.9,42.7L280.2,43.0L280.4,43.3L280.6,43.6L280.8,43.9L281.0,44.1L281.2,44.4L281.4,44.9L281.6,45.1L281.7,45.4L281.9,45.9L282.0,46.1L282.2,46.6L282.3,46.9L282.4,47.4L282.5,47.6L282.7,48.1L282.7,48.4L282.9,48.9L283.0,49.1L283.1,49.6L283.2,50.0L283.3,50.4L283.4,50.9L283.5,51.1L283.6,51.6L283.7,52.1L283.7,52.4L283.8,52.9L283.9,53.4L283.9,53.7L284.0,54.1L284.1,54.6L284.1,55.1L284.2,55.6L284.2,56.1L284.2,56.4L284.2,56.9L284.2,57.4L284.2,57.9L284.2,58.2L284.2,58.6L284.1,59.1L284.1,59.6L284.0,60.1L283.9,60.5L283.9,60.9L283.8,61.4L283.7,61.7L283.6,62.1L283.4,62.5L283.3,62.9L283.2,63.2L283.0,63.6L282.9,63.9L282.7,64.3L282.6,64.6L282.4,64.8L282.2,65.2L282.0,65.6L281.8,65.8L281.6,66.1L281.4,66.3L281.2,66.6L280.9,66.9L280.7,67.2L280.4,67.4L280.2,67.7L279.9,67.9L279.7,68.1L279.4,68.3L279.0,68.6L278.7,68.8L278.4,68.9L278.1,69.1L277.7,69.3L277.4,69.4L276.9,69.6L276.7,69.6L276.2,69.7L275.7,69.8L275.4,69.9Z" fill="rgba(0,0,0,0.04)" fill-rule="evenodd" stroke="#888" stroke-width="0.45"/>
<path d="M275.9,68.9L275.4,68.9L274.9,69.0L274.4,69.0L273.9,68.9L273.6,68.8L273.2,68.8L272.7,68.6L272.4,68.5L271.9,68.4L271.7,68.3L271.3,68.1L270.9,67.9L270.7,67.7L270.4,67.6L270.2,67.3L269.9,67.1L269.7,66.8L269.4,66.6L269.2,66.3L268.9,66.0L268.7,65.7L268.4,65.4L268.2,65.1L268.0,64.8L267.8,64.6L267.7,64.3L267.4,63.9L267.3,63.6L267.2,63.3L267.0,62.9L266.9,62.6L266.7,62.1L266.7,61.9L266.5,61.4L266.4,61.1L266.3,60.6L266.2,60.2L266.1,59.9L266.0,59.4L265.9,58.9L265.9,58.6L265.8,58.1L265.8,57.6L265.7,57.1L265.7,56.6L265.7,56.1L265.7,55.6L265.7,55.1L265.7,54.6L265.8,54.1L265.8,53.6L265.8,53.1L265.9,52.6L265.9,52.2L266.0,51.9L266.1,51.4L266.2,50.9L266.2,50.6L266.3,50.1L266.4,49.6L266.5,49.4L266.6,48.9L266.7,48.6L266.9,48.1L266.9,47.8L267.1,47.4L267.2,47.1L267.4,46.6L267.5,46.4L267.7,46.0L267.9,45.6L268.1,45.4L268.2,45.1L268.4,44.7L268.7,44.4L268.9,44.1L269.1,43.9L269.3,43.6L269.5,43.4L269.8,43.1L270.0,42.9L270.3,42.6L270.7,42.4L270.9,42.2L271.2,42.0L271.5,41.9L271.9,41.6L272.2,41.5L272.7,41.4L272.9,41.3L273.4,41.2L273.9,41.2L274.4,41.2L274.9,41.3L275.3,41.4L275.7,41.5L276.1,41.6L276.4,41.8L276.7,41.9L277.0,42.1L277.4,42.4L277.7,42.6L277.9,42.8L278.2,43.0L278.4,43.2L278.7,43.5L278.9,43.7L279.2,44.0L279.4,44.3L279.7,44.6L279.9,44.9L280.1,45.1L280.3,45.4L280.4,45.6L280.7,46.1L280.8,46.4L280.9,46.7L281.1,47.1L281.2,47.4L281.4,47.9L281.5,48.1L281.7,48.6L281.8,48.9L281.9,49.4L282.0,49.6L282.2,50.1L282.3,50.4L282.4,50.9L282.5,51.1L282.6,51.6L282.7,51.9L282.8,52.4L282.9,52.8L283.0,53.1L283.1,53.6L283.2,54.0L283.3,54.4L283.3,54.9L283.4,55.4L283.4,55.9L283.5,56.1L283.5,56.6L283.5,57.1L283.5,57.6L283.5,58.1L283.5,58.6L283.5,59.1L283.4,59.4L283.4,59.9L283.3,60.4L283.2,60.9L283.2,61.1L283.0,61.6L282.9,62.0L282.8,62.4L282.7,62.7L282.5,63.1L282.4,63.4L282.2,63.8L282.0,64.1L281.9,64.3L281.7,64.7L281.4,65.1L281.3,65.3L281.1,65.6L280.9,65.8L280.7,66.1L280.4,66.4L280.2,66.6L279.9,66.9L279.7,67.1L279.4,67.3L279.0,67.6L278.7,67.8L278.4,68.0L278.2,68.1L277.7,68.3L277.4,68.5L277.1,68.6L276.7,68.7L276.2,68.8L275.9,68.9Z" fill="rgba(0,0,0,0.05)" fill-rule="evenodd" stroke="#777" stroke-width="0.45"/>
<path d="M275.7,68.1L275.2,68.2L274.7,68.2L274.2,68.1L273.9,68.1L273.4,68.0L273.0,67.8L272.7,67.8L272.3,67.6L271.9,67.5L271.6,67.3L271.2,67.1L270.9,66.9L270.7,66.7L270.4,66.5L270.2,66.2L269.9,65.9L269.7,65.7L269.4,65.4L269.2,65.1L269.0,64.8L268.9,64.6L268.7,64.3L268.4,64.0L268.3,63.6L268.1,63.4L267.9,63.0L267.8,62.6L267.7,62.4L267.5,61.9L267.4,61.6L267.3,61.1L267.2,60.8L267.1,60.4L267.0,59.9L266.9,59.6L266.8,59.1L266.8,58.6L266.7,58.1L266.7,57.7L266.7,57.4L266.7,56.9L266.7,56.4L266.7,55.9L266.7,55.4L266.7,55.1L266.7,54.6L266.8,54.1L266.9,53.6L266.9,53.1L267.0,52.9L267.1,52.4L267.2,51.9L267.2,51.6L267.4,51.1L267.4,50.8L267.6,50.4L267.7,50.1L267.9,49.6L268.0,49.4L268.2,48.9L268.3,48.6L268.4,48.2L268.6,47.9L268.8,47.6L268.9,47.3L269.2,46.9L269.4,46.6L269.6,46.4L269.8,46.1L270.0,45.9L270.2,45.6L270.4,45.3L270.7,45.1L270.9,44.8L271.3,44.6L271.6,44.4L271.9,44.2L272.2,44.0L272.6,43.9L272.9,43.7L273.4,43.6L273.7,43.6L274.2,43.6L274.6,43.6L274.9,43.6L275.4,43.8L275.7,43.9L276.2,44.0L276.4,44.2L276.8,44.4L277.1,44.6L277.4,44.8L277.7,45.0L277.9,45.2L278.2,45.4L278.4,45.7L278.7,45.9L278.9,46.2L279.2,46.5L279.4,46.8L279.7,47.1L279.8,47.4L279.9,47.6L280.2,48.1L280.4,48.4L280.5,48.6L280.7,49.0L280.9,49.4L281.0,49.6L281.2,50.1L281.3,50.4L281.4,50.7L281.6,51.1L281.7,51.4L281.9,51.9L282.0,52.1L282.1,52.6L282.2,52.9L282.3,53.4L282.4,53.8L282.5,54.1L282.6,54.6L282.7,55.1L282.7,55.4L282.8,55.9L282.9,56.4L282.9,56.9L282.9,57.4L282.9,57.9L282.9,58.4L282.9,58.9L282.9,59.4L282.8,59.9L282.7,60.4L282.7,60.6L282.6,61.1L282.4,61.6L282.4,61.9L282.2,62.4L282.1,62.6L281.9,63.0L281.8,63.4L281.6,63.6L281.4,63.9L281.2,64.3L281.0,64.6L280.8,64.8L280.7,65.1L280.4,65.4L280.2,65.7L279.9,65.9L279.7,66.2L279.4,66.4L279.2,66.6L278.9,66.8L278.5,67.1L278.2,67.3L277.9,67.4L277.6,67.6L277.2,67.8L276.9,67.8L276.4,68.0L275.9,68.1L275.7,68.1Z" fill="rgba(0,0,0,0.07)" fill-rule="evenodd" stroke="#666" stroke-width="0.45"/>
<path d="M276.2,67.2L275.7,67.2L275.2,67.3L274.7,67.3L274.2,67.2L273.7,67.1L273.4,67.0L272.9,66.9L272.7,66.8L272.2,66.6L271.9,66.5L271.7,66.3L271.4,66.1L271.0,65.8L270.8,65.6L270.5,65.3L270.2,65.1L270.0,64.8L269.8,64.6L269.6,64.3L269.4,64.1L269.2,63.9L268.9,63.5L268.8,63.1L268.6,62.9L268.4,62.4L268.3,62.1L268.2,61.7L268.1,61.4L268.0,60.9L267.9,60.6L267.8,60.1L267.7,59.6L267.7,59.2L267.7,58.9L267.6,58.4L267.6,57.9L267.6,57.4L267.6,56.9L267.6,56.4L267.6,55.9L267.7,55.4L267.7,54.9L267.7,54.6L267.8,54.1L267.9,53.6L268.0,53.4L268.1,52.9L268.2,52.6L268.4,52.1L268.4,51.8L268.6,51.4L268.7,51.1L268.9,50.7L269.1,50.4L269.3,50.1L269.4,49.8L269.7,49.4L269.9,49.1L270.1,48.9L270.4,48.6L270.6,48.4L270.9,48.1L271.2,47.9L271.4,47.6L271.7,47.4L271.9,47.3L272.3,47.1L272.7,46.9L272.9,46.8L273.4,46.7L273.9,46.6L274.2,46.6L274.7,46.5L275.2,46.6L275.4,46.6L275.9,46.7L276.3,46.9L276.7,47.0L276.9,47.1L277.3,47.4L277.7,47.6L277.9,47.8L278.2,48.0L278.4,48.2L278.7,48.4L278.9,48.7L279.2,49.0L279.4,49.3L279.7,49.6L279.9,49.9L280.0,50.1L280.2,50.4L280.4,50.8L280.6,51.1L280.7,51.4L280.9,51.8L281.1,52.1L281.2,52.4L281.4,52.9L281.4,53.1L281.6,53.6L281.7,53.9L281.8,54.4L281.9,54.9L282.0,55.1L282.1,55.6L282.2,56.1L282.2,56.4L282.3,56.9L282.3,57.4L282.4,57.9L282.4,58.4L282.4,58.9L282.3,59.4L282.3,59.9L282.2,60.1L282.1,60.6L282.0,61.1L281.9,61.4L281.8,61.9L281.7,62.1L281.5,62.6L281.3,62.9L281.2,63.1L280.9,63.5L280.7,63.9L280.5,64.1L280.3,64.3L280.1,64.6L279.9,64.8L279.7,65.1L279.4,65.4L279.2,65.6L278.9,65.8L278.6,66.1L278.2,66.3L277.9,66.5L277.7,66.6L277.2,66.8L276.9,67.0L276.4,67.1L276.2,67.2Z" fill="rgba(0,0,0,0.09)" fill-rule="evenodd" stroke="#555" stroke-width="0.45"/>
<path d="M276.4,66.2L275.9,66.3L275.4,66.3L274.9,66.3L274.4,66.3L273.9,66.2L273.6,66.1L273.2,66.0L272.9,65.8L272.4,65.7L272.2,65.6L271.8,65.3L271.4,65.2L271.2,65.0L270.9,64.8L270.6,64.6L270.3,64.3L270.1,64.1L269.8,63.9L269.7,63.6L269.4,63.3L269.2,62.9L269.1,62.6L268.9,62.3L268.8,61.9L268.7,61.6L268.6,61.1L268.5,60.6L268.4,60.4L268.4,59.9L268.3,59.4L268.3,58.9L268.4,58.4L268.4,57.9L268.4,57.4L268.4,56.9L268.5,56.6L268.5,56.1L268.6,55.6L268.7,55.1L268.7,54.9L268.9,54.4L268.9,54.0L269.1,53.6L269.2,53.3L269.4,52.9L269.5,52.6L269.7,52.2L269.9,51.9L270.1,51.6L270.2,51.4L270.4,51.0L270.7,50.7L270.9,50.5L271.2,50.2L271.4,50.0L271.7,49.8L272.0,49.6L272.4,49.4L272.7,49.2L272.9,49.0L273.4,48.9L273.7,48.7L274.2,48.6L274.4,48.6L274.8,48.6L275.2,48.6L275.7,48.7L276.1,48.9L276.4,49.0L276.8,49.1L277.2,49.3L277.4,49.4L277.7,49.6L278.1,49.9L278.4,50.1L278.6,50.4L278.9,50.6L279.1,50.9L279.3,51.1L279.5,51.4L279.7,51.6L279.9,52.0L280.1,52.4L280.3,52.6L280.4,53.0L280.6,53.4L280.7,53.6L280.9,54.1L281.0,54.4L281.2,54.8L281.3,55.1L281.4,55.6L281.5,55.9L281.7,56.4L281.7,56.6L281.8,57.1L281.9,57.6L281.9,58.1L281.9,58.6L281.9,59.1L281.8,59.6L281.8,60.1L281.7,60.4L281.6,60.9L281.4,61.2L281.3,61.6L281.2,61.9L281.0,62.4L280.8,62.6L280.6,62.9L280.4,63.1L280.2,63.4L279.9,63.7L279.7,64.0L279.4,64.3L279.2,64.5L278.9,64.7L278.7,65.0L278.4,65.2L278.2,65.3L277.8,65.6L277.4,65.8L277.2,65.9L276.7,66.1L276.4,66.2Z" fill="rgba(0,0,0,0.11)" fill-rule="evenodd" stroke="#444" stroke-width="0.45"/>
<path d="M276.4,65.1L275.9,65.2L275.4,65.3L274.9,65.3L274.4,65.2L273.9,65.1L273.7,65.1L273.2,64.9L272.8,64.8L272.4,64.8L271.9,64.6L271.7,64.5L271.3,64.3L270.9,64.2L270.7,64.0L270.4,63.8L270.2,63.6L269.9,63.3L269.7,62.9L269.5,62.6L269.4,62.4L269.2,61.9L269.1,61.6L269.0,61.1L268.9,60.9L268.8,60.4L268.8,59.9L268.8,59.4L268.8,58.9L268.9,58.4L268.9,58.0L269.0,57.6L269.2,57.1L269.2,56.9L269.4,56.4L269.5,56.1L269.6,55.6L269.7,55.4L269.9,54.9L270.0,54.6L270.2,54.1L270.3,53.9L270.5,53.6L270.7,53.2L270.9,52.9L271.1,52.6L271.4,52.4L271.6,52.1L271.9,51.9L272.2,51.6L272.4,51.4L272.7,51.3L273.0,51.1L273.4,50.9L273.7,50.8L274.2,50.7L274.5,50.6L274.9,50.6L275.4,50.6L275.7,50.6L276.2,50.7L276.6,50.9L276.9,51.0L277.2,51.1L277.6,51.4L277.9,51.6L278.2,51.8L278.4,52.0L278.7,52.2L278.9,52.5L279.2,52.8L279.4,53.1L279.6,53.4L279.7,53.6L279.9,53.9L280.2,54.3L280.4,54.6L280.5,54.9L280.7,55.2L280.9,55.6L281.0,55.9L281.2,56.4L281.3,56.6L281.4,57.1L281.4,57.5L281.5,57.9L281.5,58.4L281.5,58.9L281.5,59.4L281.4,59.7L281.4,60.1L281.3,60.6L281.2,60.9L281.0,61.4L280.8,61.6L280.7,61.9L280.4,62.3L280.2,62.6L279.9,62.8L279.7,63.1L279.4,63.3L279.2,63.5L278.9,63.7L278.7,63.9L278.4,64.1L278.0,64.3L277.7,64.5L277.4,64.7L277.1,64.8L276.7,65.0L276.4,65.1Z" fill="rgba(0,0,0,0.13)" fill-rule="evenodd" stroke="#333" stroke-width="0.45"/>
<path d="M276.2,63.9L275.7,64.0L275.2,64.0L274.7,64.0L274.2,64.0L273.7,64.0L273.2,64.0L272.7,64.1L272.2,64.0L271.7,63.9L271.4,63.9L270.9,63.6L270.7,63.4L270.4,63.2L270.2,63.0L269.9,62.6L269.8,62.4L269.7,62.1L269.5,61.6L269.4,61.4L269.3,60.9L269.2,60.4L269.2,60.1L269.2,59.6L269.2,59.2L269.2,58.9L269.3,58.4L269.4,57.9L269.6,57.6L269.7,57.3L269.9,56.9L270.0,56.6L270.2,56.3L270.4,55.9L270.7,55.6L270.9,55.4L271.1,55.1L271.3,54.9L271.5,54.6L271.7,54.3L271.9,54.0L272.2,53.8L272.4,53.5L272.7,53.3L273.0,53.1L273.4,52.9L273.7,52.7L274.0,52.6L274.4,52.5L274.9,52.4L275.4,52.4L275.9,52.4L276.4,52.6L276.7,52.6L277.1,52.9L277.4,53.0L277.7,53.2L277.9,53.4L278.3,53.6L278.6,53.9L278.9,54.1L279.2,54.3L279.4,54.5L279.7,54.8L279.9,55.0L280.2,55.4L280.4,55.6L280.5,55.9L280.7,56.2L280.8,56.6L280.9,56.9L281.1,57.4L281.2,57.9L281.2,58.4L281.2,58.6L281.2,58.9L281.2,59.4L281.1,59.9L281.0,60.4L280.9,60.6L280.7,61.0L280.5,61.4L280.4,61.6L280.2,61.9L279.9,62.1L279.7,62.4L279.4,62.6L279.0,62.9L278.7,63.0L278.4,63.1L277.9,63.3L277.7,63.4L277.2,63.5L276.9,63.6L276.4,63.8L276.2,63.9Z" fill="rgba(0,0,0,0.15)" fill-rule="evenodd" stroke="#333" stroke-width="0.45"/>
<path d="M272.7,63.4L272.2,63.5L271.7,63.4L271.4,63.3L271.0,63.1L270.7,62.9L270.4,62.6L270.2,62.4L270.1,62.1L269.9,61.8L269.8,61.4L269.7,61.1L269.6,60.6L269.5,60.1L269.5,59.6L269.6,59.1L269.7,58.6L269.8,58.4L269.9,57.9L270.1,57.6L270.2,57.4L270.4,57.0L270.7,56.7L270.9,56.5L271.2,56.3L271.5,56.1L271.9,55.9L272.2,55.8L272.7,55.6L272.9,55.5L273.3,55.4L273.7,55.2L273.9,55.0L274.3,54.9L274.7,54.7L275.2,54.6L275.7,54.6L276.2,54.7L276.7,54.7L277.2,54.7L277.7,54.7L278.2,54.8L278.6,54.9L278.9,55.0L279.2,55.1L279.5,55.4L279.7,55.6L280.0,55.9L280.2,56.2L280.4,56.6L280.5,56.9L280.7,57.4L280.8,57.6L280.8,58.1L280.9,58.6L280.9,59.1L280.8,59.6L280.7,60.0L280.6,60.4L280.4,60.7L280.2,61.1L280.1,61.4L279.9,61.6L279.6,61.9L279.3,62.1L278.9,62.3L278.7,62.4L278.2,62.5L277.7,62.5L277.2,62.4L276.9,62.3L276.4,62.2L276.2,62.1L275.7,62.0L275.2,62.1L274.9,62.1L274.6,62.4L274.2,62.6L273.9,62.8L273.7,63.0L273.4,63.1L272.9,63.3L272.7,63.4Z" fill="rgba(0,0,0,0.18)" fill-rule="evenodd" stroke="#222" stroke-width="0.45"/>
<path d="M278.4,61.6L277.9,61.6L277.7,61.5L277.4,61.4L277.1,61.1L276.9,60.9L276.7,60.6L276.5,60.1L276.4,59.9L276.3,59.4L276.2,58.9L276.2,58.4L276.3,57.9L276.4,57.4L276.5,57.1L276.7,56.8L276.9,56.4L277.2,56.2L277.4,56.0L277.7,55.8L278.2,55.7L278.7,55.8L278.9,55.9L279.3,56.1L279.6,56.4L279.8,56.6L280.0,56.9L280.2,57.4L280.3,57.6L280.4,58.1L280.4,58.6L280.4,59.1L280.3,59.6L280.2,60.0L280.0,60.4L279.9,60.6L279.7,60.9L279.4,61.2L279.2,61.4L278.7,61.6L278.4,61.6ZM272.4,62.7L271.9,62.7L271.4,62.6L271.2,62.5L270.9,62.3L270.7,62.0L270.4,61.7L270.3,61.4L270.2,61.1L270.1,60.6L270.0,60.1L270.0,59.6L270.1,59.1L270.2,58.7L270.3,58.4L270.5,58.1L270.7,57.8L270.9,57.5L271.2,57.3L271.6,57.1L271.9,57.0L272.4,57.0L272.7,57.1L273.1,57.4L273.4,57.6L273.6,57.9L273.7,58.1L273.9,58.6L274.0,58.9L274.1,59.4L274.1,59.9L274.1,60.4L274.0,60.9L273.9,61.1L273.7,61.6L273.5,61.9L273.3,62.1L273.1,62.4L272.7,62.6L272.4,62.7Z" fill="rgba(0,0,0,0.2)" fill-rule="evenodd" stroke="#222" stroke-width="0.45"/>
<path d="M278.9,60.6L278.4,60.8L277.9,60.7L277.7,60.6L277.4,60.3L277.2,59.9L277.1,59.6L277.0,59.1L277.0,58.6L277.0,58.1L277.2,57.6L277.3,57.4L277.4,57.1L277.7,56.8L278.2,56.6L278.4,56.6L278.7,56.6L279.1,56.9L279.3,57.1L279.5,57.4L279.7,57.8L279.8,58.1L279.8,58.6L279.8,59.1L279.7,59.5L279.6,59.9L279.4,60.1L279.2,60.4L278.9,60.6ZM272.2,61.9L271.9,61.9L271.4,61.7L271.2,61.4L271.0,61.1L270.9,60.9L270.7,60.4L270.7,60.1L270.7,59.6L270.7,59.3L270.8,58.9L271.0,58.6L271.2,58.3L271.4,58.1L271.9,57.9L272.4,58.0L272.7,58.2L272.9,58.5L273.2,58.9L273.3,59.1L273.4,59.6L273.4,60.1L273.3,60.6L273.2,60.9L273.0,61.4L272.7,61.6L272.4,61.8L272.2,61.9Z" fill="rgba(0,0,0,0.2)" fill-rule="evenodd" stroke="#111" stroke-width="0.45"/>
<ellipse cx="274.6" cy="56" rx="0.8" ry="4.8" fill="#eee" transform="rotate(6 274.6 56)"/>
<path d="M276,38.6 C281,38.5 284,42 285,46 C286.5,49 289,49.5 291.5,48.5 C294.5,47.5 297.5,49.5 297,53 C296.5,56 292,57 290,55 C288,53 289,50.5 291.5,48.5" fill="none" stroke="#999" stroke-width="0.5"/>
<circle cx="297.8" cy="44.6" r="2.2" fill="none" stroke="#999" stroke-width="0.5"/>
<rect x="287.1" y="26" width="23.2" height="45.1" fill="none" stroke="#222" stroke-width="1.1" />
<path d="M274.2,145.3L273.8,145.3L273.2,145.3L272.8,145.3L272.5,145.2L272.0,145.2L271.5,145.1L271.2,145.0L270.8,144.8L270.5,144.7L270.0,144.5L269.8,144.4L269.5,144.2L269.1,144.0L268.8,143.8L268.5,143.6L268.2,143.4L268.0,143.2L267.8,142.9L267.5,142.7L267.2,142.5L267.0,142.2L266.8,142.0L266.5,141.7L266.2,141.4L266.0,141.0L265.9,140.8L265.8,140.5L265.5,140.0L265.4,139.8L265.3,139.2L265.2,139.0L265.1,138.5L265.0,138.1L264.9,137.8L264.8,137.2L264.7,137.0L264.6,136.5L264.5,136.0L264.5,135.8L264.4,135.2L264.3,134.8L264.2,134.4L264.2,134.0L264.1,133.5L264.1,133.0L264.0,132.5L264.0,132.2L264.0,131.8L263.9,131.2L263.9,130.8L263.9,130.2L263.9,129.8L263.9,129.2L264.0,128.8L264.0,128.3L264.0,128.0L264.1,127.5L264.2,127.0L264.2,126.5L264.3,126.2L264.4,125.8L264.5,125.4L264.6,125.0L264.8,124.5L264.8,124.2L265.0,123.8L265.1,123.5L265.2,123.0L265.3,122.8L265.4,122.2L265.5,122.0L265.7,121.5L265.8,121.2L265.9,120.8L266.0,120.5L266.2,120.0L266.3,119.8L266.5,119.4L266.7,119.0L266.8,118.8L267.0,118.5L267.2,118.1L267.5,117.8L267.8,117.5L268.0,117.3L268.2,117.0L268.5,116.8L268.8,116.6L269.0,116.4L269.2,116.2L269.6,116.0L270.0,115.8L270.2,115.7L270.6,115.5L271.0,115.4L271.4,115.2L271.8,115.2L272.2,115.1L272.8,115.0L273.0,115.0L273.5,115.0L274.0,115.0L274.2,115.0L274.8,115.1L275.2,115.2L275.5,115.3L276.0,115.4L276.2,115.5L276.8,115.7L277.0,115.9L277.2,116.0L277.6,116.2L278.0,116.5L278.2,116.7L278.5,116.9L278.8,117.2L279.0,117.4L279.2,117.7L279.5,118.0L279.7,118.2L279.8,118.5L280.0,118.8L280.2,119.2L280.4,119.5L280.5,119.8L280.7,120.2L280.8,120.5L280.9,121.0L281.0,121.4L281.1,121.8L281.2,122.2L281.2,122.6L281.3,123.0L281.4,123.5L281.5,123.8L281.6,124.2L281.7,124.8L281.8,125.0L281.9,125.5L282.0,125.8L282.1,126.2L282.2,126.8L282.2,127.1L282.3,127.5L282.4,128.0L282.4,128.5L282.5,129.0L282.5,129.5L282.5,130.0L282.5,130.5L282.5,131.0L282.5,131.5L282.5,132.0L282.4,132.5L282.4,133.0L282.4,133.5L282.4,134.0L282.3,134.5L282.3,135.0L282.3,135.5L282.2,135.8L282.2,136.2L282.1,136.8L282.0,137.2L282.0,137.5L281.8,138.0L281.8,138.3L281.6,138.8L281.5,139.1L281.3,139.5L281.2,139.8L281.0,140.2L280.9,140.5L280.7,140.8L280.5,141.1L280.3,141.5L280.1,141.8L279.9,142.0L279.7,142.2L279.5,142.5L279.2,142.8L279.0,143.0L278.7,143.2L278.4,143.5L278.1,143.8L277.8,144.0L277.5,144.2L277.2,144.3L276.9,144.5L276.5,144.7L276.2,144.8L275.8,145.0L275.5,145.0L275.0,145.2L274.5,145.2L274.2,145.3Z" fill="rgba(0,0,0,0.03)" fill-rule="evenodd" stroke="#999" stroke-width="0.45"/>
<path d="M274.8,144.5L274.2,144.6L273.8,144.7L273.2,144.7L272.8,144.6L272.2,144.6L272.0,144.5L271.5,144.4L271.1,144.2L270.8,144.1L270.4,144.0L270.0,143.8L269.8,143.6L269.5,143.5L269.1,143.2L268.8,143.0L268.5,142.9L268.2,142.7L267.9,142.5L267.6,142.2L267.3,142.0L267.0,141.8L266.8,141.5L266.6,141.2L266.4,141.0L266.2,140.7L266.0,140.2L265.9,140.0L265.8,139.5L265.7,139.2L265.6,138.8L265.6,138.2L265.5,137.8L265.5,137.5L265.4,137.0L265.3,136.5L265.3,136.0L265.2,135.8L265.2,135.2L265.2,134.8L265.2,134.2L265.2,133.8L265.2,133.2L265.2,132.8L265.2,132.2L265.3,132.0L265.3,131.5L265.3,131.0L265.3,130.5L265.3,130.0L265.4,129.5L265.4,129.0L265.5,128.5L265.5,128.1L265.6,127.8L265.6,127.2L265.7,126.8L265.8,126.5L265.9,126.0L266.0,125.6L266.1,125.2L266.2,124.8L266.2,124.2L266.3,124.0L266.3,123.5L266.4,123.0L266.5,122.5L266.5,122.2L266.6,121.8L266.8,121.3L266.8,121.0L267.0,120.6L267.1,120.2L267.3,120.0L267.5,119.5L267.7,119.2L267.8,119.0L268.0,118.8L268.2,118.5L268.5,118.2L268.8,117.9L269.0,117.7L269.2,117.5L269.6,117.2L269.9,117.0L270.2,116.8L270.5,116.7L270.9,116.5L271.2,116.4L271.7,116.2L272.0,116.2L272.5,116.1L273.0,116.0L273.5,116.0L274.0,116.0L274.5,116.1L275.0,116.2L275.2,116.3L275.8,116.5L276.0,116.6L276.4,116.8L276.8,116.9L277.0,117.1L277.2,117.3L277.6,117.5L277.8,117.8L278.1,118.0L278.3,118.2L278.6,118.5L278.8,118.8L279.0,119.1L279.2,119.5L279.4,119.8L279.5,120.0L279.7,120.5L279.8,120.8L280.0,121.2L280.0,121.5L280.2,122.0L280.2,122.5L280.3,122.8L280.3,123.2L280.4,123.8L280.4,124.2L280.4,124.8L280.4,125.2L280.5,125.8L280.5,126.0L280.6,126.5L280.7,127.0L280.8,127.2L280.9,127.8L280.9,128.2L281.0,128.8L281.0,129.0L281.1,129.5L281.2,130.0L281.3,130.2L281.4,130.8L281.5,131.2L281.5,131.5L281.6,132.0L281.7,132.5L281.7,133.0L281.7,133.5L281.7,134.0L281.7,134.5L281.7,135.0L281.7,135.5L281.6,136.0L281.6,136.5L281.5,136.9L281.4,137.2L281.3,137.8L281.2,138.0L281.1,138.5L281.0,138.8L280.8,139.2L280.7,139.5L280.5,140.0L280.4,140.2L280.2,140.5L280.0,140.8L279.8,141.2L279.5,141.5L279.4,141.8L279.1,142.0L278.9,142.2L278.7,142.5L278.4,142.8L278.1,143.0L277.8,143.2L277.5,143.4L277.2,143.6L277.0,143.8L276.5,144.0L276.2,144.1L275.8,144.2L275.5,144.4L275.0,144.5L274.8,144.5Z" fill="rgba(0,0,0,0.04)" fill-rule="evenodd" stroke="#888" stroke-width="0.45"/>
<path d="M274.2,144.0L273.8,144.1L273.2,144.1L272.8,144.0L272.5,144.0L272.0,143.9L271.5,143.8L271.2,143.7L270.8,143.5L270.5,143.4L270.2,143.2L269.8,143.0L269.5,142.9L269.1,142.8L268.8,142.6L268.5,142.5L268.1,142.2L267.8,142.0L267.5,141.8L267.2,141.6L267.0,141.3L266.8,141.0L266.6,140.8L266.4,140.5L266.2,140.0L266.1,139.8L266.0,139.2L266.0,138.8L266.0,138.5L266.0,138.0L266.0,137.5L266.0,137.0L265.9,136.5L265.9,136.0L265.9,135.5L265.9,135.0L265.9,134.5L266.0,134.0L266.0,133.8L266.1,133.2L266.2,132.8L266.3,132.5L266.4,132.0L266.5,131.8L266.7,131.2L266.8,131.0L267.0,130.7L267.2,130.2L267.4,130.0L267.6,129.8L267.8,129.5L268.0,129.2L268.2,129.0L268.5,128.7L268.8,128.5L269.0,128.2L269.3,128.0L269.5,127.8L269.7,127.2L269.5,126.8L269.2,126.5L269.0,126.2L268.8,126.0L268.6,125.8L268.5,125.5L268.2,125.1L268.1,124.8L268.0,124.3L268.0,124.0L267.9,123.5L267.9,123.0L268.0,122.5L268.0,122.2L268.2,121.8L268.3,121.5L268.5,121.1L268.7,120.8L268.8,120.5L269.0,120.2L269.2,120.0L269.5,119.7L269.8,119.5L270.1,119.2L270.4,119.0L270.8,118.8L271.0,118.7L271.4,118.5L271.8,118.4L272.2,118.2L272.5,118.2L273.0,118.2L273.5,118.1L274.0,118.2L274.3,118.2L274.8,118.4L275.2,118.5L275.5,118.6L275.8,118.8L276.2,119.0L276.5,119.2L276.8,119.4L277.0,119.6L277.2,119.9L277.5,120.1L277.8,120.5L278.0,120.8L278.1,121.0L278.3,121.2L278.5,121.8L278.6,122.0L278.7,122.5L278.8,122.8L278.8,123.2L278.8,123.8L278.8,124.2L278.7,124.5L278.6,125.0L278.5,125.2L278.2,125.7L278.1,126.0L277.9,126.2L277.7,126.5L277.5,126.8L277.3,127.2L277.5,127.6L277.8,127.8L278.2,127.9L278.5,128.0L278.9,128.2L279.2,128.5L279.5,128.7L279.8,128.9L280.0,129.2L280.2,129.5L280.4,129.8L280.5,130.0L280.7,130.5L280.8,130.8L281.0,131.2L281.1,131.5L281.2,132.0L281.2,132.4L281.3,132.8L281.4,133.2L281.4,133.8L281.4,134.2L281.4,134.8L281.4,135.2L281.3,135.8L281.2,136.1L281.2,136.5L281.1,137.0L281.0,137.3L280.9,137.8L280.8,138.1L280.6,138.5L280.5,138.8L280.3,139.2L280.2,139.5L280.0,139.8L279.8,140.2L279.6,140.5L279.4,140.8L279.2,141.0L279.0,141.3L278.8,141.6L278.5,141.9L278.2,142.1L278.0,142.3L277.8,142.6L277.5,142.8L277.1,143.0L276.8,143.2L276.5,143.4L276.2,143.5L275.8,143.7L275.5,143.8L275.0,143.9L274.5,144.0L274.2,144.0Z" fill="rgba(0,0,0,0.05)" fill-rule="evenodd" stroke="#777" stroke-width="0.45"/>
<path d="M274.0,143.5L273.5,143.5L273.0,143.5L272.7,143.5L272.2,143.4L271.8,143.3L271.5,143.2L271.0,143.1L270.8,143.0L270.2,142.8L270.0,142.7L269.5,142.5L269.2,142.5L268.8,142.3L268.5,142.1L268.2,142.0L267.8,141.8L267.5,141.5L267.3,141.2L267.1,141.0L266.9,140.8L266.7,140.5L266.5,140.0L266.4,139.8L266.3,139.2L266.3,138.8L266.2,138.5L266.3,138.2L266.3,137.8L266.3,137.2L266.4,136.8L266.4,136.2L266.4,135.8L266.5,135.2L266.5,134.8L266.5,134.5L266.6,134.0L266.7,133.5L266.8,133.2L266.9,132.8L267.0,132.5L267.2,132.0L267.4,131.8L267.5,131.5L267.8,131.1L268.0,130.8L268.2,130.5L268.4,130.2L268.6,130.0L268.8,129.8L269.1,129.5L269.4,129.2L269.8,129.0L270.0,128.9L270.2,128.7L270.7,128.5L271.0,128.4L271.3,128.2L271.8,128.0L272.0,128.0L272.5,127.8L272.9,127.8L273.2,127.7L273.8,127.7L274.1,127.8L274.5,127.8L275.0,128.0L275.2,128.1L275.7,128.2L276.0,128.4L276.4,128.5L276.8,128.6L277.2,128.6L277.8,128.6L278.2,128.6L278.6,128.8L279.0,128.9L279.2,129.1L279.5,129.3L279.8,129.5L280.0,129.8L280.2,130.2L280.4,130.5L280.5,130.8L280.7,131.2L280.8,131.5L280.9,132.0L281.0,132.4L281.1,132.8L281.1,133.2L281.2,133.8L281.2,134.2L281.2,134.8L281.1,135.2L281.1,135.8L281.0,136.1L280.9,136.5L280.8,137.0L280.7,137.2L280.5,137.8L280.4,138.0L280.2,138.4L280.1,138.8L280.0,139.0L279.8,139.4L279.5,139.8L279.4,140.0L279.2,140.2L279.0,140.5L278.8,140.8L278.5,141.2L278.2,141.4L278.0,141.7L277.8,141.9L277.5,142.1L277.2,142.3L277.0,142.5L276.5,142.8L276.2,142.9L276.0,143.0L275.5,143.2L275.2,143.3L274.8,143.4L274.2,143.5L274.0,143.5Z" fill="rgba(0,0,0,0.07)" fill-rule="evenodd" stroke="#666" stroke-width="0.45"/>
<path d="M274.8,142.8L274.2,142.9L273.8,142.9L273.2,142.9L272.8,142.9L272.2,142.8L272.0,142.8L271.5,142.6L271.0,142.5L270.8,142.4L270.2,142.4L269.8,142.2L269.5,142.2L269.0,142.0L268.8,141.9L268.4,141.8L268.0,141.5L267.8,141.3L267.5,141.1L267.2,140.8L267.0,140.5L266.9,140.2L266.8,139.9L266.6,139.5L266.5,139.0L266.5,138.5L266.6,138.0L266.7,137.5L266.8,137.1L266.8,136.8L266.9,136.2L267.0,135.9L267.0,135.5L267.1,135.0L267.1,134.5L267.2,134.0L267.3,133.8L267.4,133.2L267.5,133.0L267.7,132.5L267.8,132.2L268.0,131.9L268.2,131.5L268.4,131.2L268.5,131.0L268.8,130.7L269.0,130.4L269.2,130.2L269.5,130.0L269.8,129.8L270.2,129.5L270.5,129.3L270.8,129.2L271.2,129.1L271.6,129.0L272.0,128.9L272.5,128.8L272.9,128.8L273.2,128.7L273.8,128.7L274.1,128.8L274.5,128.8L275.0,128.9L275.3,129.0L275.8,129.1L276.2,129.2L276.8,129.2L277.2,129.1L277.8,129.1L278.2,129.1L278.8,129.2L279.0,129.4L279.2,129.5L279.5,129.8L279.8,130.0L280.0,130.4L280.2,130.8L280.3,131.0L280.5,131.4L280.6,131.8L280.7,132.2L280.8,132.5L280.9,133.0L280.9,133.5L281.0,134.0L280.9,134.5L280.9,135.0L280.9,135.5L280.8,136.0L280.7,136.2L280.6,136.8L280.5,137.0L280.3,137.5L280.2,137.8L280.0,138.2L279.8,138.5L279.7,138.8L279.5,139.0L279.2,139.3L279.0,139.7L278.8,140.0L278.5,140.2L278.3,140.5L278.1,140.8L277.9,141.0L277.6,141.2L277.3,141.5L277.0,141.8L276.8,142.0L276.5,142.1L276.2,142.3L275.8,142.5L275.5,142.6L275.0,142.7L274.8,142.8Z" fill="rgba(0,0,0,0.09)" fill-rule="evenodd" stroke="#555" stroke-width="0.45"/>
<path d="M273.8,142.3L273.2,142.3L272.9,142.2L272.5,142.2L272.0,142.1L271.5,142.1L271.0,142.0L270.5,142.0L270.2,142.0L269.8,141.9L269.2,141.8L269.0,141.7L268.5,141.5L268.2,141.3L268.0,141.2L267.8,140.9L267.5,140.7L267.2,140.3L267.1,140.0L267.0,139.7L266.9,139.2L266.8,138.8L266.8,138.2L266.9,137.8L267.0,137.4L267.1,137.0L267.2,136.7L267.4,136.2L267.5,136.0L267.6,135.5L267.7,135.0L267.7,134.5L267.8,134.2L267.9,133.8L268.0,133.3L268.1,133.0L268.2,132.5L268.4,132.2L268.5,132.0L268.8,131.5L268.9,131.2L269.1,131.0L269.3,130.8L269.6,130.5L269.9,130.2L270.2,130.0L270.5,129.9L271.0,129.8L271.2,129.7L271.8,129.6L272.2,129.6L272.8,129.5L273.2,129.5L273.8,129.5L274.2,129.6L274.8,129.7L275.1,129.8L275.5,129.9L276.0,129.9L276.5,129.8L276.8,129.7L277.2,129.6L277.6,129.5L278.0,129.5L278.2,129.5L278.8,129.7L279.0,129.8L279.3,130.0L279.5,130.2L279.8,130.5L280.0,130.9L280.2,131.2L280.3,131.5L280.4,132.0L280.5,132.3L280.6,132.8L280.7,133.2L280.7,133.8L280.7,134.2L280.7,134.8L280.7,135.2L280.6,135.8L280.5,136.1L280.4,136.5L280.2,137.0L280.1,137.2L280.0,137.5L279.8,138.0L279.6,138.2L279.4,138.5L279.2,138.8L279.0,139.0L278.7,139.2L278.5,139.5L278.2,139.8L278.0,140.0L277.7,140.2L277.5,140.5L277.2,140.8L277.0,141.0L276.7,141.2L276.3,141.5L276.0,141.7L275.8,141.8L275.2,142.0L275.0,142.1L274.5,142.2L274.0,142.2L273.8,142.3Z" fill="rgba(0,0,0,0.11)" fill-rule="evenodd" stroke="#444" stroke-width="0.45"/>
<path d="M271.8,141.5L271.2,141.6L270.8,141.6L270.2,141.6L269.8,141.6L269.4,141.5L269.0,141.4L268.7,141.2L268.3,141.0L268.0,140.8L267.8,140.5L267.6,140.2L267.5,140.0L267.3,139.5L267.2,139.2L267.1,138.8L267.2,138.2L267.2,137.8L267.3,137.5L267.5,137.1L267.7,136.8L267.8,136.5L268.0,136.1L268.1,135.8L268.2,135.2L268.2,134.8L268.2,134.3L268.3,134.0L268.4,133.5L268.5,133.0L268.6,132.8L268.8,132.4L268.9,132.0L269.1,131.8L269.2,131.5L269.5,131.2L269.8,130.9L270.0,130.7L270.3,130.5L270.8,130.3L271.0,130.2L271.5,130.2L272.0,130.2L272.5,130.2L272.8,130.3L273.2,130.3L273.8,130.4L274.2,130.4L274.6,130.5L275.0,130.6L275.5,130.7L276.0,130.5L276.2,130.4L276.6,130.2L277.0,130.1L277.2,130.0L277.8,129.9L278.2,129.9L278.6,130.0L279.0,130.2L279.2,130.4L279.5,130.7L279.7,131.0L279.8,131.2L280.0,131.6L280.2,132.0L280.2,132.3L280.4,132.8L280.4,133.2L280.5,133.8L280.5,134.2L280.5,134.8L280.4,135.2L280.3,135.8L280.2,136.1L280.1,136.5L280.0,136.9L279.8,137.2L279.7,137.5L279.5,137.8L279.2,138.2L279.0,138.4L278.8,138.7L278.5,138.9L278.2,139.0L277.9,139.2L277.5,139.5L277.2,139.7L277.0,139.9L276.8,140.2L276.5,140.4L276.2,140.6L276.0,140.8L275.6,141.0L275.2,141.1L274.9,141.2L274.5,141.3L274.0,141.4L273.5,141.5L273.0,141.5L272.5,141.5L272.0,141.5L271.8,141.5Z" fill="rgba(0,0,0,0.13)" fill-rule="evenodd" stroke="#333" stroke-width="0.45"/>
<path d="M270.2,141.3L270.0,141.2L269.5,141.1L269.1,141.0L268.8,140.8L268.5,140.6L268.2,140.3L268.0,140.0L267.8,139.8L267.7,139.5L267.6,139.0L267.6,138.5L267.6,138.0L267.7,137.5L267.8,137.2L268.0,136.9L268.2,136.5L268.4,136.2L268.5,136.0L268.6,135.5L268.7,135.0L268.7,134.5L268.7,134.0L268.8,133.7L268.8,133.2L269.0,132.8L269.1,132.5L269.3,132.2L269.5,131.9L269.8,131.6L270.0,131.3L270.2,131.1L270.5,131.0L271.0,130.8L271.2,130.7L271.8,130.7L272.1,130.8L272.5,130.9L272.8,131.0L273.2,131.2L273.5,131.4L273.8,131.5L274.2,131.7L274.5,131.8L275.0,131.8L275.3,131.8L275.6,131.5L275.9,131.2L276.2,131.0L276.5,130.8L276.8,130.6L277.0,130.5L277.5,130.3L278.0,130.3L278.5,130.4L278.8,130.5L279.0,130.8L279.3,131.0L279.5,131.3L279.7,131.8L279.8,132.0L280.0,132.5L280.1,132.8L280.2,133.2L280.2,133.8L280.2,134.2L280.2,134.8L280.2,135.2L280.1,135.8L280.0,136.0L279.8,136.5L279.7,136.8L279.5,137.2L279.3,137.5L279.1,137.8L278.9,138.0L278.6,138.2L278.2,138.5L278.0,138.6L277.5,138.8L277.2,138.8L276.8,138.9L276.4,139.0L276.0,139.2L275.8,139.5L275.5,139.6L275.2,139.8L274.8,140.0L274.5,140.1L274.0,140.2L273.6,140.2L273.2,140.3L272.8,140.5L272.5,140.6L272.2,140.8L271.8,141.0L271.5,141.0L271.0,141.2L270.5,141.2L270.2,141.3Z" fill="rgba(0,0,0,0.15)" fill-rule="evenodd" stroke="#333" stroke-width="0.45"/>
<path d="M278.0,138.0L277.5,138.1L277.0,138.0L276.8,137.9L276.5,137.7L276.2,137.5L276.0,137.2L275.8,136.8L275.6,136.5L275.5,136.1L275.4,135.8L275.3,135.2L275.3,134.8L275.3,134.2L275.3,133.8L275.4,133.2L275.5,133.0L275.7,132.5L275.8,132.2L276.0,132.0L276.2,131.6L276.5,131.4L276.8,131.2L277.0,131.0L277.5,130.8L278.0,130.8L278.5,131.0L278.8,131.1L279.0,131.4L279.2,131.7L279.4,132.0L279.5,132.2L279.7,132.8L279.8,133.0L279.9,133.5L279.9,134.0L279.9,134.5L279.9,135.0L279.8,135.5L279.7,135.8L279.6,136.2L279.5,136.5L279.2,137.0L279.0,137.2L278.8,137.5L278.5,137.8L278.2,137.9L278.0,138.0ZM270.5,140.8L270.2,140.8L269.8,140.6L269.4,140.5L269.1,140.2L268.8,140.0L268.6,139.8L268.5,139.5L268.2,139.0L268.2,138.8L268.1,138.2L268.2,137.8L268.3,137.5L268.5,137.0L268.6,136.8L268.8,136.5L269.0,136.0L269.1,135.8L269.1,135.2L269.1,134.8L269.1,134.2L269.2,133.8L269.3,133.5L269.5,133.0L269.6,132.8L269.8,132.4L270.0,132.1L270.2,131.9L270.5,131.7L270.8,131.5L271.2,131.4L271.8,131.4L272.2,131.5L272.5,131.6L272.8,131.8L273.0,132.1L273.2,132.4L273.4,132.8L273.5,133.0L273.7,133.5L273.7,134.0L273.7,134.5L273.7,135.0L273.6,135.5L273.5,135.8L273.3,136.2L273.2,136.5L273.0,136.9L272.8,137.2L272.7,137.5L272.7,138.0L272.7,138.5L272.6,139.0L272.5,139.3L272.3,139.8L272.1,140.0L271.8,140.2L271.5,140.5L271.2,140.6L270.8,140.7L270.5,140.8Z" fill="rgba(0,0,0,0.18)" fill-rule="evenodd" stroke="#222" stroke-width="0.45"/>
<path d="M277.8,137.3L277.4,137.2L277.0,137.1L276.8,136.8L276.5,136.5L276.4,136.2L276.2,135.9L276.1,135.5L276.0,135.0L276.0,134.7L276.0,134.2L276.0,133.9L276.1,133.5L276.2,133.0L276.3,132.8L276.5,132.3L276.8,132.0L277.0,131.8L277.2,131.7L277.8,131.7L278.0,131.8L278.3,132.0L278.6,132.2L278.8,132.6L279.0,133.0L279.0,133.2L279.2,133.8L279.2,134.2L279.3,134.5L279.3,135.0L279.2,135.2L279.1,135.8L279.0,136.1L278.8,136.5L278.6,136.8L278.4,137.0L278.0,137.2L277.8,137.3ZM271.0,139.5L270.5,139.5L270.2,139.4L270.0,139.1L269.8,138.8L269.5,138.5L269.4,138.2L269.2,137.8L269.2,137.5L269.3,137.2L269.4,136.8L269.6,136.5L269.8,136.2L270.0,135.8L270.2,135.5L270.3,135.2L270.4,134.8L270.5,134.2L270.6,134.0L270.8,133.7L271.0,133.4L271.2,133.1L271.5,133.0L272.0,133.0L272.2,133.2L272.4,133.5L272.5,133.8L272.5,134.2L272.5,134.6L272.4,135.0L272.2,135.4L272.0,135.8L271.9,136.0L271.8,136.4L271.7,136.8L271.7,137.2L271.7,137.8L271.7,138.2L271.6,138.8L271.5,139.0L271.2,139.4L271.0,139.5Z" fill="rgba(0,0,0,0.2)" fill-rule="evenodd" stroke="#222" stroke-width="0.45"/>
<path d="M277.8,135.8L277.2,135.9L277.0,135.6L276.8,135.2L276.8,134.9L276.7,134.5L276.7,134.0L276.8,133.8L277.0,133.5L277.4,133.5L277.6,133.8L277.8,134.2L277.8,134.5L277.9,135.0L277.9,135.5L277.8,135.8Z" fill="rgba(0,0,0,0.2)" fill-rule="evenodd" stroke="#111" stroke-width="0.45"/>
<ellipse cx="275.6" cy="134" rx="0.8" ry="3.6" fill="#eee" transform="rotate(20 275.6 134)"/>
<rect x="287.6" y="103.5" width="23.2" height="45.6" fill="none" stroke="#222" stroke-width="1.1" />
<text x="2.4" y="205.1" font-size="12" font-weight="bold" fill="#000" text-anchor="start"  >B</text>
<text x="90.6" y="205.6" font-size="7.6" font-weight="bold" fill="#000" text-anchor="middle"  textLength="53" lengthAdjust="spacingAndGlyphs">CLP/Fraction A</text>
<line x1="44.2" y1="214.2" x2="44.2" y2="276.5" stroke="#000" stroke-width="1.3" />
<line x1="43.6" y1="275.8" x2="130.5" y2="275.8" stroke="#000" stroke-width="1.6" />
<line x1="41.6" y1="214.5" x2="44.2" y2="214.5" stroke="#000" stroke-width="1" />
<text x="41.3" y="216.8" font-size="6.5" font-weight="bold" text-anchor="end">8</text>
<line x1="41.6" y1="230" x2="44.2" y2="230" stroke="#000" stroke-width="1" />
<text x="41.3" y="232.3" font-size="6.5" font-weight="bold" text-anchor="end">6</text>
<line x1="41.6" y1="245.2" x2="44.2" y2="245.2" stroke="#000" stroke-width="1" />
<text x="41.3" y="247.5" font-size="6.5" font-weight="bold" text-anchor="end">4</text>
<line x1="41.6" y1="260.4" x2="44.2" y2="260.4" stroke="#000" stroke-width="1" />
<text x="41.3" y="262.7" font-size="6.5" font-weight="bold" text-anchor="end">2</text>
<line x1="41.6" y1="275.8" x2="44.2" y2="275.8" stroke="#000" stroke-width="1" />
<text x="41.3" y="278.1" font-size="6.5" font-weight="bold" text-anchor="end">0</text>
<line x1="67" y1="275.8" x2="67" y2="277.8" stroke="#000" stroke-width="1" />
<line x1="113" y1="275.8" x2="113" y2="277.8" stroke="#000" stroke-width="1" />
<text font-size="6.5" font-weight="bold" text-anchor="middle" transform="translate(33.4,245.8) rotate(-90)">hCD25<tspan font-size="4" dy="-2.2">+</tspan><tspan dy="2.2"> cells (%)</tspan></text>
<line x1="55.5" y1="242" x2="78.8" y2="242" stroke="#888" stroke-width="1.4" />
<circle cx="66.9" cy="220.4" r="1.55" fill="#fff" stroke="#000" stroke-width="1.05"/>
<circle cx="66.9" cy="237.1" r="1.55" fill="#fff" stroke="#000" stroke-width="1.05"/>
<circle cx="71.8" cy="237.3" r="1.55" fill="#fff" stroke="#000" stroke-width="1.05"/>
<circle cx="66.9" cy="242" r="1.55" fill="#fff" stroke="#000" stroke-width="1.05"/>
<circle cx="66.9" cy="248.8" r="1.55" fill="#fff" stroke="#000" stroke-width="1.05"/>
<circle cx="66.9" cy="265.9" r="1.55" fill="#fff" stroke="#000" stroke-width="1.05"/>
<circle cx="103.8" cy="275.7" r="1.85" fill="#000"/>
<circle cx="108.4" cy="275.7" r="1.85" fill="#000"/>
<circle cx="112.8" cy="275.7" r="1.85" fill="#000"/>
<circle cx="115.3" cy="275.7" r="1.85" fill="#000"/>
<circle cx="117.7" cy="275.7" r="1.85" fill="#000"/>
<circle cx="122.3" cy="275.7" r="1.85" fill="#000"/>
<text x="57.2" y="285.6" font-size="7.6" font-weight="bold" font-style="italic">Il-7<tspan font-size="5.2" dy="-4">+/+</tspan></text>
<text x="104.5" y="285.6" font-size="7.6" font-weight="bold" font-style="italic">Il-7<tspan font-size="5" dy="-4" letter-spacing="0.5">-/-</tspan></text>
<text x="89.8" y="309.2" font-size="7.6" font-weight="bold" fill="#000" text-anchor="middle"  >CD19<tspan font-size="4.6" dy="-2.8">+</tspan><tspan dy="2.8"> cells</tspan></text>
<line x1="45.9" y1="319.2" x2="45.9" y2="379.8" stroke="#000" stroke-width="1.2" />
<line x1="45.4" y1="379.2" x2="131" y2="379.2" stroke="#000" stroke-width="1.5" />
<line x1="43.8" y1="319.2" x2="45.9" y2="319.2" stroke="#000" stroke-width="1" />
<text x="43.3" y="321.7" font-size="6.2" font-weight="bold" text-anchor="end">100</text>
<line x1="43.8" y1="331.2" x2="45.9" y2="331.2" stroke="#000" stroke-width="1" />
<text x="43.3" y="333.7" font-size="6.2" font-weight="bold" text-anchor="end">80</text>
<line x1="43.8" y1="343.2" x2="45.9" y2="343.2" stroke="#000" stroke-width="1" />
<text x="43.3" y="345.7" font-size="6.2" font-weight="bold" text-anchor="end">60</text>
<line x1="43.8" y1="355.2" x2="45.9" y2="355.2" stroke="#000" stroke-width="1" />
<text x="43.3" y="357.7" font-size="6.2" font-weight="bold" text-anchor="end">40</text>
<line x1="43.8" y1="367.2" x2="45.9" y2="367.2" stroke="#000" stroke-width="1" />
<text x="43.3" y="369.7" font-size="6.2" font-weight="bold" text-anchor="end">20</text>
<line x1="43.8" y1="379.1" x2="45.9" y2="379.1" stroke="#000" stroke-width="1" />
<text x="43.3" y="381.6" font-size="6.2" font-weight="bold" text-anchor="end">0</text>
<text font-size="6.6" font-weight="bold" fill="#444" text-anchor="middle" transform="translate(28,349.2) rotate(-90)">hCD25<tspan font-size="4" dy="-2.2">+</tspan><tspan dy="2.2"> cells (%)</tspan></text>
<circle cx="58.6" cy="328.2" r="1.55" fill="#fff" stroke="#000" stroke-width="1.05"/>
<circle cx="61.7" cy="328.3" r="1.55" fill="#fff" stroke="#000" stroke-width="1.05"/>
<circle cx="65.2" cy="328.9" r="1.55" fill="#fff" stroke="#000" stroke-width="1.05"/>
<circle cx="68.6" cy="329.8" r="1.55" fill="#fff" stroke="#000" stroke-width="1.05"/>
<circle cx="70.6" cy="328" r="1.55" fill="#fff" stroke="#000" stroke-width="1.05"/>
<circle cx="74" cy="328.3" r="1.55" fill="#fff" stroke="#000" stroke-width="1.05"/>
<circle cx="77.6" cy="328.2" r="1.55" fill="#fff" stroke="#000" stroke-width="1.05"/>
<circle cx="103.5" cy="378.7" r="1.9" fill="#000"/>
<circle cx="107.4" cy="378.7" r="1.9" fill="#000"/>
<circle cx="111.3" cy="378.5" r="1.9" fill="#000"/>
<circle cx="115.3" cy="375.6" r="1.9" fill="#000"/>
<circle cx="115.6" cy="378.6" r="1.9" fill="#000"/>
<circle cx="119" cy="378.4" r="1.9" fill="#000"/>
<circle cx="122.6" cy="378.7" r="1.9" fill="#000"/>
<line x1="65.5" y1="379.2" x2="65.5" y2="381.2" stroke="#000" stroke-width="1" />
<line x1="113" y1="379.2" x2="113" y2="381.2" stroke="#000" stroke-width="1" />
<text x="57.6" y="389.4" font-size="7.6" font-weight="bold" font-style="italic">Il-7<tspan font-size="5.2" dy="-4">+/+</tspan></text>
<text x="104.4" y="389.4" font-size="7.6" font-weight="bold" font-style="italic">Il-7<tspan font-size="5" dy="-4" letter-spacing="0.5">-/-</tspan></text>
<text x="168" y="211.4" font-size="12" font-weight="bold" fill="#000" text-anchor="start"  >D</text>
<text x="269.5" y="194.2" font-size="7.6" font-weight="bold" fill="#000" text-anchor="middle"  >OP9 co-cultures</text>
<line x1="217.2" y1="204.9" x2="217.2" y2="274.8" stroke="#000" stroke-width="1.2" />
<line x1="216.6" y1="273.8" x2="321.4" y2="273.8" stroke="#000" stroke-width="1.5" />
<line x1="215.2" y1="204.9" x2="217.2" y2="204.9" stroke="#000" stroke-width="1" />
<text x="214.4" y="207.0" font-size="6" font-weight="bold" text-anchor="end" textLength="11.6" lengthAdjust="spacingAndGlyphs">100</text>
<line x1="215.2" y1="218.7" x2="217.2" y2="218.7" stroke="#000" stroke-width="1" />
<text x="214.4" y="220.79999999999998" font-size="6" font-weight="bold" text-anchor="end" textLength="7.6" lengthAdjust="spacingAndGlyphs">80</text>
<line x1="215.2" y1="232.5" x2="217.2" y2="232.5" stroke="#000" stroke-width="1" />
<text x="214.4" y="234.6" font-size="6" font-weight="bold" text-anchor="end" textLength="7.6" lengthAdjust="spacingAndGlyphs">60</text>
<line x1="215.2" y1="246.4" x2="217.2" y2="246.4" stroke="#000" stroke-width="1" />
<text x="214.4" y="248.5" font-size="6" font-weight="bold" text-anchor="end" textLength="7.6" lengthAdjust="spacingAndGlyphs">40</text>
<line x1="215.2" y1="260.3" x2="217.2" y2="260.3" stroke="#000" stroke-width="1" />
<text x="214.4" y="262.40000000000003" font-size="6" font-weight="bold" text-anchor="end" textLength="7.6" lengthAdjust="spacingAndGlyphs">20</text>
<line x1="215.2" y1="274.2" x2="217.2" y2="274.2" stroke="#000" stroke-width="1" />
<text x="214.4" y="276.3" font-size="6" font-weight="bold" text-anchor="end" textLength="3.8" lengthAdjust="spacingAndGlyphs">0</text>
<text font-size="6.6" font-weight="bold" text-anchor="middle" transform="translate(197.9,241.8) rotate(-90)">cloning frequency (%)</text>
<line x1="234.2" y1="245.8" x2="234.2" y2="243.3" stroke="#000" stroke-width="1.1" />
<line x1="230.29999999999998" y1="243.3" x2="238.1" y2="243.3" stroke="#000" stroke-width="1.2" />
<rect x="226.7" y="245.8" width="15.0" height="28.0" fill="#fff" stroke="#000" stroke-width="1" />
<line x1="252.45" y1="246.1" x2="252.45" y2="243.4" stroke="#000" stroke-width="1.1" />
<line x1="248.576" y1="243.4" x2="256.32399999999996" y2="243.4" stroke="#000" stroke-width="1.2" />
<rect x="245" y="246.1" width="14.899999999999977" height="27.700000000000017" fill="#000" stroke="#000" stroke-width="1" />
<line x1="285.6" y1="252.4" x2="285.6" y2="250.6" stroke="#000" stroke-width="1.1" />
<line x1="281.856" y1="250.6" x2="289.34400000000005" y2="250.6" stroke="#000" stroke-width="1.2" />
<rect x="278.4" y="252.4" width="14.400000000000034" height="21.400000000000006" fill="#fff" stroke="#000" stroke-width="1" />
<line x1="303.9" y1="253.5" x2="303.9" y2="251.2" stroke="#000" stroke-width="1.1" />
<line x1="299.792" y1="251.2" x2="308.008" y2="251.2" stroke="#000" stroke-width="1.2" />
<rect x="296" y="253.5" width="15.800000000000011" height="20.30000000000001" fill="#000" stroke="#000" stroke-width="1" />
<line x1="243.4" y1="274.1" x2="243.4" y2="276" stroke="#000" stroke-width="1" />
<line x1="294.4" y1="274.1" x2="294.4" y2="276" stroke="#000" stroke-width="1" />
<text x="231" y="285.2" font-size="8" font-weight="bold" font-style="italic">Il-7<tspan font-size="5.6" dy="-4.4">+/+</tspan></text>
<text x="284.6" y="285.2" font-size="8" font-weight="bold" font-style="italic">Il-7<tspan font-size="5.5" dy="-4.4" letter-spacing="0.5">-/-</tspan></text>
<rect x="308.5" y="208.6" width="10" height="5.4" fill="#fff" stroke="#000" stroke-width="1" />
<text x="321.4" y="214.3" font-size="7" font-weight="bold" fill="#000" text-anchor="start"  >All</text>
<rect x="308.5" y="216" width="10" height="5.4" fill="#000" stroke="#000" stroke-width="1" />
<text x="321.8" y="221.7" font-size="7" font-weight="bold" fill="#000" text-anchor="start"  >B</text>
<text x="266.5" y="299.6" font-size="7.6" font-weight="bold" fill="#000" text-anchor="middle"  >OP9-DL1 co-cultures</text>
<line x1="215.2" y1="309.7" x2="215.2" y2="379.5" stroke="#000" stroke-width="1.2" />
<line x1="214.6" y1="378.6" x2="318.8" y2="378.6" stroke="#000" stroke-width="1.5" />
<line x1="213.2" y1="309.7" x2="215.2" y2="309.7" stroke="#000" stroke-width="1" />
<text x="212.4" y="311.8" font-size="6" font-weight="bold" text-anchor="end" textLength="11.6" lengthAdjust="spacingAndGlyphs">100</text>
<line x1="213.2" y1="323.5" x2="215.2" y2="323.5" stroke="#000" stroke-width="1" />
<text x="212.4" y="325.6" font-size="6" font-weight="bold" text-anchor="end" textLength="7.6" lengthAdjust="spacingAndGlyphs">80</text>
<line x1="213.2" y1="337.3" x2="215.2" y2="337.3" stroke="#000" stroke-width="1" />
<text x="212.4" y="339.40000000000003" font-size="6" font-weight="bold" text-anchor="end" textLength="7.6" lengthAdjust="spacingAndGlyphs">60</text>
<line x1="213.2" y1="351.1" x2="215.2" y2="351.1" stroke="#000" stroke-width="1" />
<text x="212.4" y="353.20000000000005" font-size="6" font-weight="bold" text-anchor="end" textLength="7.6" lengthAdjust="spacingAndGlyphs">40</text>
<line x1="213.2" y1="365" x2="215.2" y2="365" stroke="#000" stroke-width="1" />
<text x="212.4" y="367.1" font-size="6" font-weight="bold" text-anchor="end" textLength="7.6" lengthAdjust="spacingAndGlyphs">20</text>
<line x1="213.2" y1="378.9" x2="215.2" y2="378.9" stroke="#000" stroke-width="1" />
<text x="212.4" y="381.0" font-size="6" font-weight="bold" text-anchor="end" textLength="3.8" lengthAdjust="spacingAndGlyphs">0</text>
<text font-size="6.6" font-weight="bold" text-anchor="middle" transform="translate(196.6,348.8) rotate(-90)">cloning frequency (%)</text>
<line x1="227.65" y1="341.6" x2="227.65" y2="335.7" stroke="#000" stroke-width="1.1" />
<line x1="224.972" y1="335.7" x2="230.328" y2="335.7" stroke="#000" stroke-width="1.2" />
<rect x="222.5" y="341.6" width="10.300000000000011" height="37.0" fill="#fff" stroke="#000" stroke-width="1" />
<line x1="240.95" y1="345.5" x2="240.95" y2="339.5" stroke="#000" stroke-width="1.1" />
<line x1="238.22" y1="339.5" x2="243.67999999999998" y2="339.5" stroke="#000" stroke-width="1.2" />
<rect x="235.7" y="345.5" width="10.5" height="33.10000000000002" fill="url(#hatch)" stroke="#000" stroke-width="1" />
<line x1="254.6" y1="373.9" x2="254.6" y2="373" stroke="#000" stroke-width="1.1" />
<line x1="251.792" y1="373" x2="257.408" y2="373" stroke="#000" stroke-width="1.2" />
<rect x="249.2" y="373.9" width="10.800000000000011" height="4.7000000000000455" fill="#000" stroke="#000" stroke-width="1" />
<line x1="279.15" y1="344.7" x2="279.15" y2="336.5" stroke="#000" stroke-width="1.1" />
<line x1="276.316" y1="336.5" x2="281.984" y2="336.5" stroke="#000" stroke-width="1.2" />
<rect x="273.7" y="344.7" width="10.900000000000034" height="34.19999999999999" fill="#fff" stroke="#000" stroke-width="1" />
<line x1="292.85" y1="346" x2="292.85" y2="338.7" stroke="#000" stroke-width="1.1" />
<line x1="290.016" y1="338.7" x2="295.684" y2="338.7" stroke="#000" stroke-width="1.2" />
<rect x="287.4" y="346" width="10.900000000000034" height="32.89999999999998" fill="url(#hatch)" stroke="#000" stroke-width="1" />
<line x1="240.5" y1="378.9" x2="240.5" y2="380.8" stroke="#000" stroke-width="1" />
<line x1="292.8" y1="378.9" x2="292.8" y2="380.8" stroke="#000" stroke-width="1" />
<text x="229.3" y="391" font-size="8" font-weight="bold" font-style="italic">Il-7<tspan font-size="5.6" dy="-4.4">+/+</tspan></text>
<text x="283.3" y="391" font-size="8" font-weight="bold" font-style="italic">Il-7<tspan font-size="5.5" dy="-4.4" letter-spacing="0.5">-/-</tspan></text>
<rect x="316" y="307.9" width="9.6" height="5.4" fill="#fff" stroke="#000" stroke-width="1" />
<text x="330.6" y="313.4" font-size="7" font-weight="bold" fill="#000" text-anchor="start"  >All</text>
<rect x="316" y="315.3" width="9.6" height="5.4" fill="url(#hatch)" stroke="#000" stroke-width="1" />
<text x="330.8" y="320.8" font-size="7" font-weight="bold" fill="#000" text-anchor="start"  >T</text>
<rect x="316" y="322.9" width="9.6" height="5.4" fill="#000" stroke="#000" stroke-width="1" />
<text x="330.8" y="328.4" font-size="7" font-weight="bold" fill="#000" text-anchor="start"  >B</text>
<text x="335.2" y="18" font-size="12" font-weight="bold" fill="#000" text-anchor="start"  >C</text>
<rect x="358" y="48.2" width="58.69999999999999" height="343.40000000000003" fill="#fbfbfb" stroke="none" stroke-width="1" />
<path d="M358,50.22H416.7M358,52.24H416.7M358,54.26H416.7M358,56.28H416.7M358,58.30H416.7M358,60.32H416.7M358,62.34H416.7M358,64.36H416.7M358,66.38H416.7M358,68.40H416.7M358,70.42H416.7M358,72.44H416.7M358,74.46H416.7M358,76.48H416.7M358,78.50H416.7M358,80.52H416.7M358,82.54H416.7M358,84.56H416.7M358,86.58H416.7M358,88.60H416.7M358,90.62H416.7M358,92.64H416.7M358,94.66H416.7M358,96.68H416.7M358,98.70H416.7M358,100.72H416.7M358,102.74H416.7M358,104.76H416.7M358,106.78H416.7M358,108.80H416.7M358,110.82H416.7M358,112.84H416.7M358,114.86H416.7M358,116.88H416.7M358,118.90H416.7M358,120.92H416.7M358,122.94H416.7M358,124.96H416.7M358,126.98H416.7M358,129.00H416.7M358,131.02H416.7M358,133.04H416.7M358,135.06H416.7M358,137.08H416.7M358,139.10H416.7M358,141.12H416.7M358,143.14H416.7M358,145.16H416.7M358,147.18H416.7M358,149.20H416.7M358,151.22H416.7M358,153.24H416.7M358,155.26H416.7M358,157.28H416.7M358,159.30H416.7M358,161.32H416.7M358,163.34H416.7M358,165.36H416.7M358,167.38H416.7M358,169.40H416.7M358,171.42H416.7M358,173.44H416.7M358,175.46H416.7M358,177.48H416.7M358,179.50H416.7M358,181.52H416.7M358,183.54H416.7M358,185.56H416.7M358,187.58H416.7M358,189.60H416.7M358,191.62H416.7M358,193.64H416.7M358,195.66H416.7M358,197.68H416.7M358,199.70H416.7M358,201.72H416.7M358,203.74H416.7M358,205.76H416.7M358,207.78H416.7M358,209.80H416.7M358,211.82H416.7M358,213.84H416.7M358,215.86H416.7M358,217.88H416.7M358,219.90H416.7M358,221.92H416.7M358,223.94H416.7M358,225.96H416.7M358,227.98H416.7M358,230.00H416.7M358,232.02H416.7M358,234.04H416.7M358,236.06H416.7M358,238.08H416.7M358,240.10H416.7M358,242.12H416.7M358,244.14H416.7M358,246.16H416.7M358,248.18H416.7M358,250.20H416.7M358,252.22H416.7M358,254.24H416.7M358,256.26H416.7M358,258.28H416.7M358,260.30H416.7M358,262.32H416.7M358,264.34H416.7M358,266.36H416.7M358,268.38H416.7M358,270.40H416.7M358,272.42H416.7M358,274.44H416.7M358,276.46H416.7M358,278.48H416.7M358,280.50H416.7M358,282.52H416.7M358,284.54H416.7M358,286.56H416.7M358,288.58H416.7M358,290.60H416.7M358,292.62H416.7M358,294.64H416.7M358,296.66H416.7M358,298.68H416.7M358,300.70H416.7M358,302.72H416.7M358,304.74H416.7M358,306.76H416.7M358,308.78H416.7M358,310.80H416.7M358,312.82H416.7M358,314.84H416.7M358,316.86H416.7M358,318.88H416.7M358,320.90H416.7M358,322.92H416.7M358,324.94H416.7M358,326.96H416.7M358,328.98H416.7M358,331.00H416.7M358,333.02H416.7M358,335.04H416.7M358,337.06H416.7M358,339.08H416.7M358,341.10H416.7M358,343.12H416.7M358,345.14H416.7M358,347.16H416.7M358,349.18H416.7M358,351.20H416.7M358,353.22H416.7M358,355.24H416.7M358,357.26H416.7M358,359.28H416.7M358,361.30H416.7M358,363.32H416.7M358,365.34H416.7M358,367.36H416.7M358,369.38H416.7M358,371.40H416.7M358,373.42H416.7M358,375.44H416.7M358,377.46H416.7M358,379.48H416.7M358,381.50H416.7M358,383.52H416.7M358,385.54H416.7M358,387.56H416.7M358,389.58H416.7" stroke="#e0e0e0" stroke-width="0.35" fill="none"/>
<line x1="358" y1="48.2" x2="358" y2="391.6" stroke="#d8d8d8" stroke-width="0.5" />
<line x1="367.7" y1="48.2" x2="367.7" y2="391.6" stroke="#d8d8d8" stroke-width="0.5" />
<line x1="377.5" y1="48.2" x2="377.5" y2="391.6" stroke="#d8d8d8" stroke-width="0.5" />
<line x1="386.5" y1="48.2" x2="386.5" y2="391.6" stroke="#d8d8d8" stroke-width="0.5" />
<line x1="396.5" y1="48.2" x2="396.5" y2="391.6" stroke="#d8d8d8" stroke-width="0.5" />
<line x1="406.7" y1="48.2" x2="406.7" y2="391.6" stroke="#d8d8d8" stroke-width="0.5" />
<line x1="416.7" y1="48.2" x2="416.7" y2="391.6" stroke="#d8d8d8" stroke-width="0.5" />
<rect x="358" y="48.2" width="9.699999999999989" height="29.799999999999997" fill="#a5a5a5" stroke="none" stroke-width="1" />
<rect x="358" y="79.3" width="9.699999999999989" height="19.200000000000003" fill="#a5a5a5" stroke="none" stroke-width="1" />
<rect x="358" y="100" width="9.699999999999989" height="41.30000000000001" fill="#a5a5a5" stroke="none" stroke-width="1" />
<rect x="358" y="144.8" width="9.699999999999989" height="54.099999999999994" fill="#a5a5a5" stroke="none" stroke-width="1" />
<rect x="358" y="200.4" width="9.699999999999989" height="1.799999999999983" fill="#a5a5a5" stroke="none" stroke-width="1" />
<rect x="358" y="205.7" width="9.699999999999989" height="6.0" fill="#a5a5a5" stroke="none" stroke-width="1" />
<rect x="358" y="213.2" width="9.699999999999989" height="20.80000000000001" fill="#a5a5a5" stroke="none" stroke-width="1" />
<rect x="358" y="235.6" width="9.699999999999989" height="42.900000000000006" fill="#a5a5a5" stroke="none" stroke-width="1" />
<rect x="358" y="280" width="9.699999999999989" height="57.5" fill="#a5a5a5" stroke="none" stroke-width="1" />
<rect x="358" y="339.4" width="9.699999999999989" height="9.400000000000034" fill="#a5a5a5" stroke="none" stroke-width="1" />
<rect x="358" y="350.6" width="9.699999999999989" height="3.7999999999999545" fill="#a5a5a5" stroke="none" stroke-width="1" />
<rect x="358" y="357.8" width="9.699999999999989" height="30.0" fill="#a5a5a5" stroke="none" stroke-width="1" />
<rect x="367.7" y="48.2" width="9.800000000000011" height="5.399999999999999" fill="#88009a" stroke="none" stroke-width="1" />
<rect x="367.7" y="55.5" width="9.800000000000011" height="17.5" fill="#88009a" stroke="none" stroke-width="1" />
<rect x="367.7" y="77.4" width="9.800000000000011" height="85.6" fill="#88009a" stroke="none" stroke-width="1" />
<rect x="367.7" y="165.2" width="9.800000000000011" height="1.5" fill="#88009a" stroke="none" stroke-width="1" />
<rect x="367.7" y="168.7" width="9.800000000000011" height="5.5" fill="#88009a" stroke="none" stroke-width="1" />
<rect x="367.7" y="176.1" width="9.800000000000011" height="5.5" fill="#88009a" stroke="none" stroke-width="1" />
<rect x="367.7" y="185.4" width="9.800000000000011" height="5.199999999999989" fill="#88009a" stroke="none" stroke-width="1" />
<rect x="367.7" y="194.6" width="9.800000000000011" height="15.599999999999994" fill="#88009a" stroke="none" stroke-width="1" />
<rect x="367.7" y="212.9" width="9.800000000000011" height="122.70000000000002" fill="#88009a" stroke="none" stroke-width="1" />
<rect x="367.7" y="337.3" width="9.800000000000011" height="24.69999999999999" fill="#88009a" stroke="none" stroke-width="1" />
<rect x="367.7" y="363.5" width="9.800000000000011" height="28.100000000000023" fill="#88009a" stroke="none" stroke-width="1" />
<rect x="377.5" y="48.2" width="9.0" height="42.8" fill="#ff0000" stroke="none" stroke-width="1" />
<rect x="377.5" y="92.7" width="9.0" height="6.099999999999994" fill="#ff0000" stroke="none" stroke-width="1" />
<rect x="377.5" y="100" width="9.0" height="8" fill="#ff0000" stroke="none" stroke-width="1" />
<rect x="377.5" y="109.4" width="9.0" height="5.599999999999994" fill="#ff0000" stroke="none" stroke-width="1" />
<rect x="377.5" y="116.5" width="9.0" height="16.0" fill="#ff0000" stroke="none" stroke-width="1" />
<rect x="377.5" y="133.8" width="9.0" height="1.799999999999983" fill="#ff0000" stroke="none" stroke-width="1" />
<rect x="377.5" y="137" width="9.0" height="2.4000000000000057" fill="#ff0000" stroke="none" stroke-width="1" />
<rect x="377.5" y="140.6" width="9.0" height="27.599999999999994" fill="#ff0000" stroke="none" stroke-width="1" />
<rect x="377.5" y="180.1" width="9.0" height="3.8000000000000114" fill="#ff0000" stroke="none" stroke-width="1" />
<rect x="377.5" y="188.4" width="9.0" height="2.1999999999999886" fill="#ff0000" stroke="none" stroke-width="1" />
<rect x="377.5" y="195" width="9.0" height="5.400000000000006" fill="#ff0000" stroke="none" stroke-width="1" />
<rect x="377.5" y="201.9" width="9.0" height="85.6" fill="#ff0000" stroke="none" stroke-width="1" />
<rect x="377.5" y="350.6" width="9.0" height="12.399999999999977" fill="#ff0000" stroke="none" stroke-width="1" />
<rect x="386.5" y="48.2" width="10.6" height="45.3" fill="#ff9e00" stroke="none" stroke-width="1" />
<rect x="386.5" y="99" width="10.6" height="10.5" fill="#ff9e00" stroke="none" stroke-width="1" />
<rect x="396.5" y="48.2" width="10.799999999999988" height="132.8" fill="#ff9e00" stroke="none" stroke-width="1" />
<rect x="406.7" y="48.2" width="10.0" height="50.8" fill="#ff9e00" stroke="none" stroke-width="1" />
<rect x="406.7" y="109.5" width="10.0" height="19.5" fill="#ff9e00" stroke="none" stroke-width="1" />
<rect x="406.7" y="182" width="10.0" height="31" fill="#ff9e00" stroke="none" stroke-width="1" />
<rect x="386.6" y="49.1" width="29.7" height="43.9" fill="none" stroke="#1a1000" stroke-width="1.4" />
<rect x="448" y="49.6" width="59.69999999999999" height="348.09999999999997" fill="#fbfbfb" stroke="none" stroke-width="1" />
<path d="M448,51.62H507.7M448,53.65H507.7M448,55.67H507.7M448,57.70H507.7M448,59.72H507.7M448,61.74H507.7M448,63.77H507.7M448,65.79H507.7M448,67.81H507.7M448,69.84H507.7M448,71.86H507.7M448,73.89H507.7M448,75.91H507.7M448,77.93H507.7M448,79.96H507.7M448,81.98H507.7M448,84.01H507.7M448,86.03H507.7M448,88.05H507.7M448,90.08H507.7M448,92.10H507.7M448,94.12H507.7M448,96.15H507.7M448,98.17H507.7M448,100.20H507.7M448,102.22H507.7M448,104.24H507.7M448,106.27H507.7M448,108.29H507.7M448,110.32H507.7M448,112.34H507.7M448,114.36H507.7M448,116.39H507.7M448,118.41H507.7M448,120.43H507.7M448,122.46H507.7M448,124.48H507.7M448,126.51H507.7M448,128.53H507.7M448,130.55H507.7M448,132.58H507.7M448,134.60H507.7M448,136.62H507.7M448,138.65H507.7M448,140.67H507.7M448,142.70H507.7M448,144.72H507.7M448,146.74H507.7M448,148.77H507.7M448,150.79H507.7M448,152.82H507.7M448,154.84H507.7M448,156.86H507.7M448,158.89H507.7M448,160.91H507.7M448,162.93H507.7M448,164.96H507.7M448,166.98H507.7M448,169.01H507.7M448,171.03H507.7M448,173.05H507.7M448,175.08H507.7M448,177.10H507.7M448,179.13H507.7M448,181.15H507.7M448,183.17H507.7M448,185.20H507.7M448,187.22H507.7M448,189.24H507.7M448,191.27H507.7M448,193.29H507.7M448,195.32H507.7M448,197.34H507.7M448,199.36H507.7M448,201.39H507.7M448,203.41H507.7M448,205.44H507.7M448,207.46H507.7M448,209.48H507.7M448,211.51H507.7M448,213.53H507.7M448,215.55H507.7M448,217.58H507.7M448,219.60H507.7M448,221.63H507.7M448,223.65H507.7M448,225.67H507.7M448,227.70H507.7M448,229.72H507.7M448,231.75H507.7M448,233.77H507.7M448,235.79H507.7M448,237.82H507.7M448,239.84H507.7M448,241.86H507.7M448,243.89H507.7M448,245.91H507.7M448,247.94H507.7M448,249.96H507.7M448,251.98H507.7M448,254.01H507.7M448,256.03H507.7M448,258.06H507.7M448,260.08H507.7M448,262.10H507.7M448,264.13H507.7M448,266.15H507.7M448,268.17H507.7M448,270.20H507.7M448,272.22H507.7M448,274.25H507.7M448,276.27H507.7M448,278.29H507.7M448,280.32H507.7M448,282.34H507.7M448,284.37H507.7M448,286.39H507.7M448,288.41H507.7M448,290.44H507.7M448,292.46H507.7M448,294.48H507.7M448,296.51H507.7M448,298.53H507.7M448,300.56H507.7M448,302.58H507.7M448,304.60H507.7M448,306.63H507.7M448,308.65H507.7M448,310.68H507.7M448,312.70H507.7M448,314.72H507.7M448,316.75H507.7M448,318.77H507.7M448,320.79H507.7M448,322.82H507.7M448,324.84H507.7M448,326.87H507.7M448,328.89H507.7M448,330.91H507.7M448,332.94H507.7M448,334.96H507.7M448,336.98H507.7M448,339.01H507.7M448,341.03H507.7M448,343.06H507.7M448,345.08H507.7M448,347.10H507.7M448,349.13H507.7M448,351.15H507.7M448,353.18H507.7M448,355.20H507.7M448,357.22H507.7M448,359.25H507.7M448,361.27H507.7M448,363.29H507.7M448,365.32H507.7M448,367.34H507.7M448,369.37H507.7M448,371.39H507.7M448,373.41H507.7M448,375.44H507.7M448,377.46H507.7M448,379.49H507.7M448,381.51H507.7M448,383.53H507.7M448,385.56H507.7M448,387.58H507.7M448,389.60H507.7M448,391.63H507.7M448,393.65H507.7M448,395.68H507.7" stroke="#e0e0e0" stroke-width="0.35" fill="none"/>
<line x1="448" y1="49.6" x2="448" y2="397.7" stroke="#d8d8d8" stroke-width="0.5" />
<line x1="457.75" y1="49.6" x2="457.75" y2="397.7" stroke="#d8d8d8" stroke-width="0.5" />
<line x1="467.75" y1="49.6" x2="467.75" y2="397.7" stroke="#d8d8d8" stroke-width="0.5" />
<line x1="477.8" y1="49.6" x2="477.8" y2="397.7" stroke="#d8d8d8" stroke-width="0.5" />
<line x1="487.9" y1="49.6" x2="487.9" y2="397.7" stroke="#d8d8d8" stroke-width="0.5" />
<line x1="497.8" y1="49.6" x2="497.8" y2="397.7" stroke="#d8d8d8" stroke-width="0.5" />
<line x1="507.7" y1="49.6" x2="507.7" y2="397.7" stroke="#d8d8d8" stroke-width="0.5" />
<rect x="448" y="49.6" width="9.75" height="16.9" fill="#a5a5a5" stroke="none" stroke-width="1" />
<rect x="448" y="68.4" width="9.75" height="1.8499999999999943" fill="#a5a5a5" stroke="none" stroke-width="1" />
<rect x="448" y="72" width="9.75" height="11.75" fill="#a5a5a5" stroke="none" stroke-width="1" />
<rect x="448" y="85.5" width="9.75" height="36.75" fill="#a5a5a5" stroke="none" stroke-width="1" />
<rect x="448" y="123.75" width="9.75" height="40.25" fill="#a5a5a5" stroke="none" stroke-width="1" />
<rect x="448" y="165.6" width="9.75" height="13.400000000000006" fill="#a5a5a5" stroke="none" stroke-width="1" />
<rect x="448" y="182.8" width="9.75" height="37.79999999999998" fill="#a5a5a5" stroke="none" stroke-width="1" />
<rect x="448" y="222.75" width="9.75" height="2.0" fill="#a5a5a5" stroke="none" stroke-width="1" />
<rect x="448" y="230" width="9.75" height="55.60000000000002" fill="#a5a5a5" stroke="none" stroke-width="1" />
<rect x="448" y="287.25" width="9.75" height="76.55000000000001" fill="#a5a5a5" stroke="none" stroke-width="1" />
<rect x="448" y="365.4" width="9.75" height="32.30000000000001" fill="#a5a5a5" stroke="none" stroke-width="1" />
<rect x="457.75" y="49.6" width="10.0" height="83.4" fill="#88009a" stroke="none" stroke-width="1" />
<rect x="457.75" y="134.75" width="10.0" height="262.95" fill="#88009a" stroke="none" stroke-width="1" />
<rect x="467.75" y="49.6" width="10.050000000000011" height="3.1000000000000014" fill="#ff0000" stroke="none" stroke-width="1" />
<rect x="467.75" y="54.7" width="10.050000000000011" height="1.8999999999999986" fill="#ff0000" stroke="none" stroke-width="1" />
<rect x="467.75" y="62.8" width="10.050000000000011" height="1.7999999999999972" fill="#ff0000" stroke="none" stroke-width="1" />
<rect x="467.75" y="68.5" width="10.050000000000011" height="8.900000000000006" fill="#ff0000" stroke="none" stroke-width="1" />
<rect x="467.75" y="89.4" width="10.050000000000011" height="1.5" fill="#ff0000" stroke="none" stroke-width="1" />
<rect x="467.75" y="92.9" width="10.050000000000011" height="87.69999999999999" fill="#ff0000" stroke="none" stroke-width="1" />
<rect x="477.8" y="49.6" width="10.699999999999966" height="3.6000000000000014" fill="#ff9e00" stroke="none" stroke-width="1" />
<rect x="477.8" y="55.1" width="10.699999999999966" height="7.100000000000001" fill="#ff9e00" stroke="none" stroke-width="1" />
<rect x="487.9" y="49.6" width="10.500000000000034" height="4.399999999999999" fill="#ff9e00" stroke="none" stroke-width="1" />
<rect x="487.9" y="62.5" width="10.500000000000034" height="11.200000000000003" fill="#ff9e00" stroke="none" stroke-width="1" />
<rect x="497.8" y="52.9" width="9.899999999999977" height="1.9500000000000028" fill="#ff9e00" stroke="none" stroke-width="1" />
<rect x="497.8" y="74" width="9.899999999999977" height="18.900000000000006" fill="#ff9e00" stroke="none" stroke-width="1" />
<text x="384" y="12" font-size="9" font-weight="bold" font-style="italic">Il-7<tspan font-size="6.2" dy="-3.3">+/+</tspan></text>
<line x1="358" y1="14.6" x2="425.6" y2="14.6" stroke="#333" stroke-width="1" />
<text x="474" y="12.3" font-size="9" font-weight="bold" font-style="italic">Il-7<tspan font-size="7" dy="-3.3" letter-spacing="0.3">-/-</tspan></text>
<line x1="448.5" y1="15" x2="516" y2="15" stroke="#444" stroke-width="1" />
<text font-size="6.8" font-weight="bold" fill="#3a3a3a" transform="translate(364.2,40.4) rotate(-55)">Hprt</text>
<text font-size="6.8" font-weight="bold" fill="#7a1a9a" transform="translate(374.1,40.4) rotate(-55)">Flt3</text>
<text font-size="6.8" font-weight="bold" fill="#e81818" transform="translate(384.0,40.4) rotate(-55)">Ebf1</text>
<text font-size="6.8" font-weight="bold" fill="#f8ae55" transform="translate(393.9,40.4) rotate(-55)">Pax5</text>
<text font-size="6.8" font-weight="bold" fill="#f8ae55" transform="translate(403.8,40.4) rotate(-55)">Cd79a</text>
<text font-size="6.8" font-weight="bold" fill="#f8ae55" transform="translate(413.7,40.4) rotate(-55)">Pou2af1</text>
<text x="362.1" y="46.4" font-size="6.4" font-weight="bold" fill="#6a6a6a" text-anchor="middle" textLength="9.1" lengthAdjust="spacingAndGlyphs">170</text>
<text x="372.5" y="46.4" font-size="6.4" font-weight="bold" fill="#9a3aa0" text-anchor="middle" textLength="9.1" lengthAdjust="spacingAndGlyphs">170</text>
<text x="381.9" y="46.4" font-size="6.4" font-weight="bold" fill="#f03a3a" text-anchor="middle" textLength="9.1" lengthAdjust="spacingAndGlyphs">117</text>
<text x="390.7" y="46.4" font-size="6.4" font-weight="bold" fill="#ffaa50" text-anchor="middle" textLength="6.1" lengthAdjust="spacingAndGlyphs">29</text>
<text x="400.8" y="46.4" font-size="6.4" font-weight="bold" fill="#ffaa50" text-anchor="middle" textLength="6.1" lengthAdjust="spacingAndGlyphs">71</text>
<text x="410.6" y="46.4" font-size="6.4" font-weight="bold" fill="#ffaa50" text-anchor="middle" textLength="6.1" lengthAdjust="spacingAndGlyphs">55</text>
<text font-size="6.8" font-weight="bold" fill="#3a3a3a" transform="translate(454.0,41.3) rotate(-55)">Hprt</text>
<text font-size="6.8" font-weight="bold" fill="#7a1a9a" transform="translate(463.9,41.3) rotate(-55)">Flt3</text>
<text font-size="6.8" font-weight="bold" fill="#e81818" transform="translate(473.8,41.3) rotate(-55)">Ebf1</text>
<text font-size="6.8" font-weight="bold" fill="#f8ae55" transform="translate(483.7,41.3) rotate(-55)">Pax5</text>
<text font-size="6.8" font-weight="bold" fill="#f8ae55" transform="translate(493.6,41.3) rotate(-55)">Cd79a</text>
<text font-size="6.8" font-weight="bold" fill="#f8ae55" transform="translate(503.5,41.3) rotate(-55)">Pou2af1</text>
<text x="453.1" y="47.4" font-size="6.4" font-weight="bold" fill="#6a6a6a" text-anchor="middle" textLength="9.1" lengthAdjust="spacingAndGlyphs">169</text>
<text x="462.3" y="47.4" font-size="6.4" font-weight="bold" fill="#9a3aa0" text-anchor="middle" textLength="9.1" lengthAdjust="spacingAndGlyphs">181</text>
<text x="472.7" y="47.4" font-size="6.4" font-weight="bold" fill="#f03a3a" text-anchor="middle" textLength="6.1" lengthAdjust="spacingAndGlyphs">56</text>
<text x="482.6" y="47.4" font-size="6.4" font-weight="bold" fill="#ffaa50" text-anchor="middle" textLength="3.0" lengthAdjust="spacingAndGlyphs">6</text>
<text x="492.5" y="47.4" font-size="6.4" font-weight="bold" fill="#ffaa50" text-anchor="middle" textLength="3.0" lengthAdjust="spacingAndGlyphs">9</text>
<text x="502.4" y="47.4" font-size="6.4" font-weight="bold" fill="#ffaa50" text-anchor="middle" textLength="6.1" lengthAdjust="spacingAndGlyphs">11</text>
</svg>
</body></html>
